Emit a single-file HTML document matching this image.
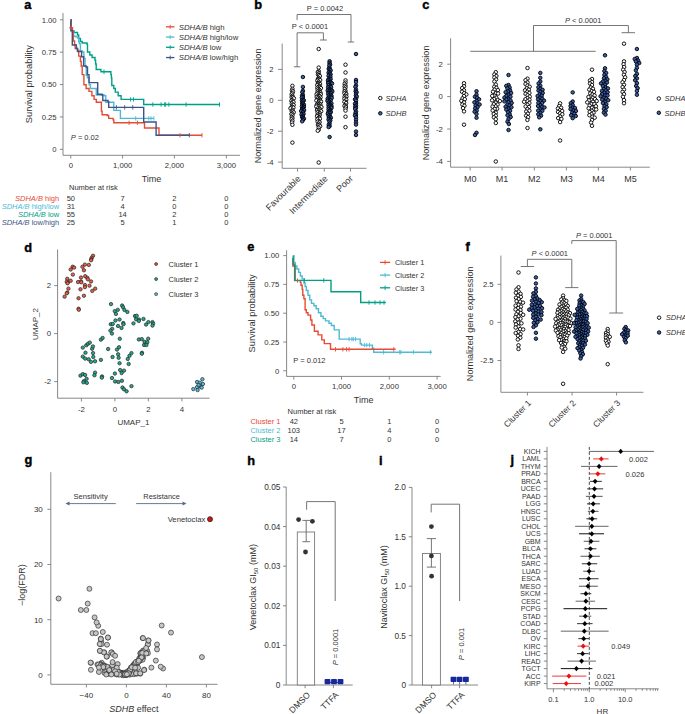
<!DOCTYPE html>
<html><head><meta charset="utf-8"><style>
html,body{margin:0;padding:0;background:#fff;width:685px;height:714px;overflow:hidden;}
svg{display:block;}
text{font-family:"Liberation Sans",sans-serif;}
</style></head><body>
<svg width="685" height="714" viewBox="0 0 685 714">
<rect width="685" height="714" fill="#fff"/>
<text x="24.3" y="9.2" font-size="12.8" font-weight="bold" fill="#000" stroke="#000" stroke-width="0.4">a</text>
<line x1="63.00" y1="13.00" x2="63.00" y2="155.30" stroke="#7a7a7a" stroke-width="0.9" />
<line x1="63.00" y1="155.30" x2="240.00" y2="155.30" stroke="#7a7a7a" stroke-width="0.9" />
<line x1="59.90" y1="19.80" x2="63.00" y2="19.80" stroke="#7a7a7a" stroke-width="0.9" />
<text x="56.60" y="22.57" font-size="7.7" text-anchor="end" fill="#333" >1.00</text>
<line x1="59.90" y1="52.18" x2="63.00" y2="52.18" stroke="#7a7a7a" stroke-width="0.9" />
<text x="56.60" y="54.95" font-size="7.7" text-anchor="end" fill="#333" >0.75</text>
<line x1="59.90" y1="84.55" x2="63.00" y2="84.55" stroke="#7a7a7a" stroke-width="0.9" />
<text x="56.60" y="87.32" font-size="7.7" text-anchor="end" fill="#333" >0.50</text>
<line x1="59.90" y1="116.93" x2="63.00" y2="116.93" stroke="#7a7a7a" stroke-width="0.9" />
<text x="56.60" y="119.70" font-size="7.7" text-anchor="end" fill="#333" >0.25</text>
<line x1="59.90" y1="149.30" x2="63.00" y2="149.30" stroke="#7a7a7a" stroke-width="0.9" />
<text x="56.60" y="152.07" font-size="7.7" text-anchor="end" fill="#333" >0</text>
<line x1="70.80" y1="155.30" x2="70.80" y2="158.50" stroke="#7a7a7a" stroke-width="0.9" />
<text x="70.80" y="168.40" font-size="7.7" text-anchor="middle" fill="#333" >0</text>
<line x1="122.60" y1="155.30" x2="122.60" y2="158.50" stroke="#7a7a7a" stroke-width="0.9" />
<text x="122.60" y="168.40" font-size="7.7" text-anchor="middle" fill="#333" >1,000</text>
<line x1="174.40" y1="155.30" x2="174.40" y2="158.50" stroke="#7a7a7a" stroke-width="0.9" />
<text x="174.40" y="168.40" font-size="7.7" text-anchor="middle" fill="#333" >2,000</text>
<line x1="226.40" y1="155.30" x2="226.40" y2="158.50" stroke="#7a7a7a" stroke-width="0.9" />
<text x="226.40" y="168.40" font-size="7.7" text-anchor="middle" fill="#333" >3,000</text>
<text x="151.50" y="181.70" font-size="9" text-anchor="middle" fill="#333" >Time</text>
<text transform="translate(28.40,84.20) rotate(-90)" x="0" y="3.35" font-size="9.3" text-anchor="middle" fill="#333">Survival probability</text>
<path d="M70.80,19.80 H71.30 V31.00 H74.00 V32.50 H77.50 V35.00 H78.70 V38.50 H80.40 V41.50 H82.20 V43.00 H87.00 V44.20 H87.50 V52.00 H89.80 V55.00 H92.10 V57.50 H95.00 V60.30 H95.60 V64.00 H96.20 V69.50 H100.90 V71.80 H110.90 V74.60 H111.40 V78.00 H111.80 V85.50 H113.80 V88.50 H115.30 V92.10 H118.20 V95.80 H121.10 V99.40 H143.70 V104.50 H220.00" fill="none" stroke="#00A087" stroke-width="1.4"/>
<path d="M70.80,19.80 H71.10 V31.60 H72.80 V32.80 H73.40 V36.30 H75.80 V36.90 H77.50 V38.00 H78.70 V41.50 H79.30 V43.90 H80.40 V50.90 H82.20 V52.00 H83.90 V58.50 H85.10 V66.10 H86.30 V75.40 H87.40 V77.70 H89.20 V84.70 H90.40 V88.50 H96.30 V95.00 H104.30 V95.80 H105.80 V102.30 H113.80 V110.40 H120.40 V118.40 H153.90" fill="none" stroke="#4DBBD5" stroke-width="1.4"/>
<path d="M70.80,19.80 H71.10 V27.80 H72.30 V30.40 H73.40 V41.00 H74.60 V45.00 H75.20 V48.50 H77.50 V50.30 H78.70 V56.10 H80.40 V61.40 H81.20 V66.00 H82.20 V74.60 H83.90 V84.80 H86.10 V88.50 H89.00 V91.40 H91.90 V95.80 H94.10 V99.40 H96.30 V102.30 H101.40 V111.10 H102.10 V114.70 H107.20 V115.50 H108.70 V118.40 H113.10 V119.90 H113.80 V122.80 H144.50 V128.00 H159.00 V135.20 H202.00" fill="none" stroke="#E64B35" stroke-width="1.4"/>
<path d="M70.80,19.80 H70.90 V30.40 H72.30 V45.00 H76.40 V48.50 H77.50 V51.50 H81.60 V56.70 H83.60 V66.00 H86.10 V67.00 H87.50 V74.60 H89.00 V82.60 H97.70 V94.30 H102.10 V95.00 H102.80 V100.50 H108.00 V101.60 H108.70 V107.40 H143.70 V122.00 H156.10 V135.20 H189.30" fill="none" stroke="#3C5488" stroke-width="1.4"/>
<line x1="152.80" y1="102.30" x2="152.80" y2="106.70" stroke="#00A087" stroke-width="0.9" />
<line x1="161.10" y1="102.30" x2="161.10" y2="106.70" stroke="#00A087" stroke-width="0.9" />
<line x1="164.70" y1="102.30" x2="164.70" y2="106.70" stroke="#00A087" stroke-width="0.9" />
<line x1="165.60" y1="102.30" x2="165.60" y2="106.70" stroke="#00A087" stroke-width="0.9" />
<line x1="168.90" y1="102.30" x2="168.90" y2="106.70" stroke="#00A087" stroke-width="0.9" />
<line x1="186.10" y1="102.30" x2="186.10" y2="106.70" stroke="#00A087" stroke-width="0.9" />
<line x1="219.50" y1="102.30" x2="219.50" y2="106.70" stroke="#00A087" stroke-width="0.9" />
<line x1="130.60" y1="97.20" x2="130.60" y2="101.60" stroke="#00A087" stroke-width="0.9" />
<line x1="133.50" y1="97.20" x2="133.50" y2="101.60" stroke="#00A087" stroke-width="0.9" />
<line x1="104.00" y1="69.60" x2="104.00" y2="74.00" stroke="#00A087" stroke-width="0.9" />
<line x1="129.10" y1="120.60" x2="129.10" y2="125.00" stroke="#E64B35" stroke-width="0.9" />
<line x1="137.40" y1="120.60" x2="137.40" y2="125.00" stroke="#E64B35" stroke-width="0.9" />
<line x1="179.90" y1="133.00" x2="179.90" y2="137.40" stroke="#E64B35" stroke-width="0.9" />
<line x1="202.00" y1="133.00" x2="202.00" y2="137.40" stroke="#E64B35" stroke-width="0.9" />
<line x1="69.00" y1="27.80" x2="73.40" y2="27.80" stroke="#E64B35" stroke-width="0.9" />
<line x1="71.20" y1="25.60" x2="71.20" y2="30.00" stroke="#E64B35" stroke-width="0.9" />
<line x1="116.40" y1="105.20" x2="116.40" y2="109.60" stroke="#3C5488" stroke-width="0.9" />
<line x1="124.70" y1="105.20" x2="124.70" y2="109.60" stroke="#3C5488" stroke-width="0.9" />
<line x1="132.80" y1="105.20" x2="132.80" y2="109.60" stroke="#3C5488" stroke-width="0.9" />
<line x1="189.30" y1="133.00" x2="189.30" y2="137.40" stroke="#3C5488" stroke-width="0.9" />
<line x1="135.70" y1="116.20" x2="135.70" y2="120.60" stroke="#4DBBD5" stroke-width="0.9" />
<line x1="148.80" y1="116.20" x2="148.80" y2="120.60" stroke="#4DBBD5" stroke-width="0.9" />
<line x1="151.00" y1="116.20" x2="151.00" y2="120.60" stroke="#4DBBD5" stroke-width="0.9" />
<line x1="153.90" y1="116.20" x2="153.90" y2="120.60" stroke="#4DBBD5" stroke-width="0.9" />
<text x="70.80" y="139.70" font-size="7.5" text-anchor="start" fill="#333" ><tspan font-style="italic">P</tspan> = 0.02</text>
<line x1="166.00" y1="26.80" x2="174.40" y2="26.80" stroke="#E64B35" stroke-width="1.3" />
<line x1="170.20" y1="24.80" x2="170.20" y2="28.80" stroke="#E64B35" stroke-width="0.9" />
<text x="178.80" y="29.60" font-size="7.75" text-anchor="start" fill="#333" ><tspan font-style="italic">SDHA/B</tspan> high</text>
<line x1="166.00" y1="37.05" x2="174.40" y2="37.05" stroke="#4DBBD5" stroke-width="1.3" />
<line x1="170.20" y1="35.05" x2="170.20" y2="39.05" stroke="#4DBBD5" stroke-width="0.9" />
<text x="178.80" y="39.85" font-size="7.75" text-anchor="start" fill="#333" ><tspan font-style="italic">SDHA/B</tspan> high/low</text>
<line x1="166.00" y1="47.30" x2="174.40" y2="47.30" stroke="#00A087" stroke-width="1.3" />
<line x1="170.20" y1="45.30" x2="170.20" y2="49.30" stroke="#00A087" stroke-width="0.9" />
<text x="178.80" y="50.10" font-size="7.75" text-anchor="start" fill="#333" ><tspan font-style="italic">SDHA/B</tspan> low</text>
<line x1="166.00" y1="57.55" x2="174.40" y2="57.55" stroke="#3C5488" stroke-width="1.3" />
<line x1="170.20" y1="55.55" x2="170.20" y2="59.55" stroke="#3C5488" stroke-width="0.9" />
<text x="178.80" y="60.35" font-size="7.75" text-anchor="start" fill="#333" ><tspan font-style="italic">SDHA/B</tspan> low/high</text>
<text x="69.00" y="190.00" font-size="7.5" text-anchor="start" fill="#333" >Number at risk</text>
<text x="59.20" y="201.00" font-size="7.5" text-anchor="end" fill="#E64B35" ><tspan font-style="italic">SDHA/B</tspan> high</text>
<text x="70.80" y="201.00" font-size="7.5" text-anchor="middle" fill="#333" >50</text>
<text x="122.60" y="201.00" font-size="7.5" text-anchor="middle" fill="#333" >7</text>
<text x="174.40" y="201.00" font-size="7.5" text-anchor="middle" fill="#333" >2</text>
<text x="226.40" y="201.00" font-size="7.5" text-anchor="middle" fill="#333" >0</text>
<text x="59.20" y="209.15" font-size="7.5" text-anchor="end" fill="#4DBBD5" ><tspan font-style="italic">SDHA/B</tspan> high/low</text>
<text x="70.80" y="209.15" font-size="7.5" text-anchor="middle" fill="#333" >31</text>
<text x="122.60" y="209.15" font-size="7.5" text-anchor="middle" fill="#333" >4</text>
<text x="174.40" y="209.15" font-size="7.5" text-anchor="middle" fill="#333" >0</text>
<text x="226.40" y="209.15" font-size="7.5" text-anchor="middle" fill="#333" >0</text>
<text x="59.20" y="217.30" font-size="7.5" text-anchor="end" fill="#00A087" ><tspan font-style="italic">SDHA/B</tspan> low</text>
<text x="70.80" y="217.30" font-size="7.5" text-anchor="middle" fill="#333" >55</text>
<text x="122.60" y="217.30" font-size="7.5" text-anchor="middle" fill="#333" >14</text>
<text x="174.40" y="217.30" font-size="7.5" text-anchor="middle" fill="#333" >2</text>
<text x="226.40" y="217.30" font-size="7.5" text-anchor="middle" fill="#333" >0</text>
<text x="59.20" y="225.45" font-size="7.5" text-anchor="end" fill="#3C5488" ><tspan font-style="italic">SDHA/B</tspan> low/high</text>
<text x="70.80" y="225.45" font-size="7.5" text-anchor="middle" fill="#333" >25</text>
<text x="122.60" y="225.45" font-size="7.5" text-anchor="middle" fill="#333" >5</text>
<text x="174.40" y="225.45" font-size="7.5" text-anchor="middle" fill="#333" >1</text>
<text x="226.40" y="225.45" font-size="7.5" text-anchor="middle" fill="#333" >0</text>
<text x="254.3" y="9.0" font-size="12.8" font-weight="bold" fill="#000" stroke="#000" stroke-width="0.4">b</text>
<line x1="282.20" y1="43.60" x2="282.20" y2="168.30" stroke="#7a7a7a" stroke-width="0.9" />
<line x1="282.20" y1="168.30" x2="366.50" y2="168.30" stroke="#7a7a7a" stroke-width="0.9" />
<line x1="278.00" y1="69.40" x2="282.20" y2="69.40" stroke="#7a7a7a" stroke-width="0.9" />
<text x="273.60" y="72.17" font-size="7.7" text-anchor="end" fill="#333" >2</text>
<line x1="278.00" y1="100.30" x2="282.20" y2="100.30" stroke="#7a7a7a" stroke-width="0.9" />
<text x="273.60" y="103.07" font-size="7.7" text-anchor="end" fill="#333" >0</text>
<line x1="278.00" y1="131.20" x2="282.20" y2="131.20" stroke="#7a7a7a" stroke-width="0.9" />
<text x="273.60" y="133.97" font-size="7.7" text-anchor="end" fill="#333" >-2</text>
<line x1="278.00" y1="162.10" x2="282.20" y2="162.10" stroke="#7a7a7a" stroke-width="0.9" />
<text x="273.60" y="164.87" font-size="7.7" text-anchor="end" fill="#333" >-4</text>
<line x1="297.50" y1="168.30" x2="297.50" y2="171.60" stroke="#7a7a7a" stroke-width="0.9" />
<line x1="324.30" y1="168.30" x2="324.30" y2="171.60" stroke="#7a7a7a" stroke-width="0.9" />
<line x1="350.50" y1="168.30" x2="350.50" y2="171.60" stroke="#7a7a7a" stroke-width="0.9" />
<text transform="translate(257.90,105.90) rotate(-90)" x="0" y="3.26" font-size="9.05" text-anchor="middle" fill="#333">Normalized gene expression</text>
<text transform="translate(301.3,179.3) rotate(-45)" x="0" y="0" font-size="9" text-anchor="end" fill="#333">Favourable</text>
<text transform="translate(328.3,179.1) rotate(-45)" x="0" y="0" font-size="9" text-anchor="end" fill="#333">Intermediate</text>
<text transform="translate(353.5,179.1) rotate(-45)" x="0" y="0" font-size="9" text-anchor="end" fill="#333">Poor</text>
<path d="M297.10,20.10 V14.50 H351.00 V42.00" fill="none" stroke="#666" stroke-width="0.9"/>
<line x1="347.80" y1="42.00" x2="354.20" y2="42.00" stroke="#666" stroke-width="0.9" />
<text x="325.00" y="11.30" font-size="7.5" text-anchor="middle" fill="#333" >P = 0.0042</text>
<path d="M297.10,66.80 V32.80 H323.40 V40.00" fill="none" stroke="#666" stroke-width="0.9"/>
<line x1="293.90" y1="66.80" x2="300.30" y2="66.80" stroke="#666" stroke-width="0.9" />
<line x1="319.90" y1="40.00" x2="326.90" y2="40.00" stroke="#666" stroke-width="0.9" />
<text x="310.00" y="28.50" font-size="7.5" text-anchor="middle" fill="#333" >P &lt; 0.0001</text>
<circle cx="292.40" cy="85.83" r="1.75" fill="#fff" stroke="#000" stroke-width="0.9"/>
<circle cx="292.40" cy="88.84" r="1.75" fill="#fff" stroke="#000" stroke-width="0.9"/>
<circle cx="292.04" cy="90.53" r="1.75" fill="#fff" stroke="#000" stroke-width="0.9"/>
<circle cx="292.95" cy="91.49" r="1.75" fill="#fff" stroke="#000" stroke-width="0.9"/>
<circle cx="292.40" cy="93.19" r="1.75" fill="#fff" stroke="#000" stroke-width="0.9"/>
<circle cx="291.61" cy="94.42" r="1.75" fill="#fff" stroke="#000" stroke-width="0.9"/>
<circle cx="292.40" cy="95.86" r="1.75" fill="#fff" stroke="#000" stroke-width="0.9"/>
<circle cx="291.65" cy="97.16" r="1.75" fill="#fff" stroke="#000" stroke-width="0.9"/>
<circle cx="292.97" cy="97.39" r="1.75" fill="#fff" stroke="#000" stroke-width="0.9"/>
<circle cx="293.89" cy="98.34" r="1.75" fill="#fff" stroke="#000" stroke-width="0.9"/>
<circle cx="292.40" cy="100.30" r="1.75" fill="#fff" stroke="#000" stroke-width="0.9"/>
<circle cx="291.36" cy="100.77" r="1.75" fill="#fff" stroke="#000" stroke-width="0.9"/>
<circle cx="292.40" cy="102.10" r="1.75" fill="#fff" stroke="#000" stroke-width="0.9"/>
<circle cx="293.48" cy="102.11" r="1.75" fill="#fff" stroke="#000" stroke-width="0.9"/>
<circle cx="291.75" cy="103.54" r="1.75" fill="#fff" stroke="#000" stroke-width="0.9"/>
<circle cx="292.54" cy="104.77" r="1.75" fill="#fff" stroke="#000" stroke-width="0.9"/>
<circle cx="293.61" cy="105.06" r="1.75" fill="#fff" stroke="#000" stroke-width="0.9"/>
<circle cx="292.40" cy="106.81" r="1.75" fill="#fff" stroke="#000" stroke-width="0.9"/>
<circle cx="291.40" cy="107.48" r="1.75" fill="#fff" stroke="#000" stroke-width="0.9"/>
<circle cx="293.36" cy="107.64" r="1.75" fill="#fff" stroke="#000" stroke-width="0.9"/>
<circle cx="290.46" cy="108.38" r="1.75" fill="#fff" stroke="#000" stroke-width="0.9"/>
<circle cx="292.40" cy="109.91" r="1.75" fill="#fff" stroke="#000" stroke-width="0.9"/>
<circle cx="291.72" cy="111.31" r="1.75" fill="#fff" stroke="#000" stroke-width="0.9"/>
<circle cx="292.79" cy="111.59" r="1.75" fill="#fff" stroke="#000" stroke-width="0.9"/>
<circle cx="293.77" cy="112.37" r="1.75" fill="#fff" stroke="#000" stroke-width="0.9"/>
<circle cx="292.40" cy="113.62" r="1.75" fill="#fff" stroke="#000" stroke-width="0.9"/>
<circle cx="291.38" cy="114.20" r="1.75" fill="#fff" stroke="#000" stroke-width="0.9"/>
<circle cx="292.40" cy="115.54" r="1.75" fill="#fff" stroke="#000" stroke-width="0.9"/>
<circle cx="291.74" cy="116.97" r="1.75" fill="#fff" stroke="#000" stroke-width="0.9"/>
<circle cx="292.48" cy="118.29" r="1.75" fill="#fff" stroke="#000" stroke-width="0.9"/>
<circle cx="291.60" cy="119.33" r="1.75" fill="#fff" stroke="#000" stroke-width="0.9"/>
<circle cx="292.40" cy="120.83" r="1.75" fill="#fff" stroke="#000" stroke-width="0.9"/>
<circle cx="292.02" cy="122.51" r="1.75" fill="#fff" stroke="#000" stroke-width="0.9"/>
<circle cx="292.40" cy="124.79" r="1.75" fill="#fff" stroke="#000" stroke-width="0.9"/>
<circle cx="292.40" cy="142.60" r="1.75" fill="#fff" stroke="#000" stroke-width="0.9"/>
<circle cx="302.90" cy="77.00" r="1.75" fill="#3a5fae" stroke="#000" stroke-width="0.9"/>
<circle cx="302.90" cy="86.90" r="1.75" fill="#3a5fae" stroke="#000" stroke-width="0.9"/>
<circle cx="302.90" cy="90.81" r="1.75" fill="#3a5fae" stroke="#000" stroke-width="0.9"/>
<circle cx="302.29" cy="92.30" r="1.75" fill="#3a5fae" stroke="#000" stroke-width="0.9"/>
<circle cx="302.90" cy="94.79" r="1.75" fill="#3a5fae" stroke="#000" stroke-width="0.9"/>
<circle cx="302.00" cy="95.78" r="1.75" fill="#3a5fae" stroke="#000" stroke-width="0.9"/>
<circle cx="302.90" cy="97.07" r="1.75" fill="#3a5fae" stroke="#000" stroke-width="0.9"/>
<circle cx="301.87" cy="97.61" r="1.75" fill="#3a5fae" stroke="#000" stroke-width="0.9"/>
<circle cx="302.90" cy="99.59" r="1.75" fill="#3a5fae" stroke="#000" stroke-width="0.9"/>
<circle cx="301.93" cy="100.38" r="1.75" fill="#3a5fae" stroke="#000" stroke-width="0.9"/>
<circle cx="303.86" cy="100.40" r="1.75" fill="#3a5fae" stroke="#000" stroke-width="0.9"/>
<circle cx="302.90" cy="101.52" r="1.75" fill="#3a5fae" stroke="#000" stroke-width="0.9"/>
<circle cx="302.15" cy="102.82" r="1.75" fill="#3a5fae" stroke="#000" stroke-width="0.9"/>
<circle cx="303.12" cy="103.62" r="1.75" fill="#3a5fae" stroke="#000" stroke-width="0.9"/>
<circle cx="302.25" cy="104.67" r="1.75" fill="#3a5fae" stroke="#000" stroke-width="0.9"/>
<circle cx="303.92" cy="104.83" r="1.75" fill="#3a5fae" stroke="#000" stroke-width="0.9"/>
<circle cx="302.93" cy="106.08" r="1.75" fill="#3a5fae" stroke="#000" stroke-width="0.9"/>
<circle cx="301.90" cy="106.64" r="1.75" fill="#3a5fae" stroke="#000" stroke-width="0.9"/>
<circle cx="303.87" cy="106.94" r="1.75" fill="#3a5fae" stroke="#000" stroke-width="0.9"/>
<circle cx="302.90" cy="108.02" r="1.75" fill="#3a5fae" stroke="#000" stroke-width="0.9"/>
<circle cx="302.04" cy="109.11" r="1.75" fill="#3a5fae" stroke="#000" stroke-width="0.9"/>
<circle cx="303.04" cy="109.81" r="1.75" fill="#3a5fae" stroke="#000" stroke-width="0.9"/>
<circle cx="304.10" cy="110.15" r="1.75" fill="#3a5fae" stroke="#000" stroke-width="0.9"/>
<circle cx="302.23" cy="111.01" r="1.75" fill="#3a5fae" stroke="#000" stroke-width="0.9"/>
<circle cx="301.15" cy="111.11" r="1.75" fill="#3a5fae" stroke="#000" stroke-width="0.9"/>
<circle cx="303.07" cy="112.14" r="1.75" fill="#3a5fae" stroke="#000" stroke-width="0.9"/>
<circle cx="302.44" cy="113.61" r="1.75" fill="#3a5fae" stroke="#000" stroke-width="0.9"/>
<circle cx="303.50" cy="113.98" r="1.75" fill="#3a5fae" stroke="#000" stroke-width="0.9"/>
<circle cx="301.52" cy="114.55" r="1.75" fill="#3a5fae" stroke="#000" stroke-width="0.9"/>
<circle cx="302.90" cy="115.89" r="1.75" fill="#3a5fae" stroke="#000" stroke-width="0.9"/>
<circle cx="302.06" cy="117.02" r="1.75" fill="#3a5fae" stroke="#000" stroke-width="0.9"/>
<circle cx="302.97" cy="117.98" r="1.75" fill="#3a5fae" stroke="#000" stroke-width="0.9"/>
<circle cx="303.96" cy="118.69" r="1.75" fill="#3a5fae" stroke="#000" stroke-width="0.9"/>
<circle cx="302.90" cy="119.93" r="1.75" fill="#3a5fae" stroke="#000" stroke-width="0.9"/>
<circle cx="302.20" cy="121.30" r="1.75" fill="#3a5fae" stroke="#000" stroke-width="0.9"/>
<circle cx="318.70" cy="49.00" r="1.75" fill="#fff" stroke="#000" stroke-width="0.9"/>
<circle cx="318.70" cy="67.60" r="1.75" fill="#fff" stroke="#000" stroke-width="0.9"/>
<circle cx="318.70" cy="71.08" r="1.75" fill="#fff" stroke="#000" stroke-width="0.9"/>
<circle cx="317.83" cy="72.16" r="1.75" fill="#fff" stroke="#000" stroke-width="0.9"/>
<circle cx="318.70" cy="73.27" r="1.75" fill="#fff" stroke="#000" stroke-width="0.9"/>
<circle cx="317.94" cy="74.55" r="1.75" fill="#fff" stroke="#000" stroke-width="0.9"/>
<circle cx="318.97" cy="75.09" r="1.75" fill="#fff" stroke="#000" stroke-width="0.9"/>
<circle cx="319.86" cy="76.12" r="1.75" fill="#fff" stroke="#000" stroke-width="0.9"/>
<circle cx="318.70" cy="77.88" r="1.75" fill="#fff" stroke="#000" stroke-width="0.9"/>
<circle cx="317.92" cy="79.12" r="1.75" fill="#fff" stroke="#000" stroke-width="0.9"/>
<circle cx="319.13" cy="79.52" r="1.75" fill="#fff" stroke="#000" stroke-width="0.9"/>
<circle cx="320.15" cy="80.12" r="1.75" fill="#fff" stroke="#000" stroke-width="0.9"/>
<circle cx="317.35" cy="80.65" r="1.75" fill="#fff" stroke="#000" stroke-width="0.9"/>
<circle cx="318.70" cy="81.82" r="1.75" fill="#fff" stroke="#000" stroke-width="0.9"/>
<circle cx="317.97" cy="83.14" r="1.75" fill="#fff" stroke="#000" stroke-width="0.9"/>
<circle cx="319.01" cy="83.60" r="1.75" fill="#fff" stroke="#000" stroke-width="0.9"/>
<circle cx="320.06" cy="84.03" r="1.75" fill="#fff" stroke="#000" stroke-width="0.9"/>
<circle cx="318.33" cy="85.00" r="1.75" fill="#fff" stroke="#000" stroke-width="0.9"/>
<circle cx="317.25" cy="85.09" r="1.75" fill="#fff" stroke="#000" stroke-width="0.9"/>
<circle cx="319.23" cy="85.99" r="1.75" fill="#fff" stroke="#000" stroke-width="0.9"/>
<circle cx="318.41" cy="87.15" r="1.75" fill="#fff" stroke="#000" stroke-width="0.9"/>
<circle cx="319.96" cy="87.32" r="1.75" fill="#fff" stroke="#000" stroke-width="0.9"/>
<circle cx="317.40" cy="87.78" r="1.75" fill="#fff" stroke="#000" stroke-width="0.9"/>
<circle cx="320.92" cy="88.15" r="1.75" fill="#fff" stroke="#000" stroke-width="0.9"/>
<circle cx="318.70" cy="89.07" r="1.75" fill="#fff" stroke="#000" stroke-width="0.9"/>
<circle cx="317.66" cy="89.57" r="1.75" fill="#fff" stroke="#000" stroke-width="0.9"/>
<circle cx="319.57" cy="90.14" r="1.75" fill="#fff" stroke="#000" stroke-width="0.9"/>
<circle cx="318.64" cy="91.06" r="1.75" fill="#fff" stroke="#000" stroke-width="0.9"/>
<circle cx="317.62" cy="91.66" r="1.75" fill="#fff" stroke="#000" stroke-width="0.9"/>
<circle cx="319.43" cy="92.29" r="1.75" fill="#fff" stroke="#000" stroke-width="0.9"/>
<circle cx="320.49" cy="92.65" r="1.75" fill="#fff" stroke="#000" stroke-width="0.9"/>
<circle cx="318.53" cy="93.27" r="1.75" fill="#fff" stroke="#000" stroke-width="0.9"/>
<circle cx="317.45" cy="93.45" r="1.75" fill="#fff" stroke="#000" stroke-width="0.9"/>
<circle cx="319.70" cy="94.03" r="1.75" fill="#fff" stroke="#000" stroke-width="0.9"/>
<circle cx="320.78" cy="94.39" r="1.75" fill="#fff" stroke="#000" stroke-width="0.9"/>
<circle cx="316.56" cy="94.46" r="1.75" fill="#fff" stroke="#000" stroke-width="0.9"/>
<circle cx="318.70" cy="95.95" r="1.75" fill="#fff" stroke="#000" stroke-width="0.9"/>
<circle cx="317.62" cy="96.11" r="1.75" fill="#fff" stroke="#000" stroke-width="0.9"/>
<circle cx="319.77" cy="96.17" r="1.75" fill="#fff" stroke="#000" stroke-width="0.9"/>
<circle cx="316.70" cy="97.04" r="1.75" fill="#fff" stroke="#000" stroke-width="0.9"/>
<circle cx="320.48" cy="97.52" r="1.75" fill="#fff" stroke="#000" stroke-width="0.9"/>
<circle cx="318.70" cy="97.87" r="1.75" fill="#fff" stroke="#000" stroke-width="0.9"/>
<circle cx="317.66" cy="98.36" r="1.75" fill="#fff" stroke="#000" stroke-width="0.9"/>
<circle cx="319.49" cy="99.10" r="1.75" fill="#fff" stroke="#000" stroke-width="0.9"/>
<circle cx="318.48" cy="99.70" r="1.75" fill="#fff" stroke="#000" stroke-width="0.9"/>
<circle cx="317.44" cy="100.19" r="1.75" fill="#fff" stroke="#000" stroke-width="0.9"/>
<circle cx="320.18" cy="100.49" r="1.75" fill="#fff" stroke="#000" stroke-width="0.9"/>
<circle cx="316.37" cy="100.50" r="1.75" fill="#fff" stroke="#000" stroke-width="0.9"/>
<circle cx="319.04" cy="101.23" r="1.75" fill="#fff" stroke="#000" stroke-width="0.9"/>
<circle cx="320.99" cy="101.67" r="1.75" fill="#fff" stroke="#000" stroke-width="0.9"/>
<circle cx="318.39" cy="102.66" r="1.75" fill="#fff" stroke="#000" stroke-width="0.9"/>
<circle cx="319.35" cy="103.50" r="1.75" fill="#fff" stroke="#000" stroke-width="0.9"/>
<circle cx="317.62" cy="103.93" r="1.75" fill="#fff" stroke="#000" stroke-width="0.9"/>
<circle cx="320.27" cy="104.44" r="1.75" fill="#fff" stroke="#000" stroke-width="0.9"/>
<circle cx="318.61" cy="104.82" r="1.75" fill="#fff" stroke="#000" stroke-width="0.9"/>
<circle cx="316.74" cy="104.97" r="1.75" fill="#fff" stroke="#000" stroke-width="0.9"/>
<circle cx="319.40" cy="106.04" r="1.75" fill="#fff" stroke="#000" stroke-width="0.9"/>
<circle cx="317.90" cy="106.18" r="1.75" fill="#fff" stroke="#000" stroke-width="0.9"/>
<circle cx="320.47" cy="106.36" r="1.75" fill="#fff" stroke="#000" stroke-width="0.9"/>
<circle cx="316.32" cy="106.63" r="1.75" fill="#fff" stroke="#000" stroke-width="0.9"/>
<circle cx="321.43" cy="107.16" r="1.75" fill="#fff" stroke="#000" stroke-width="0.9"/>
<circle cx="318.70" cy="108.54" r="1.75" fill="#fff" stroke="#000" stroke-width="0.9"/>
<circle cx="317.62" cy="108.60" r="1.75" fill="#fff" stroke="#000" stroke-width="0.9"/>
<circle cx="319.75" cy="108.92" r="1.75" fill="#fff" stroke="#000" stroke-width="0.9"/>
<circle cx="317.03" cy="110.10" r="1.75" fill="#fff" stroke="#000" stroke-width="0.9"/>
<circle cx="318.70" cy="110.34" r="1.75" fill="#fff" stroke="#000" stroke-width="0.9"/>
<circle cx="320.17" cy="110.59" r="1.75" fill="#fff" stroke="#000" stroke-width="0.9"/>
<circle cx="321.16" cy="111.28" r="1.75" fill="#fff" stroke="#000" stroke-width="0.9"/>
<circle cx="318.70" cy="112.33" r="1.75" fill="#fff" stroke="#000" stroke-width="0.9"/>
<circle cx="317.63" cy="112.50" r="1.75" fill="#fff" stroke="#000" stroke-width="0.9"/>
<circle cx="319.63" cy="113.25" r="1.75" fill="#fff" stroke="#000" stroke-width="0.9"/>
<circle cx="318.70" cy="114.41" r="1.75" fill="#fff" stroke="#000" stroke-width="0.9"/>
<circle cx="317.64" cy="114.76" r="1.75" fill="#fff" stroke="#000" stroke-width="0.9"/>
<circle cx="319.65" cy="115.26" r="1.75" fill="#fff" stroke="#000" stroke-width="0.9"/>
<circle cx="318.37" cy="116.13" r="1.75" fill="#fff" stroke="#000" stroke-width="0.9"/>
<circle cx="317.08" cy="116.29" r="1.75" fill="#fff" stroke="#000" stroke-width="0.9"/>
<circle cx="319.11" cy="117.45" r="1.75" fill="#fff" stroke="#000" stroke-width="0.9"/>
<circle cx="318.13" cy="118.25" r="1.75" fill="#fff" stroke="#000" stroke-width="0.9"/>
<circle cx="319.86" cy="118.74" r="1.75" fill="#fff" stroke="#000" stroke-width="0.9"/>
<circle cx="317.33" cy="119.45" r="1.75" fill="#fff" stroke="#000" stroke-width="0.9"/>
<circle cx="318.70" cy="121.24" r="1.75" fill="#fff" stroke="#000" stroke-width="0.9"/>
<circle cx="317.65" cy="121.65" r="1.75" fill="#fff" stroke="#000" stroke-width="0.9"/>
<circle cx="319.61" cy="122.21" r="1.75" fill="#fff" stroke="#000" stroke-width="0.9"/>
<circle cx="318.70" cy="123.66" r="1.75" fill="#fff" stroke="#000" stroke-width="0.9"/>
<circle cx="317.94" cy="124.94" r="1.75" fill="#fff" stroke="#000" stroke-width="0.9"/>
<circle cx="319.36" cy="125.09" r="1.75" fill="#fff" stroke="#000" stroke-width="0.9"/>
<circle cx="320.17" cy="126.27" r="1.75" fill="#fff" stroke="#000" stroke-width="0.9"/>
<circle cx="318.70" cy="127.71" r="1.75" fill="#fff" stroke="#000" stroke-width="0.9"/>
<circle cx="318.70" cy="129.81" r="1.75" fill="#fff" stroke="#000" stroke-width="0.9"/>
<circle cx="317.77" cy="130.72" r="1.75" fill="#fff" stroke="#000" stroke-width="0.9"/>
<circle cx="318.70" cy="162.50" r="1.75" fill="#fff" stroke="#000" stroke-width="0.9"/>
<circle cx="329.60" cy="61.25" r="1.75" fill="#3a5fae" stroke="#000" stroke-width="0.9"/>
<circle cx="329.49" cy="63.04" r="1.75" fill="#3a5fae" stroke="#000" stroke-width="0.9"/>
<circle cx="330.12" cy="64.50" r="1.75" fill="#3a5fae" stroke="#000" stroke-width="0.9"/>
<circle cx="329.25" cy="65.58" r="1.75" fill="#3a5fae" stroke="#000" stroke-width="0.9"/>
<circle cx="329.60" cy="67.83" r="1.75" fill="#3a5fae" stroke="#000" stroke-width="0.9"/>
<circle cx="328.71" cy="68.86" r="1.75" fill="#3a5fae" stroke="#000" stroke-width="0.9"/>
<circle cx="329.67" cy="69.68" r="1.75" fill="#3a5fae" stroke="#000" stroke-width="0.9"/>
<circle cx="330.66" cy="70.42" r="1.75" fill="#3a5fae" stroke="#000" stroke-width="0.9"/>
<circle cx="329.60" cy="71.96" r="1.75" fill="#3a5fae" stroke="#000" stroke-width="0.9"/>
<circle cx="328.60" cy="72.64" r="1.75" fill="#3a5fae" stroke="#000" stroke-width="0.9"/>
<circle cx="329.60" cy="73.80" r="1.75" fill="#3a5fae" stroke="#000" stroke-width="0.9"/>
<circle cx="330.62" cy="74.39" r="1.75" fill="#3a5fae" stroke="#000" stroke-width="0.9"/>
<circle cx="329.60" cy="75.63" r="1.75" fill="#3a5fae" stroke="#000" stroke-width="0.9"/>
<circle cx="328.52" cy="75.77" r="1.75" fill="#3a5fae" stroke="#000" stroke-width="0.9"/>
<circle cx="330.38" cy="76.87" r="1.75" fill="#3a5fae" stroke="#000" stroke-width="0.9"/>
<circle cx="329.60" cy="78.45" r="1.75" fill="#3a5fae" stroke="#000" stroke-width="0.9"/>
<circle cx="328.59" cy="79.10" r="1.75" fill="#3a5fae" stroke="#000" stroke-width="0.9"/>
<circle cx="330.59" cy="79.16" r="1.75" fill="#3a5fae" stroke="#000" stroke-width="0.9"/>
<circle cx="329.60" cy="80.54" r="1.75" fill="#3a5fae" stroke="#000" stroke-width="0.9"/>
<circle cx="327.98" cy="80.59" r="1.75" fill="#3a5fae" stroke="#000" stroke-width="0.9"/>
<circle cx="328.99" cy="82.03" r="1.75" fill="#3a5fae" stroke="#000" stroke-width="0.9"/>
<circle cx="330.04" cy="82.47" r="1.75" fill="#3a5fae" stroke="#000" stroke-width="0.9"/>
<circle cx="331.11" cy="82.74" r="1.75" fill="#3a5fae" stroke="#000" stroke-width="0.9"/>
<circle cx="328.17" cy="83.20" r="1.75" fill="#3a5fae" stroke="#000" stroke-width="0.9"/>
<circle cx="332.08" cy="83.54" r="1.75" fill="#3a5fae" stroke="#000" stroke-width="0.9"/>
<circle cx="329.60" cy="84.83" r="1.75" fill="#3a5fae" stroke="#000" stroke-width="0.9"/>
<circle cx="328.55" cy="85.22" r="1.75" fill="#3a5fae" stroke="#000" stroke-width="0.9"/>
<circle cx="330.15" cy="86.38" r="1.75" fill="#3a5fae" stroke="#000" stroke-width="0.9"/>
<circle cx="329.17" cy="87.16" r="1.75" fill="#3a5fae" stroke="#000" stroke-width="0.9"/>
<circle cx="331.08" cy="87.29" r="1.75" fill="#3a5fae" stroke="#000" stroke-width="0.9"/>
<circle cx="328.10" cy="87.40" r="1.75" fill="#3a5fae" stroke="#000" stroke-width="0.9"/>
<circle cx="329.60" cy="88.82" r="1.75" fill="#3a5fae" stroke="#000" stroke-width="0.9"/>
<circle cx="328.61" cy="89.53" r="1.75" fill="#3a5fae" stroke="#000" stroke-width="0.9"/>
<circle cx="330.51" cy="89.78" r="1.75" fill="#3a5fae" stroke="#000" stroke-width="0.9"/>
<circle cx="331.57" cy="90.12" r="1.75" fill="#3a5fae" stroke="#000" stroke-width="0.9"/>
<circle cx="327.71" cy="90.53" r="1.75" fill="#3a5fae" stroke="#000" stroke-width="0.9"/>
<circle cx="329.60" cy="91.05" r="1.75" fill="#3a5fae" stroke="#000" stroke-width="0.9"/>
<circle cx="332.30" cy="91.45" r="1.75" fill="#3a5fae" stroke="#000" stroke-width="0.9"/>
<circle cx="329.01" cy="92.57" r="1.75" fill="#3a5fae" stroke="#000" stroke-width="0.9"/>
<circle cx="330.08" cy="92.83" r="1.75" fill="#3a5fae" stroke="#000" stroke-width="0.9"/>
<circle cx="331.15" cy="93.10" r="1.75" fill="#3a5fae" stroke="#000" stroke-width="0.9"/>
<circle cx="328.11" cy="93.54" r="1.75" fill="#3a5fae" stroke="#000" stroke-width="0.9"/>
<circle cx="329.60" cy="94.77" r="1.75" fill="#3a5fae" stroke="#000" stroke-width="0.9"/>
<circle cx="330.68" cy="94.87" r="1.75" fill="#3a5fae" stroke="#000" stroke-width="0.9"/>
<circle cx="328.66" cy="95.67" r="1.75" fill="#3a5fae" stroke="#000" stroke-width="0.9"/>
<circle cx="331.52" cy="96.01" r="1.75" fill="#3a5fae" stroke="#000" stroke-width="0.9"/>
<circle cx="329.60" cy="97.21" r="1.75" fill="#3a5fae" stroke="#000" stroke-width="0.9"/>
<circle cx="330.68" cy="97.29" r="1.75" fill="#3a5fae" stroke="#000" stroke-width="0.9"/>
<circle cx="328.58" cy="97.80" r="1.75" fill="#3a5fae" stroke="#000" stroke-width="0.9"/>
<circle cx="331.65" cy="98.06" r="1.75" fill="#3a5fae" stroke="#000" stroke-width="0.9"/>
<circle cx="327.67" cy="98.76" r="1.75" fill="#3a5fae" stroke="#000" stroke-width="0.9"/>
<circle cx="329.60" cy="100.11" r="1.75" fill="#3a5fae" stroke="#000" stroke-width="0.9"/>
<circle cx="328.54" cy="100.42" r="1.75" fill="#3a5fae" stroke="#000" stroke-width="0.9"/>
<circle cx="330.66" cy="100.45" r="1.75" fill="#3a5fae" stroke="#000" stroke-width="0.9"/>
<circle cx="327.49" cy="100.86" r="1.75" fill="#3a5fae" stroke="#000" stroke-width="0.9"/>
<circle cx="329.60" cy="101.98" r="1.75" fill="#3a5fae" stroke="#000" stroke-width="0.9"/>
<circle cx="328.62" cy="102.75" r="1.75" fill="#3a5fae" stroke="#000" stroke-width="0.9"/>
<circle cx="330.33" cy="103.31" r="1.75" fill="#3a5fae" stroke="#000" stroke-width="0.9"/>
<circle cx="331.41" cy="103.44" r="1.75" fill="#3a5fae" stroke="#000" stroke-width="0.9"/>
<circle cx="329.54" cy="104.54" r="1.75" fill="#3a5fae" stroke="#000" stroke-width="0.9"/>
<circle cx="328.48" cy="104.90" r="1.75" fill="#3a5fae" stroke="#000" stroke-width="0.9"/>
<circle cx="330.53" cy="105.25" r="1.75" fill="#3a5fae" stroke="#000" stroke-width="0.9"/>
<circle cx="331.46" cy="106.17" r="1.75" fill="#3a5fae" stroke="#000" stroke-width="0.9"/>
<circle cx="329.60" cy="106.46" r="1.75" fill="#3a5fae" stroke="#000" stroke-width="0.9"/>
<circle cx="328.63" cy="107.23" r="1.75" fill="#3a5fae" stroke="#000" stroke-width="0.9"/>
<circle cx="330.53" cy="107.37" r="1.75" fill="#3a5fae" stroke="#000" stroke-width="0.9"/>
<circle cx="331.55" cy="107.97" r="1.75" fill="#3a5fae" stroke="#000" stroke-width="0.9"/>
<circle cx="329.60" cy="109.33" r="1.75" fill="#3a5fae" stroke="#000" stroke-width="0.9"/>
<circle cx="328.53" cy="109.51" r="1.75" fill="#3a5fae" stroke="#000" stroke-width="0.9"/>
<circle cx="330.33" cy="110.66" r="1.75" fill="#3a5fae" stroke="#000" stroke-width="0.9"/>
<circle cx="329.29" cy="111.16" r="1.75" fill="#3a5fae" stroke="#000" stroke-width="0.9"/>
<circle cx="328.39" cy="112.15" r="1.75" fill="#3a5fae" stroke="#000" stroke-width="0.9"/>
<circle cx="330.78" cy="112.30" r="1.75" fill="#3a5fae" stroke="#000" stroke-width="0.9"/>
<circle cx="329.60" cy="113.00" r="1.75" fill="#3a5fae" stroke="#000" stroke-width="0.9"/>
<circle cx="327.84" cy="113.70" r="1.75" fill="#3a5fae" stroke="#000" stroke-width="0.9"/>
<circle cx="329.60" cy="115.16" r="1.75" fill="#3a5fae" stroke="#000" stroke-width="0.9"/>
<circle cx="328.56" cy="115.65" r="1.75" fill="#3a5fae" stroke="#000" stroke-width="0.9"/>
<circle cx="329.89" cy="116.90" r="1.75" fill="#3a5fae" stroke="#000" stroke-width="0.9"/>
<circle cx="328.91" cy="117.66" r="1.75" fill="#3a5fae" stroke="#000" stroke-width="0.9"/>
<circle cx="330.87" cy="117.68" r="1.75" fill="#3a5fae" stroke="#000" stroke-width="0.9"/>
<circle cx="329.60" cy="119.09" r="1.75" fill="#3a5fae" stroke="#000" stroke-width="0.9"/>
<circle cx="328.55" cy="119.53" r="1.75" fill="#3a5fae" stroke="#000" stroke-width="0.9"/>
<circle cx="330.29" cy="120.47" r="1.75" fill="#3a5fae" stroke="#000" stroke-width="0.9"/>
<circle cx="329.45" cy="121.59" r="1.75" fill="#3a5fae" stroke="#000" stroke-width="0.9"/>
<circle cx="329.60" cy="123.69" r="1.75" fill="#3a5fae" stroke="#000" stroke-width="0.9"/>
<circle cx="328.76" cy="124.82" r="1.75" fill="#3a5fae" stroke="#000" stroke-width="0.9"/>
<circle cx="329.60" cy="126.19" r="1.75" fill="#3a5fae" stroke="#000" stroke-width="0.9"/>
<circle cx="328.65" cy="127.04" r="1.75" fill="#3a5fae" stroke="#000" stroke-width="0.9"/>
<circle cx="329.60" cy="137.00" r="1.75" fill="#3a5fae" stroke="#000" stroke-width="0.9"/>
<circle cx="345.50" cy="64.70" r="1.75" fill="#fff" stroke="#000" stroke-width="0.9"/>
<circle cx="345.50" cy="72.50" r="1.75" fill="#fff" stroke="#000" stroke-width="0.9"/>
<circle cx="345.50" cy="80.36" r="1.75" fill="#fff" stroke="#000" stroke-width="0.9"/>
<circle cx="345.50" cy="82.60" r="1.75" fill="#fff" stroke="#000" stroke-width="0.9"/>
<circle cx="344.71" cy="83.83" r="1.75" fill="#fff" stroke="#000" stroke-width="0.9"/>
<circle cx="345.50" cy="85.55" r="1.75" fill="#fff" stroke="#000" stroke-width="0.9"/>
<circle cx="344.58" cy="86.48" r="1.75" fill="#fff" stroke="#000" stroke-width="0.9"/>
<circle cx="345.50" cy="87.55" r="1.75" fill="#fff" stroke="#000" stroke-width="0.9"/>
<circle cx="344.81" cy="88.94" r="1.75" fill="#fff" stroke="#000" stroke-width="0.9"/>
<circle cx="345.50" cy="90.78" r="1.75" fill="#fff" stroke="#000" stroke-width="0.9"/>
<circle cx="344.50" cy="91.45" r="1.75" fill="#fff" stroke="#000" stroke-width="0.9"/>
<circle cx="345.50" cy="92.90" r="1.75" fill="#fff" stroke="#000" stroke-width="0.9"/>
<circle cx="344.45" cy="93.33" r="1.75" fill="#fff" stroke="#000" stroke-width="0.9"/>
<circle cx="346.31" cy="94.09" r="1.75" fill="#fff" stroke="#000" stroke-width="0.9"/>
<circle cx="345.50" cy="95.67" r="1.75" fill="#fff" stroke="#000" stroke-width="0.9"/>
<circle cx="344.60" cy="96.66" r="1.75" fill="#fff" stroke="#000" stroke-width="0.9"/>
<circle cx="346.39" cy="96.68" r="1.75" fill="#fff" stroke="#000" stroke-width="0.9"/>
<circle cx="345.50" cy="98.42" r="1.75" fill="#fff" stroke="#000" stroke-width="0.9"/>
<circle cx="344.43" cy="98.72" r="1.75" fill="#fff" stroke="#000" stroke-width="0.9"/>
<circle cx="346.23" cy="99.75" r="1.75" fill="#fff" stroke="#000" stroke-width="0.9"/>
<circle cx="345.50" cy="101.72" r="1.75" fill="#fff" stroke="#000" stroke-width="0.9"/>
<circle cx="344.42" cy="101.78" r="1.75" fill="#fff" stroke="#000" stroke-width="0.9"/>
<circle cx="346.15" cy="103.15" r="1.75" fill="#fff" stroke="#000" stroke-width="0.9"/>
<circle cx="345.50" cy="105.26" r="1.75" fill="#fff" stroke="#000" stroke-width="0.9"/>
<circle cx="344.49" cy="105.88" r="1.75" fill="#fff" stroke="#000" stroke-width="0.9"/>
<circle cx="345.89" cy="106.94" r="1.75" fill="#fff" stroke="#000" stroke-width="0.9"/>
<circle cx="345.49" cy="108.61" r="1.75" fill="#fff" stroke="#000" stroke-width="0.9"/>
<circle cx="345.50" cy="110.59" r="1.75" fill="#fff" stroke="#000" stroke-width="0.9"/>
<circle cx="345.50" cy="116.70" r="1.75" fill="#fff" stroke="#000" stroke-width="0.9"/>
<circle cx="345.50" cy="127.20" r="1.75" fill="#fff" stroke="#000" stroke-width="0.9"/>
<circle cx="356.00" cy="54.00" r="1.75" fill="#3a5fae" stroke="#000" stroke-width="0.9"/>
<circle cx="356.00" cy="79.97" r="1.75" fill="#3a5fae" stroke="#000" stroke-width="0.9"/>
<circle cx="356.00" cy="82.06" r="1.75" fill="#3a5fae" stroke="#000" stroke-width="0.9"/>
<circle cx="356.00" cy="85.45" r="1.75" fill="#3a5fae" stroke="#000" stroke-width="0.9"/>
<circle cx="355.40" cy="86.94" r="1.75" fill="#3a5fae" stroke="#000" stroke-width="0.9"/>
<circle cx="356.00" cy="89.58" r="1.75" fill="#3a5fae" stroke="#000" stroke-width="0.9"/>
<circle cx="355.66" cy="91.28" r="1.75" fill="#3a5fae" stroke="#000" stroke-width="0.9"/>
<circle cx="356.58" cy="92.21" r="1.75" fill="#3a5fae" stroke="#000" stroke-width="0.9"/>
<circle cx="356.00" cy="93.75" r="1.75" fill="#3a5fae" stroke="#000" stroke-width="0.9"/>
<circle cx="355.85" cy="95.53" r="1.75" fill="#3a5fae" stroke="#000" stroke-width="0.9"/>
<circle cx="356.75" cy="96.54" r="1.75" fill="#3a5fae" stroke="#000" stroke-width="0.9"/>
<circle cx="356.00" cy="98.63" r="1.75" fill="#3a5fae" stroke="#000" stroke-width="0.9"/>
<circle cx="355.00" cy="99.29" r="1.75" fill="#3a5fae" stroke="#000" stroke-width="0.9"/>
<circle cx="356.00" cy="100.63" r="1.75" fill="#3a5fae" stroke="#000" stroke-width="0.9"/>
<circle cx="356.00" cy="103.17" r="1.75" fill="#3a5fae" stroke="#000" stroke-width="0.9"/>
<circle cx="354.97" cy="103.71" r="1.75" fill="#3a5fae" stroke="#000" stroke-width="0.9"/>
<circle cx="356.00" cy="105.44" r="1.75" fill="#3a5fae" stroke="#000" stroke-width="0.9"/>
<circle cx="355.20" cy="106.65" r="1.75" fill="#3a5fae" stroke="#000" stroke-width="0.9"/>
<circle cx="356.00" cy="107.89" r="1.75" fill="#3a5fae" stroke="#000" stroke-width="0.9"/>
<circle cx="355.16" cy="109.03" r="1.75" fill="#3a5fae" stroke="#000" stroke-width="0.9"/>
<circle cx="356.00" cy="111.53" r="1.75" fill="#3a5fae" stroke="#000" stroke-width="0.9"/>
<circle cx="355.51" cy="113.14" r="1.75" fill="#3a5fae" stroke="#000" stroke-width="0.9"/>
<circle cx="356.00" cy="114.75" r="1.75" fill="#3a5fae" stroke="#000" stroke-width="0.9"/>
<circle cx="355.00" cy="115.43" r="1.75" fill="#3a5fae" stroke="#000" stroke-width="0.9"/>
<circle cx="356.00" cy="117.39" r="1.75" fill="#3a5fae" stroke="#000" stroke-width="0.9"/>
<circle cx="356.00" cy="119.87" r="1.75" fill="#3a5fae" stroke="#000" stroke-width="0.9"/>
<circle cx="356.00" cy="122.54" r="1.75" fill="#3a5fae" stroke="#000" stroke-width="0.9"/>
<circle cx="356.00" cy="124.58" r="1.75" fill="#3a5fae" stroke="#000" stroke-width="0.9"/>
<circle cx="356.00" cy="131.50" r="1.75" fill="#3a5fae" stroke="#000" stroke-width="0.9"/>
<circle cx="356.00" cy="135.00" r="1.75" fill="#3a5fae" stroke="#000" stroke-width="0.9"/>
<circle cx="380.30" cy="98.10" r="1.75" fill="#fff" stroke="#000" stroke-width="0.9"/>
<circle cx="380.30" cy="113.30" r="1.75" fill="#3a5fae" stroke="#000" stroke-width="0.9"/>
<text x="385.60" y="100.80" font-size="7.5" text-anchor="start" fill="#333" font-style="italic" >SDHA</text>
<text x="385.60" y="116.00" font-size="7.5" text-anchor="start" fill="#333" font-style="italic" >SDHB</text>
<text x="422.3" y="8.8" font-size="12.8" font-weight="bold" fill="#000" stroke="#000" stroke-width="0.4">c</text>
<line x1="450.60" y1="38.30" x2="450.60" y2="167.20" stroke="#7a7a7a" stroke-width="0.9" />
<line x1="450.60" y1="167.20" x2="649.80" y2="167.20" stroke="#7a7a7a" stroke-width="0.9" />
<line x1="447.20" y1="64.20" x2="450.60" y2="64.20" stroke="#7a7a7a" stroke-width="0.9" />
<text x="442.80" y="66.97" font-size="7.7" text-anchor="end" fill="#333" >2</text>
<line x1="447.20" y1="96.60" x2="450.60" y2="96.60" stroke="#7a7a7a" stroke-width="0.9" />
<text x="442.80" y="99.37" font-size="7.7" text-anchor="end" fill="#333" >0</text>
<line x1="447.20" y1="129.00" x2="450.60" y2="129.00" stroke="#7a7a7a" stroke-width="0.9" />
<text x="442.80" y="131.77" font-size="7.7" text-anchor="end" fill="#333" >-2</text>
<line x1="447.20" y1="161.40" x2="450.60" y2="161.40" stroke="#7a7a7a" stroke-width="0.9" />
<text x="442.80" y="164.17" font-size="7.7" text-anchor="end" fill="#333" >-4</text>
<line x1="470.20" y1="167.20" x2="470.20" y2="170.40" stroke="#7a7a7a" stroke-width="0.9" />
<text x="470.20" y="182.00" font-size="9" text-anchor="middle" fill="#333" >M0</text>
<line x1="502.10" y1="167.20" x2="502.10" y2="170.40" stroke="#7a7a7a" stroke-width="0.9" />
<text x="502.10" y="182.00" font-size="9" text-anchor="middle" fill="#333" >M1</text>
<line x1="534.30" y1="167.20" x2="534.30" y2="170.40" stroke="#7a7a7a" stroke-width="0.9" />
<text x="534.30" y="182.00" font-size="9" text-anchor="middle" fill="#333" >M2</text>
<line x1="566.40" y1="167.20" x2="566.40" y2="170.40" stroke="#7a7a7a" stroke-width="0.9" />
<text x="566.40" y="182.00" font-size="9" text-anchor="middle" fill="#333" >M3</text>
<line x1="598.40" y1="167.20" x2="598.40" y2="170.40" stroke="#7a7a7a" stroke-width="0.9" />
<text x="598.40" y="182.00" font-size="9" text-anchor="middle" fill="#333" >M4</text>
<line x1="630.40" y1="167.20" x2="630.40" y2="170.40" stroke="#7a7a7a" stroke-width="0.9" />
<text x="630.40" y="182.00" font-size="9" text-anchor="middle" fill="#333" >M5</text>
<text transform="translate(425.50,102.90) rotate(-90)" x="0" y="3.26" font-size="9.05" text-anchor="middle" fill="#333">Normalized gene expression</text>
<line x1="470.20" y1="51.30" x2="595.70" y2="51.30" stroke="#666" stroke-width="0.9" />
<line x1="533.50" y1="25.50" x2="533.50" y2="51.30" stroke="#666" stroke-width="0.9" />
<path d="M533.5,25.5 H628.4 V32.7" fill="none" stroke="#666" stroke-width="0.9"/>
<line x1="621.60" y1="32.70" x2="635.00" y2="32.70" stroke="#666" stroke-width="0.9" />
<text x="583.20" y="23.00" font-size="7.5" text-anchor="middle" fill="#333" ><tspan font-style="italic">P</tspan> &lt; 0.0001</text>
<circle cx="464.00" cy="83.23" r="1.75" fill="#fff" stroke="#000" stroke-width="0.9"/>
<circle cx="464.00" cy="86.27" r="1.75" fill="#fff" stroke="#000" stroke-width="0.9"/>
<circle cx="462.18" cy="88.07" r="1.75" fill="#fff" stroke="#000" stroke-width="0.9"/>
<circle cx="464.00" cy="90.31" r="1.75" fill="#fff" stroke="#000" stroke-width="0.9"/>
<circle cx="461.97" cy="91.71" r="1.75" fill="#fff" stroke="#000" stroke-width="0.9"/>
<circle cx="464.26" cy="93.19" r="1.75" fill="#fff" stroke="#000" stroke-width="0.9"/>
<circle cx="466.35" cy="94.46" r="1.75" fill="#fff" stroke="#000" stroke-width="0.9"/>
<circle cx="464.00" cy="96.13" r="1.75" fill="#fff" stroke="#000" stroke-width="0.9"/>
<circle cx="462.54" cy="98.39" r="1.75" fill="#fff" stroke="#000" stroke-width="0.9"/>
<circle cx="464.78" cy="99.18" r="1.75" fill="#fff" stroke="#000" stroke-width="0.9"/>
<circle cx="461.39" cy="100.90" r="1.75" fill="#fff" stroke="#000" stroke-width="0.9"/>
<circle cx="464.00" cy="102.46" r="1.75" fill="#fff" stroke="#000" stroke-width="0.9"/>
<circle cx="462.37" cy="104.53" r="1.75" fill="#fff" stroke="#000" stroke-width="0.9"/>
<circle cx="464.45" cy="105.81" r="1.75" fill="#fff" stroke="#000" stroke-width="0.9"/>
<circle cx="463.00" cy="108.07" r="1.75" fill="#fff" stroke="#000" stroke-width="0.9"/>
<circle cx="464.00" cy="111.35" r="1.75" fill="#fff" stroke="#000" stroke-width="0.9"/>
<circle cx="464.00" cy="124.70" r="1.75" fill="#fff" stroke="#000" stroke-width="0.9"/>
<circle cx="476.50" cy="91.25" r="1.75" fill="#3a5fae" stroke="#000" stroke-width="0.9"/>
<circle cx="476.50" cy="94.64" r="1.75" fill="#3a5fae" stroke="#000" stroke-width="0.9"/>
<circle cx="474.91" cy="96.75" r="1.75" fill="#3a5fae" stroke="#000" stroke-width="0.9"/>
<circle cx="477.08" cy="97.76" r="1.75" fill="#3a5fae" stroke="#000" stroke-width="0.9"/>
<circle cx="479.04" cy="99.32" r="1.75" fill="#3a5fae" stroke="#000" stroke-width="0.9"/>
<circle cx="476.50" cy="100.97" r="1.75" fill="#3a5fae" stroke="#000" stroke-width="0.9"/>
<circle cx="474.46" cy="102.34" r="1.75" fill="#3a5fae" stroke="#000" stroke-width="0.9"/>
<circle cx="477.38" cy="103.65" r="1.75" fill="#3a5fae" stroke="#000" stroke-width="0.9"/>
<circle cx="479.59" cy="104.51" r="1.75" fill="#3a5fae" stroke="#000" stroke-width="0.9"/>
<circle cx="475.62" cy="105.54" r="1.75" fill="#3a5fae" stroke="#000" stroke-width="0.9"/>
<circle cx="477.55" cy="107.16" r="1.75" fill="#3a5fae" stroke="#000" stroke-width="0.9"/>
<circle cx="475.14" cy="108.38" r="1.75" fill="#3a5fae" stroke="#000" stroke-width="0.9"/>
<circle cx="476.70" cy="110.52" r="1.75" fill="#3a5fae" stroke="#000" stroke-width="0.9"/>
<circle cx="474.60" cy="111.73" r="1.75" fill="#3a5fae" stroke="#000" stroke-width="0.9"/>
<circle cx="476.50" cy="113.94" r="1.75" fill="#3a5fae" stroke="#000" stroke-width="0.9"/>
<circle cx="476.50" cy="117.71" r="1.75" fill="#3a5fae" stroke="#000" stroke-width="0.9"/>
<circle cx="476.50" cy="132.80" r="1.75" fill="#3a5fae" stroke="#000" stroke-width="0.9"/>
<circle cx="474.99" cy="135.00" r="1.75" fill="#3a5fae" stroke="#000" stroke-width="0.9"/>
<circle cx="495.80" cy="72.20" r="1.75" fill="#fff" stroke="#000" stroke-width="0.9"/>
<circle cx="494.39" cy="74.50" r="1.75" fill="#fff" stroke="#000" stroke-width="0.9"/>
<circle cx="496.37" cy="76.00" r="1.75" fill="#fff" stroke="#000" stroke-width="0.9"/>
<circle cx="494.39" cy="77.50" r="1.75" fill="#fff" stroke="#000" stroke-width="0.9"/>
<circle cx="496.07" cy="79.50" r="1.75" fill="#fff" stroke="#000" stroke-width="0.9"/>
<circle cx="494.39" cy="81.50" r="1.75" fill="#fff" stroke="#000" stroke-width="0.9"/>
<circle cx="495.80" cy="84.60" r="1.75" fill="#fff" stroke="#000" stroke-width="0.9"/>
<circle cx="494.27" cy="86.77" r="1.75" fill="#fff" stroke="#000" stroke-width="0.9"/>
<circle cx="496.42" cy="87.87" r="1.75" fill="#fff" stroke="#000" stroke-width="0.9"/>
<circle cx="494.60" cy="89.67" r="1.75" fill="#fff" stroke="#000" stroke-width="0.9"/>
<circle cx="497.89" cy="90.11" r="1.75" fill="#fff" stroke="#000" stroke-width="0.9"/>
<circle cx="492.99" cy="91.76" r="1.75" fill="#fff" stroke="#000" stroke-width="0.9"/>
<circle cx="495.80" cy="93.29" r="1.75" fill="#fff" stroke="#000" stroke-width="0.9"/>
<circle cx="498.11" cy="93.57" r="1.75" fill="#fff" stroke="#000" stroke-width="0.9"/>
<circle cx="494.55" cy="95.73" r="1.75" fill="#fff" stroke="#000" stroke-width="0.9"/>
<circle cx="492.24" cy="95.90" r="1.75" fill="#fff" stroke="#000" stroke-width="0.9"/>
<circle cx="496.26" cy="97.69" r="1.75" fill="#fff" stroke="#000" stroke-width="0.9"/>
<circle cx="494.19" cy="99.01" r="1.75" fill="#fff" stroke="#000" stroke-width="0.9"/>
<circle cx="497.80" cy="99.87" r="1.75" fill="#fff" stroke="#000" stroke-width="0.9"/>
<circle cx="492.12" cy="100.32" r="1.75" fill="#fff" stroke="#000" stroke-width="0.9"/>
<circle cx="499.89" cy="101.12" r="1.75" fill="#fff" stroke="#000" stroke-width="0.9"/>
<circle cx="495.80" cy="102.67" r="1.75" fill="#fff" stroke="#000" stroke-width="0.9"/>
<circle cx="493.84" cy="104.23" r="1.75" fill="#fff" stroke="#000" stroke-width="0.9"/>
<circle cx="497.55" cy="104.58" r="1.75" fill="#fff" stroke="#000" stroke-width="0.9"/>
<circle cx="495.75" cy="106.41" r="1.75" fill="#fff" stroke="#000" stroke-width="0.9"/>
<circle cx="492.57" cy="106.65" r="1.75" fill="#fff" stroke="#000" stroke-width="0.9"/>
<circle cx="497.12" cy="108.76" r="1.75" fill="#fff" stroke="#000" stroke-width="0.9"/>
<circle cx="494.61" cy="108.93" r="1.75" fill="#fff" stroke="#000" stroke-width="0.9"/>
<circle cx="492.69" cy="110.56" r="1.75" fill="#fff" stroke="#000" stroke-width="0.9"/>
<circle cx="495.80" cy="112.63" r="1.75" fill="#fff" stroke="#000" stroke-width="0.9"/>
<circle cx="493.74" cy="113.97" r="1.75" fill="#fff" stroke="#000" stroke-width="0.9"/>
<circle cx="495.80" cy="115.67" r="1.75" fill="#fff" stroke="#000" stroke-width="0.9"/>
<circle cx="493.90" cy="117.33" r="1.75" fill="#fff" stroke="#000" stroke-width="0.9"/>
<circle cx="495.80" cy="119.19" r="1.75" fill="#fff" stroke="#000" stroke-width="0.9"/>
<circle cx="495.80" cy="123.00" r="1.75" fill="#fff" stroke="#000" stroke-width="0.9"/>
<circle cx="495.80" cy="161.50" r="1.75" fill="#fff" stroke="#000" stroke-width="0.9"/>
<circle cx="508.50" cy="75.00" r="1.75" fill="#3a5fae" stroke="#000" stroke-width="0.9"/>
<circle cx="508.50" cy="85.02" r="1.75" fill="#3a5fae" stroke="#000" stroke-width="0.9"/>
<circle cx="506.29" cy="85.89" r="1.75" fill="#3a5fae" stroke="#000" stroke-width="0.9"/>
<circle cx="509.61" cy="87.56" r="1.75" fill="#3a5fae" stroke="#000" stroke-width="0.9"/>
<circle cx="507.42" cy="88.52" r="1.75" fill="#3a5fae" stroke="#000" stroke-width="0.9"/>
<circle cx="510.07" cy="90.40" r="1.75" fill="#3a5fae" stroke="#000" stroke-width="0.9"/>
<circle cx="507.93" cy="91.51" r="1.75" fill="#3a5fae" stroke="#000" stroke-width="0.9"/>
<circle cx="505.66" cy="92.13" r="1.75" fill="#3a5fae" stroke="#000" stroke-width="0.9"/>
<circle cx="511.12" cy="92.99" r="1.75" fill="#3a5fae" stroke="#000" stroke-width="0.9"/>
<circle cx="508.50" cy="95.12" r="1.75" fill="#3a5fae" stroke="#000" stroke-width="0.9"/>
<circle cx="506.28" cy="95.97" r="1.75" fill="#3a5fae" stroke="#000" stroke-width="0.9"/>
<circle cx="510.46" cy="96.67" r="1.75" fill="#3a5fae" stroke="#000" stroke-width="0.9"/>
<circle cx="504.40" cy="97.66" r="1.75" fill="#3a5fae" stroke="#000" stroke-width="0.9"/>
<circle cx="508.50" cy="99.02" r="1.75" fill="#3a5fae" stroke="#000" stroke-width="0.9"/>
<circle cx="506.22" cy="99.53" r="1.75" fill="#3a5fae" stroke="#000" stroke-width="0.9"/>
<circle cx="510.52" cy="100.45" r="1.75" fill="#3a5fae" stroke="#000" stroke-width="0.9"/>
<circle cx="504.42" cy="101.36" r="1.75" fill="#3a5fae" stroke="#000" stroke-width="0.9"/>
<circle cx="508.50" cy="102.26" r="1.75" fill="#3a5fae" stroke="#000" stroke-width="0.9"/>
<circle cx="511.65" cy="102.98" r="1.75" fill="#3a5fae" stroke="#000" stroke-width="0.9"/>
<circle cx="507.30" cy="104.74" r="1.75" fill="#3a5fae" stroke="#000" stroke-width="0.9"/>
<circle cx="509.54" cy="105.50" r="1.75" fill="#3a5fae" stroke="#000" stroke-width="0.9"/>
<circle cx="505.62" cy="106.74" r="1.75" fill="#3a5fae" stroke="#000" stroke-width="0.9"/>
<circle cx="511.41" cy="107.22" r="1.75" fill="#3a5fae" stroke="#000" stroke-width="0.9"/>
<circle cx="508.50" cy="108.70" r="1.75" fill="#3a5fae" stroke="#000" stroke-width="0.9"/>
<circle cx="506.30" cy="109.61" r="1.75" fill="#3a5fae" stroke="#000" stroke-width="0.9"/>
<circle cx="510.08" cy="110.82" r="1.75" fill="#3a5fae" stroke="#000" stroke-width="0.9"/>
<circle cx="508.07" cy="112.28" r="1.75" fill="#3a5fae" stroke="#000" stroke-width="0.9"/>
<circle cx="509.70" cy="114.35" r="1.75" fill="#3a5fae" stroke="#000" stroke-width="0.9"/>
<circle cx="507.52" cy="115.34" r="1.75" fill="#3a5fae" stroke="#000" stroke-width="0.9"/>
<circle cx="510.66" cy="116.99" r="1.75" fill="#3a5fae" stroke="#000" stroke-width="0.9"/>
<circle cx="508.50" cy="119.10" r="1.75" fill="#3a5fae" stroke="#000" stroke-width="0.9"/>
<circle cx="507.47" cy="121.70" r="1.75" fill="#3a5fae" stroke="#000" stroke-width="0.9"/>
<circle cx="508.88" cy="124.00" r="1.75" fill="#3a5fae" stroke="#000" stroke-width="0.9"/>
<circle cx="508.50" cy="130.00" r="1.75" fill="#3a5fae" stroke="#000" stroke-width="0.9"/>
<circle cx="527.50" cy="68.00" r="1.75" fill="#fff" stroke="#000" stroke-width="0.9"/>
<circle cx="527.50" cy="78.65" r="1.75" fill="#fff" stroke="#000" stroke-width="0.9"/>
<circle cx="525.53" cy="80.19" r="1.75" fill="#fff" stroke="#000" stroke-width="0.9"/>
<circle cx="527.50" cy="82.47" r="1.75" fill="#fff" stroke="#000" stroke-width="0.9"/>
<circle cx="525.52" cy="83.97" r="1.75" fill="#fff" stroke="#000" stroke-width="0.9"/>
<circle cx="527.50" cy="85.60" r="1.75" fill="#fff" stroke="#000" stroke-width="0.9"/>
<circle cx="529.64" cy="86.73" r="1.75" fill="#fff" stroke="#000" stroke-width="0.9"/>
<circle cx="526.75" cy="88.35" r="1.75" fill="#fff" stroke="#000" stroke-width="0.9"/>
<circle cx="528.81" cy="89.68" r="1.75" fill="#fff" stroke="#000" stroke-width="0.9"/>
<circle cx="525.05" cy="90.32" r="1.75" fill="#fff" stroke="#000" stroke-width="0.9"/>
<circle cx="527.27" cy="91.84" r="1.75" fill="#fff" stroke="#000" stroke-width="0.9"/>
<circle cx="529.39" cy="93.00" r="1.75" fill="#fff" stroke="#000" stroke-width="0.9"/>
<circle cx="525.61" cy="93.87" r="1.75" fill="#fff" stroke="#000" stroke-width="0.9"/>
<circle cx="527.65" cy="95.25" r="1.75" fill="#fff" stroke="#000" stroke-width="0.9"/>
<circle cx="529.71" cy="96.58" r="1.75" fill="#fff" stroke="#000" stroke-width="0.9"/>
<circle cx="527.48" cy="98.14" r="1.75" fill="#fff" stroke="#000" stroke-width="0.9"/>
<circle cx="525.35" cy="99.30" r="1.75" fill="#fff" stroke="#000" stroke-width="0.9"/>
<circle cx="529.44" cy="99.69" r="1.75" fill="#fff" stroke="#000" stroke-width="0.9"/>
<circle cx="527.50" cy="101.31" r="1.75" fill="#fff" stroke="#000" stroke-width="0.9"/>
<circle cx="524.14" cy="101.78" r="1.75" fill="#fff" stroke="#000" stroke-width="0.9"/>
<circle cx="529.37" cy="103.02" r="1.75" fill="#fff" stroke="#000" stroke-width="0.9"/>
<circle cx="527.50" cy="104.79" r="1.75" fill="#fff" stroke="#000" stroke-width="0.9"/>
<circle cx="525.63" cy="106.51" r="1.75" fill="#fff" stroke="#000" stroke-width="0.9"/>
<circle cx="529.02" cy="106.98" r="1.75" fill="#fff" stroke="#000" stroke-width="0.9"/>
<circle cx="527.44" cy="109.09" r="1.75" fill="#fff" stroke="#000" stroke-width="0.9"/>
<circle cx="529.37" cy="110.69" r="1.75" fill="#fff" stroke="#000" stroke-width="0.9"/>
<circle cx="526.22" cy="111.56" r="1.75" fill="#fff" stroke="#000" stroke-width="0.9"/>
<circle cx="527.80" cy="113.69" r="1.75" fill="#fff" stroke="#000" stroke-width="0.9"/>
<circle cx="526.13" cy="115.71" r="1.75" fill="#fff" stroke="#000" stroke-width="0.9"/>
<circle cx="528.13" cy="117.17" r="1.75" fill="#fff" stroke="#000" stroke-width="0.9"/>
<circle cx="527.36" cy="119.91" r="1.75" fill="#fff" stroke="#000" stroke-width="0.9"/>
<circle cx="527.50" cy="128.00" r="1.75" fill="#fff" stroke="#000" stroke-width="0.9"/>
<circle cx="540.30" cy="72.90" r="1.75" fill="#3a5fae" stroke="#000" stroke-width="0.9"/>
<circle cx="540.30" cy="77.80" r="1.75" fill="#3a5fae" stroke="#000" stroke-width="0.9"/>
<circle cx="540.30" cy="81.53" r="1.75" fill="#3a5fae" stroke="#000" stroke-width="0.9"/>
<circle cx="538.61" cy="83.51" r="1.75" fill="#3a5fae" stroke="#000" stroke-width="0.9"/>
<circle cx="540.30" cy="85.66" r="1.75" fill="#3a5fae" stroke="#000" stroke-width="0.9"/>
<circle cx="538.41" cy="87.34" r="1.75" fill="#3a5fae" stroke="#000" stroke-width="0.9"/>
<circle cx="540.37" cy="88.89" r="1.75" fill="#3a5fae" stroke="#000" stroke-width="0.9"/>
<circle cx="542.57" cy="89.79" r="1.75" fill="#3a5fae" stroke="#000" stroke-width="0.9"/>
<circle cx="538.49" cy="90.59" r="1.75" fill="#3a5fae" stroke="#000" stroke-width="0.9"/>
<circle cx="540.56" cy="91.89" r="1.75" fill="#3a5fae" stroke="#000" stroke-width="0.9"/>
<circle cx="542.70" cy="93.00" r="1.75" fill="#3a5fae" stroke="#000" stroke-width="0.9"/>
<circle cx="539.61" cy="94.53" r="1.75" fill="#3a5fae" stroke="#000" stroke-width="0.9"/>
<circle cx="541.68" cy="95.83" r="1.75" fill="#3a5fae" stroke="#000" stroke-width="0.9"/>
<circle cx="537.62" cy="96.03" r="1.75" fill="#3a5fae" stroke="#000" stroke-width="0.9"/>
<circle cx="539.99" cy="97.81" r="1.75" fill="#3a5fae" stroke="#000" stroke-width="0.9"/>
<circle cx="542.15" cy="98.87" r="1.75" fill="#3a5fae" stroke="#000" stroke-width="0.9"/>
<circle cx="538.06" cy="99.42" r="1.75" fill="#3a5fae" stroke="#000" stroke-width="0.9"/>
<circle cx="544.00" cy="100.62" r="1.75" fill="#3a5fae" stroke="#000" stroke-width="0.9"/>
<circle cx="540.30" cy="101.19" r="1.75" fill="#3a5fae" stroke="#000" stroke-width="0.9"/>
<circle cx="538.40" cy="102.86" r="1.75" fill="#3a5fae" stroke="#000" stroke-width="0.9"/>
<circle cx="542.09" cy="103.03" r="1.75" fill="#3a5fae" stroke="#000" stroke-width="0.9"/>
<circle cx="540.30" cy="105.17" r="1.75" fill="#3a5fae" stroke="#000" stroke-width="0.9"/>
<circle cx="538.07" cy="105.99" r="1.75" fill="#3a5fae" stroke="#000" stroke-width="0.9"/>
<circle cx="542.20" cy="106.83" r="1.75" fill="#3a5fae" stroke="#000" stroke-width="0.9"/>
<circle cx="544.47" cy="107.48" r="1.75" fill="#3a5fae" stroke="#000" stroke-width="0.9"/>
<circle cx="540.30" cy="109.37" r="1.75" fill="#3a5fae" stroke="#000" stroke-width="0.9"/>
<circle cx="538.19" cy="110.59" r="1.75" fill="#3a5fae" stroke="#000" stroke-width="0.9"/>
<circle cx="542.31" cy="110.82" r="1.75" fill="#3a5fae" stroke="#000" stroke-width="0.9"/>
<circle cx="540.30" cy="112.87" r="1.75" fill="#3a5fae" stroke="#000" stroke-width="0.9"/>
<circle cx="538.30" cy="114.34" r="1.75" fill="#3a5fae" stroke="#000" stroke-width="0.9"/>
<circle cx="541.05" cy="115.62" r="1.75" fill="#3a5fae" stroke="#000" stroke-width="0.9"/>
<circle cx="539.18" cy="117.33" r="1.75" fill="#3a5fae" stroke="#000" stroke-width="0.9"/>
<circle cx="540.30" cy="129.30" r="1.75" fill="#3a5fae" stroke="#000" stroke-width="0.9"/>
<circle cx="560.10" cy="103.36" r="1.75" fill="#fff" stroke="#000" stroke-width="0.9"/>
<circle cx="559.23" cy="106.05" r="1.75" fill="#fff" stroke="#000" stroke-width="0.9"/>
<circle cx="561.11" cy="107.75" r="1.75" fill="#fff" stroke="#000" stroke-width="0.9"/>
<circle cx="557.93" cy="108.46" r="1.75" fill="#fff" stroke="#000" stroke-width="0.9"/>
<circle cx="559.93" cy="110.25" r="1.75" fill="#fff" stroke="#000" stroke-width="0.9"/>
<circle cx="562.16" cy="111.02" r="1.75" fill="#fff" stroke="#000" stroke-width="0.9"/>
<circle cx="558.01" cy="111.89" r="1.75" fill="#fff" stroke="#000" stroke-width="0.9"/>
<circle cx="560.10" cy="113.28" r="1.75" fill="#fff" stroke="#000" stroke-width="0.9"/>
<circle cx="562.28" cy="114.29" r="1.75" fill="#fff" stroke="#000" stroke-width="0.9"/>
<circle cx="560.10" cy="116.57" r="1.75" fill="#fff" stroke="#000" stroke-width="0.9"/>
<circle cx="558.15" cy="118.14" r="1.75" fill="#fff" stroke="#000" stroke-width="0.9"/>
<circle cx="561.41" cy="118.96" r="1.75" fill="#fff" stroke="#000" stroke-width="0.9"/>
<circle cx="560.10" cy="122.10" r="1.75" fill="#fff" stroke="#000" stroke-width="0.9"/>
<circle cx="560.10" cy="140.50" r="1.75" fill="#fff" stroke="#000" stroke-width="0.9"/>
<circle cx="572.70" cy="92.40" r="1.75" fill="#3a5fae" stroke="#000" stroke-width="0.9"/>
<circle cx="572.70" cy="101.46" r="1.75" fill="#3a5fae" stroke="#000" stroke-width="0.9"/>
<circle cx="570.83" cy="103.18" r="1.75" fill="#3a5fae" stroke="#000" stroke-width="0.9"/>
<circle cx="572.70" cy="104.90" r="1.75" fill="#3a5fae" stroke="#000" stroke-width="0.9"/>
<circle cx="570.59" cy="106.09" r="1.75" fill="#3a5fae" stroke="#000" stroke-width="0.9"/>
<circle cx="572.63" cy="107.80" r="1.75" fill="#3a5fae" stroke="#000" stroke-width="0.9"/>
<circle cx="574.95" cy="107.93" r="1.75" fill="#3a5fae" stroke="#000" stroke-width="0.9"/>
<circle cx="570.58" cy="109.14" r="1.75" fill="#3a5fae" stroke="#000" stroke-width="0.9"/>
<circle cx="573.64" cy="110.41" r="1.75" fill="#3a5fae" stroke="#000" stroke-width="0.9"/>
<circle cx="575.93" cy="110.90" r="1.75" fill="#3a5fae" stroke="#000" stroke-width="0.9"/>
<circle cx="572.17" cy="112.65" r="1.75" fill="#3a5fae" stroke="#000" stroke-width="0.9"/>
<circle cx="574.32" cy="113.73" r="1.75" fill="#3a5fae" stroke="#000" stroke-width="0.9"/>
<circle cx="571.15" cy="115.26" r="1.75" fill="#3a5fae" stroke="#000" stroke-width="0.9"/>
<circle cx="575.76" cy="116.00" r="1.75" fill="#3a5fae" stroke="#000" stroke-width="0.9"/>
<circle cx="572.70" cy="118.17" r="1.75" fill="#3a5fae" stroke="#000" stroke-width="0.9"/>
<circle cx="592.00" cy="69.70" r="1.75" fill="#fff" stroke="#000" stroke-width="0.9"/>
<circle cx="592.00" cy="79.00" r="1.75" fill="#fff" stroke="#000" stroke-width="0.9"/>
<circle cx="590.01" cy="80.50" r="1.75" fill="#fff" stroke="#000" stroke-width="0.9"/>
<circle cx="592.00" cy="82.00" r="1.75" fill="#fff" stroke="#000" stroke-width="0.9"/>
<circle cx="590.01" cy="83.50" r="1.75" fill="#fff" stroke="#000" stroke-width="0.9"/>
<circle cx="592.00" cy="85.00" r="1.75" fill="#fff" stroke="#000" stroke-width="0.9"/>
<circle cx="590.82" cy="87.50" r="1.75" fill="#fff" stroke="#000" stroke-width="0.9"/>
<circle cx="592.93" cy="88.72" r="1.75" fill="#fff" stroke="#000" stroke-width="0.9"/>
<circle cx="589.26" cy="89.64" r="1.75" fill="#fff" stroke="#000" stroke-width="0.9"/>
<circle cx="591.70" cy="91.18" r="1.75" fill="#fff" stroke="#000" stroke-width="0.9"/>
<circle cx="593.96" cy="91.86" r="1.75" fill="#fff" stroke="#000" stroke-width="0.9"/>
<circle cx="590.23" cy="93.41" r="1.75" fill="#fff" stroke="#000" stroke-width="0.9"/>
<circle cx="592.37" cy="94.53" r="1.75" fill="#fff" stroke="#000" stroke-width="0.9"/>
<circle cx="594.55" cy="95.50" r="1.75" fill="#fff" stroke="#000" stroke-width="0.9"/>
<circle cx="590.76" cy="96.62" r="1.75" fill="#fff" stroke="#000" stroke-width="0.9"/>
<circle cx="588.46" cy="97.00" r="1.75" fill="#fff" stroke="#000" stroke-width="0.9"/>
<circle cx="592.87" cy="97.80" r="1.75" fill="#fff" stroke="#000" stroke-width="0.9"/>
<circle cx="594.95" cy="99.10" r="1.75" fill="#fff" stroke="#000" stroke-width="0.9"/>
<circle cx="591.22" cy="99.84" r="1.75" fill="#fff" stroke="#000" stroke-width="0.9"/>
<circle cx="588.95" cy="100.44" r="1.75" fill="#fff" stroke="#000" stroke-width="0.9"/>
<circle cx="596.67" cy="101.04" r="1.75" fill="#fff" stroke="#000" stroke-width="0.9"/>
<circle cx="592.97" cy="101.75" r="1.75" fill="#fff" stroke="#000" stroke-width="0.9"/>
<circle cx="587.22" cy="102.37" r="1.75" fill="#fff" stroke="#000" stroke-width="0.9"/>
<circle cx="591.54" cy="104.04" r="1.75" fill="#fff" stroke="#000" stroke-width="0.9"/>
<circle cx="594.38" cy="104.05" r="1.75" fill="#fff" stroke="#000" stroke-width="0.9"/>
<circle cx="589.61" cy="105.65" r="1.75" fill="#fff" stroke="#000" stroke-width="0.9"/>
<circle cx="595.88" cy="106.26" r="1.75" fill="#fff" stroke="#000" stroke-width="0.9"/>
<circle cx="592.00" cy="107.64" r="1.75" fill="#fff" stroke="#000" stroke-width="0.9"/>
<circle cx="588.65" cy="108.29" r="1.75" fill="#fff" stroke="#000" stroke-width="0.9"/>
<circle cx="593.84" cy="109.41" r="1.75" fill="#fff" stroke="#000" stroke-width="0.9"/>
<circle cx="596.16" cy="109.46" r="1.75" fill="#fff" stroke="#000" stroke-width="0.9"/>
<circle cx="591.82" cy="110.83" r="1.75" fill="#fff" stroke="#000" stroke-width="0.9"/>
<circle cx="589.68" cy="111.95" r="1.75" fill="#fff" stroke="#000" stroke-width="0.9"/>
<circle cx="593.57" cy="112.73" r="1.75" fill="#fff" stroke="#000" stroke-width="0.9"/>
<circle cx="591.54" cy="114.12" r="1.75" fill="#fff" stroke="#000" stroke-width="0.9"/>
<circle cx="589.38" cy="115.20" r="1.75" fill="#fff" stroke="#000" stroke-width="0.9"/>
<circle cx="592.48" cy="116.77" r="1.75" fill="#fff" stroke="#000" stroke-width="0.9"/>
<circle cx="594.69" cy="117.66" r="1.75" fill="#fff" stroke="#000" stroke-width="0.9"/>
<circle cx="592.00" cy="119.94" r="1.75" fill="#fff" stroke="#000" stroke-width="0.9"/>
<circle cx="591.07" cy="122.60" r="1.75" fill="#fff" stroke="#000" stroke-width="0.9"/>
<circle cx="592.00" cy="125.80" r="1.75" fill="#fff" stroke="#000" stroke-width="0.9"/>
<circle cx="605.00" cy="55.30" r="1.75" fill="#3a5fae" stroke="#000" stroke-width="0.9"/>
<circle cx="605.00" cy="68.30" r="1.75" fill="#3a5fae" stroke="#000" stroke-width="0.9"/>
<circle cx="604.39" cy="71.10" r="1.75" fill="#3a5fae" stroke="#000" stroke-width="0.9"/>
<circle cx="606.17" cy="72.96" r="1.75" fill="#3a5fae" stroke="#000" stroke-width="0.9"/>
<circle cx="604.40" cy="74.84" r="1.75" fill="#3a5fae" stroke="#000" stroke-width="0.9"/>
<circle cx="606.05" cy="76.89" r="1.75" fill="#3a5fae" stroke="#000" stroke-width="0.9"/>
<circle cx="603.99" cy="78.21" r="1.75" fill="#3a5fae" stroke="#000" stroke-width="0.9"/>
<circle cx="607.31" cy="79.32" r="1.75" fill="#3a5fae" stroke="#000" stroke-width="0.9"/>
<circle cx="605.09" cy="80.76" r="1.75" fill="#3a5fae" stroke="#000" stroke-width="0.9"/>
<circle cx="602.88" cy="81.63" r="1.75" fill="#3a5fae" stroke="#000" stroke-width="0.9"/>
<circle cx="606.91" cy="82.55" r="1.75" fill="#3a5fae" stroke="#000" stroke-width="0.9"/>
<circle cx="601.04" cy="83.40" r="1.75" fill="#3a5fae" stroke="#000" stroke-width="0.9"/>
<circle cx="605.00" cy="84.79" r="1.75" fill="#3a5fae" stroke="#000" stroke-width="0.9"/>
<circle cx="602.97" cy="86.20" r="1.75" fill="#3a5fae" stroke="#000" stroke-width="0.9"/>
<circle cx="605.73" cy="87.54" r="1.75" fill="#3a5fae" stroke="#000" stroke-width="0.9"/>
<circle cx="607.93" cy="88.46" r="1.75" fill="#3a5fae" stroke="#000" stroke-width="0.9"/>
<circle cx="603.75" cy="89.04" r="1.75" fill="#3a5fae" stroke="#000" stroke-width="0.9"/>
<circle cx="605.72" cy="90.57" r="1.75" fill="#3a5fae" stroke="#000" stroke-width="0.9"/>
<circle cx="601.96" cy="90.89" r="1.75" fill="#3a5fae" stroke="#000" stroke-width="0.9"/>
<circle cx="607.59" cy="92.28" r="1.75" fill="#3a5fae" stroke="#000" stroke-width="0.9"/>
<circle cx="604.16" cy="92.72" r="1.75" fill="#3a5fae" stroke="#000" stroke-width="0.9"/>
<circle cx="602.11" cy="94.07" r="1.75" fill="#3a5fae" stroke="#000" stroke-width="0.9"/>
<circle cx="605.19" cy="95.32" r="1.75" fill="#3a5fae" stroke="#000" stroke-width="0.9"/>
<circle cx="607.51" cy="95.46" r="1.75" fill="#3a5fae" stroke="#000" stroke-width="0.9"/>
<circle cx="600.61" cy="96.28" r="1.75" fill="#3a5fae" stroke="#000" stroke-width="0.9"/>
<circle cx="604.02" cy="97.82" r="1.75" fill="#3a5fae" stroke="#000" stroke-width="0.9"/>
<circle cx="606.22" cy="98.73" r="1.75" fill="#3a5fae" stroke="#000" stroke-width="0.9"/>
<circle cx="602.17" cy="99.57" r="1.75" fill="#3a5fae" stroke="#000" stroke-width="0.9"/>
<circle cx="608.21" cy="100.22" r="1.75" fill="#3a5fae" stroke="#000" stroke-width="0.9"/>
<circle cx="605.00" cy="101.81" r="1.75" fill="#3a5fae" stroke="#000" stroke-width="0.9"/>
<circle cx="602.89" cy="103.03" r="1.75" fill="#3a5fae" stroke="#000" stroke-width="0.9"/>
<circle cx="606.27" cy="104.24" r="1.75" fill="#3a5fae" stroke="#000" stroke-width="0.9"/>
<circle cx="604.49" cy="106.10" r="1.75" fill="#3a5fae" stroke="#000" stroke-width="0.9"/>
<circle cx="606.64" cy="107.19" r="1.75" fill="#3a5fae" stroke="#000" stroke-width="0.9"/>
<circle cx="603.91" cy="108.91" r="1.75" fill="#3a5fae" stroke="#000" stroke-width="0.9"/>
<circle cx="605.65" cy="110.83" r="1.75" fill="#3a5fae" stroke="#000" stroke-width="0.9"/>
<circle cx="603.82" cy="112.61" r="1.75" fill="#3a5fae" stroke="#000" stroke-width="0.9"/>
<circle cx="605.49" cy="114.62" r="1.75" fill="#3a5fae" stroke="#000" stroke-width="0.9"/>
<circle cx="624.00" cy="43.70" r="1.75" fill="#fff" stroke="#000" stroke-width="0.9"/>
<circle cx="624.00" cy="61.36" r="1.75" fill="#fff" stroke="#000" stroke-width="0.9"/>
<circle cx="623.58" cy="64.22" r="1.75" fill="#fff" stroke="#000" stroke-width="0.9"/>
<circle cx="624.12" cy="67.04" r="1.75" fill="#fff" stroke="#000" stroke-width="0.9"/>
<circle cx="623.20" cy="69.70" r="1.75" fill="#fff" stroke="#000" stroke-width="0.9"/>
<circle cx="624.59" cy="72.02" r="1.75" fill="#fff" stroke="#000" stroke-width="0.9"/>
<circle cx="623.93" cy="74.80" r="1.75" fill="#fff" stroke="#000" stroke-width="0.9"/>
<circle cx="625.15" cy="77.27" r="1.75" fill="#fff" stroke="#000" stroke-width="0.9"/>
<circle cx="624.00" cy="80.07" r="1.75" fill="#fff" stroke="#000" stroke-width="0.9"/>
<circle cx="622.52" cy="82.30" r="1.75" fill="#fff" stroke="#000" stroke-width="0.9"/>
<circle cx="624.00" cy="84.79" r="1.75" fill="#fff" stroke="#000" stroke-width="0.9"/>
<circle cx="622.63" cy="87.13" r="1.75" fill="#fff" stroke="#000" stroke-width="0.9"/>
<circle cx="624.00" cy="89.65" r="1.75" fill="#fff" stroke="#000" stroke-width="0.9"/>
<circle cx="622.55" cy="91.92" r="1.75" fill="#fff" stroke="#000" stroke-width="0.9"/>
<circle cx="624.00" cy="94.19" r="1.75" fill="#fff" stroke="#000" stroke-width="0.9"/>
<circle cx="622.94" cy="96.77" r="1.75" fill="#fff" stroke="#000" stroke-width="0.9"/>
<circle cx="624.00" cy="100.11" r="1.75" fill="#fff" stroke="#000" stroke-width="0.9"/>
<circle cx="624.00" cy="103.28" r="1.75" fill="#fff" stroke="#000" stroke-width="0.9"/>
<circle cx="636.90" cy="49.00" r="1.75" fill="#3a5fae" stroke="#000" stroke-width="0.9"/>
<circle cx="636.90" cy="58.00" r="1.75" fill="#3a5fae" stroke="#000" stroke-width="0.9"/>
<circle cx="634.72" cy="59.00" r="1.75" fill="#3a5fae" stroke="#000" stroke-width="0.9"/>
<circle cx="638.08" cy="60.50" r="1.75" fill="#3a5fae" stroke="#000" stroke-width="0.9"/>
<circle cx="635.90" cy="61.50" r="1.75" fill="#3a5fae" stroke="#000" stroke-width="0.9"/>
<circle cx="639.25" cy="63.00" r="1.75" fill="#3a5fae" stroke="#000" stroke-width="0.9"/>
<circle cx="636.90" cy="64.50" r="1.75" fill="#3a5fae" stroke="#000" stroke-width="0.9"/>
<circle cx="636.90" cy="67.78" r="1.75" fill="#3a5fae" stroke="#000" stroke-width="0.9"/>
<circle cx="635.84" cy="70.37" r="1.75" fill="#3a5fae" stroke="#000" stroke-width="0.9"/>
<circle cx="636.90" cy="73.89" r="1.75" fill="#3a5fae" stroke="#000" stroke-width="0.9"/>
<circle cx="635.29" cy="75.99" r="1.75" fill="#3a5fae" stroke="#000" stroke-width="0.9"/>
<circle cx="636.90" cy="78.37" r="1.75" fill="#3a5fae" stroke="#000" stroke-width="0.9"/>
<circle cx="635.12" cy="80.23" r="1.75" fill="#3a5fae" stroke="#000" stroke-width="0.9"/>
<circle cx="636.90" cy="83.17" r="1.75" fill="#3a5fae" stroke="#000" stroke-width="0.9"/>
<circle cx="636.16" cy="85.92" r="1.75" fill="#3a5fae" stroke="#000" stroke-width="0.9"/>
<circle cx="637.63" cy="88.16" r="1.75" fill="#3a5fae" stroke="#000" stroke-width="0.9"/>
<circle cx="636.90" cy="90.99" r="1.75" fill="#3a5fae" stroke="#000" stroke-width="0.9"/>
<circle cx="636.90" cy="94.76" r="1.75" fill="#3a5fae" stroke="#000" stroke-width="0.9"/>
<circle cx="658.80" cy="98.50" r="1.75" fill="#fff" stroke="#000" stroke-width="0.9"/>
<circle cx="658.80" cy="112.80" r="1.75" fill="#3a5fae" stroke="#000" stroke-width="0.9"/>
<text x="664.60" y="101.20" font-size="7.5" text-anchor="start" fill="#333" font-style="italic" >SDHA</text>
<text x="664.60" y="115.50" font-size="7.5" text-anchor="start" fill="#333" font-style="italic" >SDHB</text>
<text x="24.3" y="251.6" font-size="12.8" font-weight="bold" fill="#000" stroke="#000" stroke-width="0.4">d</text>
<line x1="57.60" y1="249.50" x2="57.60" y2="398.20" stroke="#7a7a7a" stroke-width="0.9" />
<line x1="57.60" y1="398.20" x2="209.60" y2="398.20" stroke="#7a7a7a" stroke-width="0.9" />
<line x1="54.20" y1="285.60" x2="57.60" y2="285.60" stroke="#7a7a7a" stroke-width="0.9" />
<text x="51.10" y="288.41" font-size="7.8" text-anchor="end" fill="#333" >2</text>
<line x1="54.20" y1="333.60" x2="57.60" y2="333.60" stroke="#7a7a7a" stroke-width="0.9" />
<text x="51.10" y="336.41" font-size="7.8" text-anchor="end" fill="#333" >0</text>
<line x1="54.20" y1="381.60" x2="57.60" y2="381.60" stroke="#7a7a7a" stroke-width="0.9" />
<text x="51.10" y="384.41" font-size="7.8" text-anchor="end" fill="#333" >-2</text>
<line x1="81.40" y1="398.20" x2="81.40" y2="401.40" stroke="#7a7a7a" stroke-width="0.9" />
<text x="81.40" y="412.00" font-size="7.8" text-anchor="middle" fill="#333" >-2</text>
<line x1="114.90" y1="398.20" x2="114.90" y2="401.40" stroke="#7a7a7a" stroke-width="0.9" />
<text x="114.90" y="412.00" font-size="7.8" text-anchor="middle" fill="#333" >0</text>
<line x1="148.40" y1="398.20" x2="148.40" y2="401.40" stroke="#7a7a7a" stroke-width="0.9" />
<text x="148.40" y="412.00" font-size="7.8" text-anchor="middle" fill="#333" >2</text>
<line x1="181.90" y1="398.20" x2="181.90" y2="401.40" stroke="#7a7a7a" stroke-width="0.9" />
<text x="181.90" y="412.00" font-size="7.8" text-anchor="middle" fill="#333" >4</text>
<text x="133.40" y="425.10" font-size="8" text-anchor="middle" fill="#333" >UMAP_1</text>
<text transform="translate(35.50,324.00) rotate(-90)" x="0" y="2.88" font-size="8" text-anchor="middle" fill="#333">UMAP_2</text>
<circle cx="93.04" cy="255.78" r="1.7" fill="#e8604a" stroke="#222" stroke-width="0.7"/>
<circle cx="91.76" cy="257.75" r="1.7" fill="#e8604a" stroke="#222" stroke-width="0.7"/>
<circle cx="91.27" cy="259.22" r="1.7" fill="#e8604a" stroke="#222" stroke-width="0.7"/>
<circle cx="91.08" cy="260.20" r="1.7" fill="#e8604a" stroke="#222" stroke-width="0.7"/>
<circle cx="88.82" cy="264.90" r="1.7" fill="#e8604a" stroke="#222" stroke-width="0.7"/>
<circle cx="84.90" cy="264.61" r="1.7" fill="#e8604a" stroke="#222" stroke-width="0.7"/>
<circle cx="82.45" cy="266.76" r="1.7" fill="#e8604a" stroke="#222" stroke-width="0.7"/>
<circle cx="83.92" cy="270.29" r="1.7" fill="#e8604a" stroke="#222" stroke-width="0.7"/>
<circle cx="72.65" cy="266.76" r="1.7" fill="#e8604a" stroke="#222" stroke-width="0.7"/>
<circle cx="74.12" cy="267.55" r="1.7" fill="#e8604a" stroke="#222" stroke-width="0.7"/>
<circle cx="70.69" cy="269.51" r="1.7" fill="#e8604a" stroke="#222" stroke-width="0.7"/>
<circle cx="72.84" cy="274.61" r="1.7" fill="#e8604a" stroke="#222" stroke-width="0.7"/>
<circle cx="67.25" cy="278.82" r="1.7" fill="#e8604a" stroke="#222" stroke-width="0.7"/>
<circle cx="67.75" cy="282.25" r="1.7" fill="#e8604a" stroke="#222" stroke-width="0.7"/>
<circle cx="66.76" cy="281.76" r="1.7" fill="#e8604a" stroke="#222" stroke-width="0.7"/>
<circle cx="70.69" cy="280.78" r="1.7" fill="#e8604a" stroke="#222" stroke-width="0.7"/>
<circle cx="67.55" cy="283.24" r="1.7" fill="#e8604a" stroke="#222" stroke-width="0.7"/>
<circle cx="80.98" cy="277.55" r="1.7" fill="#e8604a" stroke="#222" stroke-width="0.7"/>
<circle cx="78.04" cy="282.06" r="1.7" fill="#e8604a" stroke="#222" stroke-width="0.7"/>
<circle cx="80.98" cy="281.47" r="1.7" fill="#e8604a" stroke="#222" stroke-width="0.7"/>
<circle cx="81.27" cy="282.25" r="1.7" fill="#e8604a" stroke="#222" stroke-width="0.7"/>
<circle cx="85.20" cy="276.18" r="1.7" fill="#e8604a" stroke="#222" stroke-width="0.7"/>
<circle cx="87.35" cy="277.84" r="1.7" fill="#e8604a" stroke="#222" stroke-width="0.7"/>
<circle cx="87.84" cy="279.31" r="1.7" fill="#e8604a" stroke="#222" stroke-width="0.7"/>
<circle cx="91.08" cy="281.47" r="1.7" fill="#e8604a" stroke="#222" stroke-width="0.7"/>
<circle cx="84.90" cy="285.00" r="1.7" fill="#e8604a" stroke="#222" stroke-width="0.7"/>
<circle cx="84.90" cy="287.16" r="1.7" fill="#e8604a" stroke="#222" stroke-width="0.7"/>
<circle cx="89.51" cy="285.69" r="1.7" fill="#e8604a" stroke="#222" stroke-width="0.7"/>
<circle cx="80.49" cy="289.31" r="1.7" fill="#e8604a" stroke="#222" stroke-width="0.7"/>
<circle cx="68.43" cy="288.63" r="1.7" fill="#e8604a" stroke="#222" stroke-width="0.7"/>
<circle cx="67.25" cy="292.55" r="1.7" fill="#e8604a" stroke="#222" stroke-width="0.7"/>
<circle cx="66.76" cy="293.24" r="1.7" fill="#e8604a" stroke="#222" stroke-width="0.7"/>
<circle cx="64.61" cy="296.67" r="1.7" fill="#e8604a" stroke="#222" stroke-width="0.7"/>
<circle cx="95.20" cy="288.63" r="1.7" fill="#e8604a" stroke="#222" stroke-width="0.7"/>
<circle cx="92.25" cy="290.88" r="1.7" fill="#e8604a" stroke="#222" stroke-width="0.7"/>
<circle cx="83.92" cy="295.78" r="1.7" fill="#e8604a" stroke="#222" stroke-width="0.7"/>
<circle cx="78.53" cy="298.24" r="1.7" fill="#e8604a" stroke="#222" stroke-width="0.7"/>
<circle cx="78.53" cy="308.73" r="1.7" fill="#e8604a" stroke="#222" stroke-width="0.7"/>
<circle cx="78.82" cy="309.71" r="1.7" fill="#e8604a" stroke="#222" stroke-width="0.7"/>
<circle cx="111.02" cy="304.11" r="1.7" fill="#26a88c" stroke="#222" stroke-width="0.7"/>
<circle cx="122.12" cy="305.51" r="1.7" fill="#26a88c" stroke="#222" stroke-width="0.7"/>
<circle cx="123.05" cy="307.26" r="1.7" fill="#26a88c" stroke="#222" stroke-width="0.7"/>
<circle cx="124.45" cy="309.95" r="1.7" fill="#26a88c" stroke="#222" stroke-width="0.7"/>
<circle cx="127.37" cy="311.93" r="1.7" fill="#26a88c" stroke="#222" stroke-width="0.7"/>
<circle cx="114.76" cy="311.12" r="1.7" fill="#26a88c" stroke="#222" stroke-width="0.7"/>
<circle cx="117.80" cy="309.83" r="1.7" fill="#26a88c" stroke="#222" stroke-width="0.7"/>
<circle cx="115.93" cy="313.92" r="1.7" fill="#26a88c" stroke="#222" stroke-width="0.7"/>
<circle cx="134.96" cy="316.02" r="1.7" fill="#26a88c" stroke="#222" stroke-width="0.7"/>
<circle cx="136.72" cy="315.79" r="1.7" fill="#26a88c" stroke="#222" stroke-width="0.7"/>
<circle cx="136.13" cy="319.29" r="1.7" fill="#26a88c" stroke="#222" stroke-width="0.7"/>
<circle cx="139.05" cy="319.53" r="1.7" fill="#26a88c" stroke="#222" stroke-width="0.7"/>
<circle cx="138.82" cy="320.93" r="1.7" fill="#26a88c" stroke="#222" stroke-width="0.7"/>
<circle cx="143.49" cy="318.94" r="1.7" fill="#26a88c" stroke="#222" stroke-width="0.7"/>
<circle cx="133.45" cy="323.38" r="1.7" fill="#26a88c" stroke="#222" stroke-width="0.7"/>
<circle cx="148.39" cy="322.09" r="1.7" fill="#26a88c" stroke="#222" stroke-width="0.7"/>
<circle cx="152.48" cy="322.09" r="1.7" fill="#26a88c" stroke="#222" stroke-width="0.7"/>
<circle cx="153.07" cy="323.61" r="1.7" fill="#26a88c" stroke="#222" stroke-width="0.7"/>
<circle cx="152.48" cy="325.60" r="1.7" fill="#26a88c" stroke="#222" stroke-width="0.7"/>
<circle cx="146.06" cy="324.55" r="1.7" fill="#26a88c" stroke="#222" stroke-width="0.7"/>
<circle cx="115.46" cy="320.46" r="1.7" fill="#26a88c" stroke="#222" stroke-width="0.7"/>
<circle cx="119.55" cy="319.53" r="1.7" fill="#26a88c" stroke="#222" stroke-width="0.7"/>
<circle cx="123.28" cy="323.03" r="1.7" fill="#26a88c" stroke="#222" stroke-width="0.7"/>
<circle cx="123.52" cy="324.20" r="1.7" fill="#26a88c" stroke="#222" stroke-width="0.7"/>
<circle cx="110.79" cy="324.20" r="1.7" fill="#26a88c" stroke="#222" stroke-width="0.7"/>
<circle cx="112.77" cy="323.96" r="1.7" fill="#26a88c" stroke="#222" stroke-width="0.7"/>
<circle cx="118.03" cy="325.95" r="1.7" fill="#26a88c" stroke="#222" stroke-width="0.7"/>
<circle cx="121.53" cy="327.93" r="1.7" fill="#26a88c" stroke="#222" stroke-width="0.7"/>
<circle cx="112.19" cy="328.87" r="1.7" fill="#26a88c" stroke="#222" stroke-width="0.7"/>
<circle cx="110.44" cy="330.62" r="1.7" fill="#26a88c" stroke="#222" stroke-width="0.7"/>
<circle cx="111.96" cy="333.54" r="1.7" fill="#26a88c" stroke="#222" stroke-width="0.7"/>
<circle cx="100.88" cy="339.67" r="1.7" fill="#26a88c" stroke="#222" stroke-width="0.7"/>
<circle cx="102.63" cy="337.92" r="1.7" fill="#26a88c" stroke="#222" stroke-width="0.7"/>
<circle cx="119.80" cy="338.74" r="1.7" fill="#26a88c" stroke="#222" stroke-width="0.7"/>
<circle cx="138.83" cy="339.44" r="1.7" fill="#26a88c" stroke="#222" stroke-width="0.7"/>
<circle cx="82.77" cy="347.61" r="1.7" fill="#26a88c" stroke="#222" stroke-width="0.7"/>
<circle cx="86.28" cy="345.28" r="1.7" fill="#26a88c" stroke="#222" stroke-width="0.7"/>
<circle cx="88.03" cy="343.76" r="1.7" fill="#26a88c" stroke="#222" stroke-width="0.7"/>
<circle cx="89.78" cy="342.59" r="1.7" fill="#26a88c" stroke="#222" stroke-width="0.7"/>
<circle cx="92.12" cy="348.78" r="1.7" fill="#26a88c" stroke="#222" stroke-width="0.7"/>
<circle cx="92.93" cy="346.45" r="1.7" fill="#26a88c" stroke="#222" stroke-width="0.7"/>
<circle cx="85.46" cy="352.75" r="1.7" fill="#26a88c" stroke="#222" stroke-width="0.7"/>
<circle cx="93.05" cy="353.10" r="1.7" fill="#26a88c" stroke="#222" stroke-width="0.7"/>
<circle cx="82.77" cy="356.61" r="1.7" fill="#26a88c" stroke="#222" stroke-width="0.7"/>
<circle cx="85.11" cy="358.59" r="1.7" fill="#26a88c" stroke="#222" stroke-width="0.7"/>
<circle cx="88.61" cy="359.29" r="1.7" fill="#26a88c" stroke="#222" stroke-width="0.7"/>
<circle cx="93.28" cy="356.96" r="1.7" fill="#26a88c" stroke="#222" stroke-width="0.7"/>
<circle cx="90.95" cy="361.86" r="1.7" fill="#26a88c" stroke="#222" stroke-width="0.7"/>
<circle cx="95.04" cy="361.28" r="1.7" fill="#26a88c" stroke="#222" stroke-width="0.7"/>
<circle cx="100.88" cy="359.88" r="1.7" fill="#26a88c" stroke="#222" stroke-width="0.7"/>
<circle cx="108.12" cy="349.01" r="1.7" fill="#26a88c" stroke="#222" stroke-width="0.7"/>
<circle cx="116.99" cy="349.60" r="1.7" fill="#26a88c" stroke="#222" stroke-width="0.7"/>
<circle cx="118.98" cy="347.26" r="1.7" fill="#26a88c" stroke="#222" stroke-width="0.7"/>
<circle cx="118.16" cy="354.27" r="1.7" fill="#26a88c" stroke="#222" stroke-width="0.7"/>
<circle cx="112.55" cy="356.96" r="1.7" fill="#26a88c" stroke="#222" stroke-width="0.7"/>
<circle cx="118.63" cy="357.77" r="1.7" fill="#26a88c" stroke="#222" stroke-width="0.7"/>
<circle cx="119.56" cy="363.26" r="1.7" fill="#26a88c" stroke="#222" stroke-width="0.7"/>
<circle cx="127.74" cy="358.94" r="1.7" fill="#26a88c" stroke="#222" stroke-width="0.7"/>
<circle cx="129.49" cy="355.79" r="1.7" fill="#26a88c" stroke="#222" stroke-width="0.7"/>
<circle cx="131.47" cy="353.10" r="1.7" fill="#26a88c" stroke="#222" stroke-width="0.7"/>
<circle cx="128.67" cy="363.96" r="1.7" fill="#26a88c" stroke="#222" stroke-width="0.7"/>
<circle cx="80.44" cy="375.64" r="1.7" fill="#26a88c" stroke="#222" stroke-width="0.7"/>
<circle cx="82.77" cy="374.12" r="1.7" fill="#26a88c" stroke="#222" stroke-width="0.7"/>
<circle cx="85.11" cy="374.94" r="1.7" fill="#26a88c" stroke="#222" stroke-width="0.7"/>
<circle cx="86.63" cy="378.80" r="1.7" fill="#26a88c" stroke="#222" stroke-width="0.7"/>
<circle cx="83.94" cy="381.13" r="1.7" fill="#26a88c" stroke="#222" stroke-width="0.7"/>
<circle cx="86.86" cy="382.88" r="1.7" fill="#26a88c" stroke="#222" stroke-width="0.7"/>
<circle cx="83.36" cy="382.30" r="1.7" fill="#26a88c" stroke="#222" stroke-width="0.7"/>
<circle cx="95.04" cy="372.61" r="1.7" fill="#26a88c" stroke="#222" stroke-width="0.7"/>
<circle cx="94.45" cy="375.29" r="1.7" fill="#26a88c" stroke="#222" stroke-width="0.7"/>
<circle cx="102.04" cy="376.46" r="1.7" fill="#26a88c" stroke="#222" stroke-width="0.7"/>
<circle cx="101.81" cy="377.63" r="1.7" fill="#26a88c" stroke="#222" stroke-width="0.7"/>
<circle cx="114.89" cy="373.54" r="1.7" fill="#26a88c" stroke="#222" stroke-width="0.7"/>
<circle cx="120.15" cy="370.04" r="1.7" fill="#26a88c" stroke="#222" stroke-width="0.7"/>
<circle cx="124.00" cy="370.62" r="1.7" fill="#26a88c" stroke="#222" stroke-width="0.7"/>
<circle cx="121.66" cy="372.96" r="1.7" fill="#26a88c" stroke="#222" stroke-width="0.7"/>
<circle cx="111.97" cy="377.98" r="1.7" fill="#26a88c" stroke="#222" stroke-width="0.7"/>
<circle cx="115.12" cy="381.48" r="1.7" fill="#26a88c" stroke="#222" stroke-width="0.7"/>
<circle cx="118.39" cy="381.95" r="1.7" fill="#26a88c" stroke="#222" stroke-width="0.7"/>
<circle cx="121.90" cy="380.78" r="1.7" fill="#26a88c" stroke="#222" stroke-width="0.7"/>
<circle cx="122.48" cy="387.55" r="1.7" fill="#26a88c" stroke="#222" stroke-width="0.7"/>
<circle cx="124.00" cy="389.31" r="1.7" fill="#26a88c" stroke="#222" stroke-width="0.7"/>
<circle cx="126.57" cy="391.29" r="1.7" fill="#26a88c" stroke="#222" stroke-width="0.7"/>
<circle cx="131.47" cy="386.15" r="1.7" fill="#26a88c" stroke="#222" stroke-width="0.7"/>
<circle cx="141.80" cy="339.10" r="1.7" fill="#26a88c" stroke="#222" stroke-width="0.7"/>
<circle cx="148.20" cy="338.70" r="1.7" fill="#26a88c" stroke="#222" stroke-width="0.7"/>
<circle cx="144.60" cy="341.80" r="1.7" fill="#26a88c" stroke="#222" stroke-width="0.7"/>
<circle cx="147.30" cy="342.30" r="1.7" fill="#26a88c" stroke="#222" stroke-width="0.7"/>
<circle cx="144.10" cy="345.00" r="1.7" fill="#26a88c" stroke="#222" stroke-width="0.7"/>
<circle cx="146.40" cy="345.00" r="1.7" fill="#26a88c" stroke="#222" stroke-width="0.7"/>
<circle cx="142.00" cy="352.80" r="1.7" fill="#26a88c" stroke="#222" stroke-width="0.7"/>
<circle cx="141.80" cy="353.70" r="1.7" fill="#26a88c" stroke="#222" stroke-width="0.7"/>
<circle cx="202.40" cy="379.20" r="1.7" fill="#56bfd8" stroke="#222" stroke-width="0.7"/>
<circle cx="197.10" cy="382.00" r="1.7" fill="#56bfd8" stroke="#222" stroke-width="0.7"/>
<circle cx="199.90" cy="382.70" r="1.7" fill="#56bfd8" stroke="#222" stroke-width="0.7"/>
<circle cx="202.90" cy="384.00" r="1.7" fill="#56bfd8" stroke="#222" stroke-width="0.7"/>
<circle cx="197.10" cy="387.10" r="1.7" fill="#56bfd8" stroke="#222" stroke-width="0.7"/>
<circle cx="200.50" cy="386.80" r="1.7" fill="#56bfd8" stroke="#222" stroke-width="0.7"/>
<circle cx="193.30" cy="389.10" r="1.7" fill="#56bfd8" stroke="#222" stroke-width="0.7"/>
<circle cx="197.60" cy="390.10" r="1.7" fill="#56bfd8" stroke="#222" stroke-width="0.7"/>
<circle cx="201.70" cy="387.60" r="1.7" fill="#56bfd8" stroke="#222" stroke-width="0.7"/>
<circle cx="198.60" cy="385.00" r="1.7" fill="#56bfd8" stroke="#222" stroke-width="0.7"/>
<circle cx="156.10" cy="264.00" r="1.5" fill="#E64B35" stroke="#222" stroke-width="0.6"/>
<text x="168.50" y="266.80" font-size="7.5" text-anchor="start" fill="#333" >Cluster 1</text>
<circle cx="156.10" cy="279.05" r="1.5" fill="#1fa58a" stroke="#222" stroke-width="0.6"/>
<text x="168.50" y="281.85" font-size="7.5" text-anchor="start" fill="#333" >Cluster 2</text>
<circle cx="156.10" cy="294.10" r="1.5" fill="#56bfd8" stroke="#222" stroke-width="0.6"/>
<text x="168.50" y="296.90" font-size="7.5" text-anchor="start" fill="#333" >Cluster 3</text>
<text x="247.3" y="251.2" font-size="12.8" font-weight="bold" fill="#000" stroke="#000" stroke-width="0.4">e</text>
<line x1="286.60" y1="250.30" x2="286.60" y2="376.40" stroke="#7a7a7a" stroke-width="0.9" />
<line x1="286.60" y1="376.40" x2="440.70" y2="376.40" stroke="#7a7a7a" stroke-width="0.9" />
<line x1="283.20" y1="255.60" x2="286.60" y2="255.60" stroke="#7a7a7a" stroke-width="0.9" />
<text x="279.30" y="258.37" font-size="7.7" text-anchor="end" fill="#333" >1.00</text>
<line x1="283.20" y1="284.40" x2="286.60" y2="284.40" stroke="#7a7a7a" stroke-width="0.9" />
<text x="279.30" y="287.17" font-size="7.7" text-anchor="end" fill="#333" >0.75</text>
<line x1="283.20" y1="313.20" x2="286.60" y2="313.20" stroke="#7a7a7a" stroke-width="0.9" />
<text x="279.30" y="315.97" font-size="7.7" text-anchor="end" fill="#333" >0.50</text>
<line x1="283.20" y1="342.00" x2="286.60" y2="342.00" stroke="#7a7a7a" stroke-width="0.9" />
<text x="279.30" y="344.77" font-size="7.7" text-anchor="end" fill="#333" >0.25</text>
<line x1="283.20" y1="370.80" x2="286.60" y2="370.80" stroke="#7a7a7a" stroke-width="0.9" />
<text x="279.30" y="373.57" font-size="7.7" text-anchor="end" fill="#333" >0</text>
<line x1="293.80" y1="376.40" x2="293.80" y2="379.60" stroke="#7a7a7a" stroke-width="0.9" />
<text x="293.80" y="389.40" font-size="7.7" text-anchor="middle" fill="#333" >0</text>
<line x1="341.50" y1="376.40" x2="341.50" y2="379.60" stroke="#7a7a7a" stroke-width="0.9" />
<text x="341.50" y="389.40" font-size="7.7" text-anchor="middle" fill="#333" >1,000</text>
<line x1="389.30" y1="376.40" x2="389.30" y2="379.60" stroke="#7a7a7a" stroke-width="0.9" />
<text x="389.30" y="389.40" font-size="7.7" text-anchor="middle" fill="#333" >2,000</text>
<line x1="437.10" y1="376.40" x2="437.10" y2="379.60" stroke="#7a7a7a" stroke-width="0.9" />
<text x="437.10" y="389.40" font-size="7.7" text-anchor="middle" fill="#333" >3,000</text>
<text x="363.60" y="402.90" font-size="9" text-anchor="middle" fill="#333" >Time</text>
<text transform="translate(251.80,313.40) rotate(-90)" x="0" y="3.35" font-size="9.3" text-anchor="middle" fill="#333">Survival probability</text>
<path d="M293.50,255.60 H294.00 V262.50 H295.20 V266.00 H296.90 V269.00 H298.70 V272.40 H300.40 V276.00 H302.20 V278.90 H303.90 V283.00 H305.10 V286.50 H306.30 V290.50 H308.00 V295.20 H309.80 V299.90 H311.50 V303.40 H313.90 V305.70 H316.20 V308.70 H318.50 V312.70 H320.90 V316.20 H323.20 V318.60 H325.50 V320.90 H329.00 V323.20 H331.40 V325.50 H334.20 V329.90 H339.20 V339.10 H360.20 V343.70 H361.50 V345.10 H372.30 V348.20 H373.70 V352.20 H432.00" fill="none" stroke="#4DBBD5" stroke-width="1.4"/>
<path d="M292.80,258.00 H292.80 V266.00 H295.20 V280.60 H300.40 V282.40 H301.00 V285.30 H302.20 V289.40 H302.80 V295.20 H303.90 V298.70 H305.10 V309.80 H306.30 V312.70 H308.00 V315.10 H310.60 V320.00 H311.90 V325.00 H314.40 V331.20 H318.10 V334.90 H321.80 V339.90 H324.30 V343.60 H330.50 V349.30 H395.60" fill="none" stroke="#E64B35" stroke-width="1.4"/>
<path d="M293.20,255.60 H293.20 V264.30 H294.60 V280.40 H331.00 V291.70 H360.70 V302.50 H385.90" fill="none" stroke="#00A087" stroke-width="1.4"/>
<line x1="349.10" y1="336.90" x2="349.10" y2="341.30" stroke="#4DBBD5" stroke-width="0.9" />
<line x1="351.90" y1="336.90" x2="351.90" y2="341.30" stroke="#4DBBD5" stroke-width="0.9" />
<line x1="353.30" y1="336.90" x2="353.30" y2="341.30" stroke="#4DBBD5" stroke-width="0.9" />
<line x1="355.50" y1="336.90" x2="355.50" y2="341.30" stroke="#4DBBD5" stroke-width="0.9" />
<line x1="364.60" y1="342.90" x2="364.60" y2="347.30" stroke="#4DBBD5" stroke-width="0.9" />
<line x1="366.80" y1="342.90" x2="366.80" y2="347.30" stroke="#4DBBD5" stroke-width="0.9" />
<line x1="369.50" y1="342.90" x2="369.50" y2="347.30" stroke="#4DBBD5" stroke-width="0.9" />
<line x1="383.60" y1="350.00" x2="383.60" y2="354.40" stroke="#4DBBD5" stroke-width="0.9" />
<line x1="399.70" y1="350.00" x2="399.70" y2="354.40" stroke="#4DBBD5" stroke-width="0.9" />
<line x1="400.90" y1="350.00" x2="400.90" y2="354.40" stroke="#4DBBD5" stroke-width="0.9" />
<line x1="413.40" y1="350.00" x2="413.40" y2="354.40" stroke="#4DBBD5" stroke-width="0.9" />
<line x1="430.40" y1="350.00" x2="430.40" y2="354.40" stroke="#4DBBD5" stroke-width="0.9" />
<line x1="335.50" y1="347.10" x2="335.50" y2="351.50" stroke="#E64B35" stroke-width="0.9" />
<line x1="342.90" y1="347.10" x2="342.90" y2="351.50" stroke="#E64B35" stroke-width="0.9" />
<line x1="346.60" y1="347.10" x2="346.60" y2="351.50" stroke="#E64B35" stroke-width="0.9" />
<line x1="349.10" y1="347.10" x2="349.10" y2="351.50" stroke="#E64B35" stroke-width="0.9" />
<line x1="393.80" y1="347.10" x2="393.80" y2="351.50" stroke="#E64B35" stroke-width="0.9" />
<line x1="297.50" y1="278.40" x2="297.50" y2="282.80" stroke="#E64B35" stroke-width="0.9" />
<line x1="304.40" y1="278.20" x2="304.40" y2="282.60" stroke="#00A087" stroke-width="0.9" />
<line x1="323.80" y1="278.20" x2="323.80" y2="282.60" stroke="#00A087" stroke-width="0.9" />
<line x1="369.00" y1="300.30" x2="369.00" y2="304.70" stroke="#00A087" stroke-width="0.9" />
<line x1="375.00" y1="300.30" x2="375.00" y2="304.70" stroke="#00A087" stroke-width="0.9" />
<line x1="380.00" y1="300.30" x2="380.00" y2="304.70" stroke="#00A087" stroke-width="0.9" />
<line x1="384.00" y1="300.30" x2="384.00" y2="304.70" stroke="#00A087" stroke-width="0.9" />
<text x="293.30" y="362.90" font-size="7.5" text-anchor="start" fill="#333" >P = 0.012</text>
<line x1="380.00" y1="262.40" x2="390.20" y2="262.40" stroke="#E64B35" stroke-width="1.3" />
<line x1="385.10" y1="260.20" x2="385.10" y2="264.60" stroke="#E64B35" stroke-width="0.9" />
<text x="395.00" y="265.10" font-size="7.3" text-anchor="start" fill="#333" >Cluster 1</text>
<line x1="380.00" y1="275.10" x2="390.20" y2="275.10" stroke="#4DBBD5" stroke-width="1.3" />
<line x1="385.10" y1="272.90" x2="385.10" y2="277.30" stroke="#4DBBD5" stroke-width="0.9" />
<text x="395.00" y="277.80" font-size="7.3" text-anchor="start" fill="#333" >Cluster 2</text>
<line x1="380.00" y1="287.80" x2="390.20" y2="287.80" stroke="#00A087" stroke-width="1.3" />
<line x1="385.10" y1="285.60" x2="385.10" y2="290.00" stroke="#00A087" stroke-width="0.9" />
<text x="395.00" y="290.50" font-size="7.3" text-anchor="start" fill="#333" >Cluster 3</text>
<text x="287.60" y="413.50" font-size="7.5" text-anchor="start" fill="#333" >Number at risk</text>
<text x="280.40" y="424.20" font-size="7.5" text-anchor="end" fill="#E64B35" >Cluster 1</text>
<text x="293.80" y="424.20" font-size="7.5" text-anchor="middle" fill="#333" >42</text>
<text x="341.50" y="424.20" font-size="7.5" text-anchor="middle" fill="#333" >5</text>
<text x="389.30" y="424.20" font-size="7.5" text-anchor="middle" fill="#333" >1</text>
<text x="437.10" y="424.20" font-size="7.5" text-anchor="middle" fill="#333" >0</text>
<text x="280.40" y="433.30" font-size="7.5" text-anchor="end" fill="#4DBBD5" >Cluster 2</text>
<text x="293.80" y="433.30" font-size="7.5" text-anchor="middle" fill="#333" >103</text>
<text x="341.50" y="433.30" font-size="7.5" text-anchor="middle" fill="#333" >17</text>
<text x="389.30" y="433.30" font-size="7.5" text-anchor="middle" fill="#333" >4</text>
<text x="437.10" y="433.30" font-size="7.5" text-anchor="middle" fill="#333" >0</text>
<text x="280.40" y="442.40" font-size="7.5" text-anchor="end" fill="#00A087" >Cluster 3</text>
<text x="293.80" y="442.40" font-size="7.5" text-anchor="middle" fill="#333" >14</text>
<text x="341.50" y="442.40" font-size="7.5" text-anchor="middle" fill="#333" >7</text>
<text x="389.30" y="442.40" font-size="7.5" text-anchor="middle" fill="#333" >0</text>
<text x="437.10" y="442.40" font-size="7.5" text-anchor="middle" fill="#333" >0</text>
<text x="465.6" y="251.2" font-size="12.8" font-weight="bold" fill="#000" stroke="#000" stroke-width="0.4">f</text>
<line x1="500.90" y1="255.60" x2="500.90" y2="392.30" stroke="#7a7a7a" stroke-width="0.9" />
<line x1="500.90" y1="392.30" x2="643.40" y2="392.30" stroke="#7a7a7a" stroke-width="0.9" />
<line x1="497.50" y1="284.27" x2="500.90" y2="284.27" stroke="#7a7a7a" stroke-width="0.9" />
<text x="493.60" y="287.05" font-size="7.7" text-anchor="end" fill="#333" >2.5</text>
<line x1="497.50" y1="322.40" x2="500.90" y2="322.40" stroke="#7a7a7a" stroke-width="0.9" />
<text x="493.60" y="325.17" font-size="7.7" text-anchor="end" fill="#333" >0</text>
<line x1="497.50" y1="360.52" x2="500.90" y2="360.52" stroke="#7a7a7a" stroke-width="0.9" />
<text x="493.60" y="363.30" font-size="7.7" text-anchor="end" fill="#333" >-2.5</text>
<line x1="527.40" y1="392.30" x2="527.40" y2="395.50" stroke="#7a7a7a" stroke-width="0.9" />
<line x1="572.10" y1="392.30" x2="572.10" y2="395.50" stroke="#7a7a7a" stroke-width="0.9" />
<line x1="616.60" y1="392.30" x2="616.60" y2="395.50" stroke="#7a7a7a" stroke-width="0.9" />
<text transform="translate(531.6,403.6) rotate(-45)" x="0" y="0" font-size="8.6" text-anchor="end" fill="#333">Cluster 1</text>
<text transform="translate(576.3,403.6) rotate(-45)" x="0" y="0" font-size="8.6" text-anchor="end" fill="#333">Cluster 2</text>
<text transform="translate(620.9,403.6) rotate(-45)" x="0" y="0" font-size="8.6" text-anchor="end" fill="#333">Cluster 3</text>
<text transform="translate(469.30,323.80) rotate(-90)" x="0" y="3.26" font-size="9.05" text-anchor="middle" fill="#333">Normalized gene expression</text>
<path d="M527.40,266.50 V259.30 H571.80 V287.60" fill="none" stroke="#666" stroke-width="0.9"/>
<line x1="520.80" y1="266.50" x2="534.00" y2="266.50" stroke="#666" stroke-width="0.9" />
<line x1="565.20" y1="287.60" x2="578.40" y2="287.60" stroke="#666" stroke-width="0.9" />
<text x="549.80" y="256.20" font-size="7.5" text-anchor="middle" fill="#333" ><tspan font-style="italic">P</tspan> &lt; 0.0001</text>
<path d="M571.80,243.90 V240.60 H616.20 V313.00" fill="none" stroke="#666" stroke-width="0.9"/>
<line x1="609.30" y1="313.00" x2="623.10" y2="313.00" stroke="#666" stroke-width="0.9" />
<text x="594.20" y="238.40" font-size="7.5" text-anchor="middle" fill="#333" ><tspan font-style="italic">P</tspan> = 0.0001</text>
<circle cx="518.50" cy="272.50" r="1.75" fill="#fff" stroke="#000" stroke-width="0.9"/>
<circle cx="518.50" cy="287.27" r="1.75" fill="#fff" stroke="#000" stroke-width="0.9"/>
<circle cx="516.47" cy="289.48" r="1.75" fill="#fff" stroke="#000" stroke-width="0.9"/>
<circle cx="518.63" cy="291.57" r="1.75" fill="#fff" stroke="#000" stroke-width="0.9"/>
<circle cx="515.88" cy="292.76" r="1.75" fill="#fff" stroke="#000" stroke-width="0.9"/>
<circle cx="520.55" cy="293.87" r="1.75" fill="#fff" stroke="#000" stroke-width="0.9"/>
<circle cx="518.12" cy="295.63" r="1.75" fill="#fff" stroke="#000" stroke-width="0.9"/>
<circle cx="520.83" cy="296.90" r="1.75" fill="#fff" stroke="#000" stroke-width="0.9"/>
<circle cx="516.01" cy="297.76" r="1.75" fill="#fff" stroke="#000" stroke-width="0.9"/>
<circle cx="518.71" cy="299.07" r="1.75" fill="#fff" stroke="#000" stroke-width="0.9"/>
<circle cx="516.57" cy="301.17" r="1.75" fill="#fff" stroke="#000" stroke-width="0.9"/>
<circle cx="520.17" cy="301.69" r="1.75" fill="#fff" stroke="#000" stroke-width="0.9"/>
<circle cx="522.99" cy="302.70" r="1.75" fill="#fff" stroke="#000" stroke-width="0.9"/>
<circle cx="518.50" cy="304.84" r="1.75" fill="#fff" stroke="#000" stroke-width="0.9"/>
<circle cx="515.62" cy="305.68" r="1.75" fill="#fff" stroke="#000" stroke-width="0.9"/>
<circle cx="520.85" cy="306.70" r="1.75" fill="#fff" stroke="#000" stroke-width="0.9"/>
<circle cx="518.18" cy="308.06" r="1.75" fill="#fff" stroke="#000" stroke-width="0.9"/>
<circle cx="515.56" cy="309.51" r="1.75" fill="#fff" stroke="#000" stroke-width="0.9"/>
<circle cx="520.46" cy="310.01" r="1.75" fill="#fff" stroke="#000" stroke-width="0.9"/>
<circle cx="518.03" cy="311.77" r="1.75" fill="#fff" stroke="#000" stroke-width="0.9"/>
<circle cx="520.76" cy="313.01" r="1.75" fill="#fff" stroke="#000" stroke-width="0.9"/>
<circle cx="516.43" cy="314.30" r="1.75" fill="#fff" stroke="#000" stroke-width="0.9"/>
<circle cx="523.15" cy="314.82" r="1.75" fill="#fff" stroke="#000" stroke-width="0.9"/>
<circle cx="518.57" cy="316.40" r="1.75" fill="#fff" stroke="#000" stroke-width="0.9"/>
<circle cx="515.43" cy="317.13" r="1.75" fill="#fff" stroke="#000" stroke-width="0.9"/>
<circle cx="520.48" cy="318.71" r="1.75" fill="#fff" stroke="#000" stroke-width="0.9"/>
<circle cx="517.57" cy="319.44" r="1.75" fill="#fff" stroke="#000" stroke-width="0.9"/>
<circle cx="515.29" cy="321.39" r="1.75" fill="#fff" stroke="#000" stroke-width="0.9"/>
<circle cx="518.50" cy="322.71" r="1.75" fill="#fff" stroke="#000" stroke-width="0.9"/>
<circle cx="521.44" cy="323.30" r="1.75" fill="#fff" stroke="#000" stroke-width="0.9"/>
<circle cx="516.04" cy="324.42" r="1.75" fill="#fff" stroke="#000" stroke-width="0.9"/>
<circle cx="518.50" cy="326.59" r="1.75" fill="#fff" stroke="#000" stroke-width="0.9"/>
<circle cx="515.67" cy="327.58" r="1.75" fill="#fff" stroke="#000" stroke-width="0.9"/>
<circle cx="520.18" cy="329.07" r="1.75" fill="#fff" stroke="#000" stroke-width="0.9"/>
<circle cx="523.16" cy="329.45" r="1.75" fill="#fff" stroke="#000" stroke-width="0.9"/>
<circle cx="518.50" cy="331.89" r="1.75" fill="#fff" stroke="#000" stroke-width="0.9"/>
<circle cx="515.71" cy="332.99" r="1.75" fill="#fff" stroke="#000" stroke-width="0.9"/>
<circle cx="520.52" cy="334.11" r="1.75" fill="#fff" stroke="#000" stroke-width="0.9"/>
<circle cx="518.03" cy="335.78" r="1.75" fill="#fff" stroke="#000" stroke-width="0.9"/>
<circle cx="520.27" cy="337.78" r="1.75" fill="#fff" stroke="#000" stroke-width="0.9"/>
<circle cx="517.80" cy="339.48" r="1.75" fill="#fff" stroke="#000" stroke-width="0.9"/>
<circle cx="518.50" cy="345.30" r="1.75" fill="#fff" stroke="#000" stroke-width="0.9"/>
<circle cx="518.50" cy="349.00" r="1.75" fill="#fff" stroke="#000" stroke-width="0.9"/>
<circle cx="535.90" cy="277.40" r="1.75" fill="#3a5fae" stroke="#000" stroke-width="0.9"/>
<circle cx="535.90" cy="283.50" r="1.75" fill="#3a5fae" stroke="#000" stroke-width="0.9"/>
<circle cx="535.90" cy="288.38" r="1.75" fill="#3a5fae" stroke="#000" stroke-width="0.9"/>
<circle cx="535.90" cy="291.83" r="1.75" fill="#3a5fae" stroke="#000" stroke-width="0.9"/>
<circle cx="533.42" cy="293.33" r="1.75" fill="#3a5fae" stroke="#000" stroke-width="0.9"/>
<circle cx="535.90" cy="295.93" r="1.75" fill="#3a5fae" stroke="#000" stroke-width="0.9"/>
<circle cx="533.10" cy="296.66" r="1.75" fill="#3a5fae" stroke="#000" stroke-width="0.9"/>
<circle cx="537.36" cy="298.43" r="1.75" fill="#3a5fae" stroke="#000" stroke-width="0.9"/>
<circle cx="534.59" cy="299.29" r="1.75" fill="#3a5fae" stroke="#000" stroke-width="0.9"/>
<circle cx="539.71" cy="300.14" r="1.75" fill="#3a5fae" stroke="#000" stroke-width="0.9"/>
<circle cx="532.03" cy="300.65" r="1.75" fill="#3a5fae" stroke="#000" stroke-width="0.9"/>
<circle cx="535.97" cy="301.84" r="1.75" fill="#3a5fae" stroke="#000" stroke-width="0.9"/>
<circle cx="541.74" cy="302.21" r="1.75" fill="#3a5fae" stroke="#000" stroke-width="0.9"/>
<circle cx="538.63" cy="303.00" r="1.75" fill="#3a5fae" stroke="#000" stroke-width="0.9"/>
<circle cx="534.72" cy="304.46" r="1.75" fill="#3a5fae" stroke="#000" stroke-width="0.9"/>
<circle cx="531.84" cy="304.78" r="1.75" fill="#3a5fae" stroke="#000" stroke-width="0.9"/>
<circle cx="537.20" cy="305.97" r="1.75" fill="#3a5fae" stroke="#000" stroke-width="0.9"/>
<circle cx="540.10" cy="306.07" r="1.75" fill="#3a5fae" stroke="#000" stroke-width="0.9"/>
<circle cx="534.42" cy="307.34" r="1.75" fill="#3a5fae" stroke="#000" stroke-width="0.9"/>
<circle cx="531.61" cy="308.04" r="1.75" fill="#3a5fae" stroke="#000" stroke-width="0.9"/>
<circle cx="542.03" cy="308.23" r="1.75" fill="#3a5fae" stroke="#000" stroke-width="0.9"/>
<circle cx="538.24" cy="308.68" r="1.75" fill="#3a5fae" stroke="#000" stroke-width="0.9"/>
<circle cx="529.24" cy="309.71" r="1.75" fill="#3a5fae" stroke="#000" stroke-width="0.9"/>
<circle cx="535.90" cy="310.52" r="1.75" fill="#3a5fae" stroke="#000" stroke-width="0.9"/>
<circle cx="533.01" cy="310.74" r="1.75" fill="#3a5fae" stroke="#000" stroke-width="0.9"/>
<circle cx="538.64" cy="311.55" r="1.75" fill="#3a5fae" stroke="#000" stroke-width="0.9"/>
<circle cx="541.48" cy="312.11" r="1.75" fill="#3a5fae" stroke="#000" stroke-width="0.9"/>
<circle cx="535.90" cy="313.49" r="1.75" fill="#3a5fae" stroke="#000" stroke-width="0.9"/>
<circle cx="533.21" cy="314.57" r="1.75" fill="#3a5fae" stroke="#000" stroke-width="0.9"/>
<circle cx="538.58" cy="314.60" r="1.75" fill="#3a5fae" stroke="#000" stroke-width="0.9"/>
<circle cx="541.43" cy="315.16" r="1.75" fill="#3a5fae" stroke="#000" stroke-width="0.9"/>
<circle cx="535.90" cy="316.81" r="1.75" fill="#3a5fae" stroke="#000" stroke-width="0.9"/>
<circle cx="533.19" cy="317.83" r="1.75" fill="#3a5fae" stroke="#000" stroke-width="0.9"/>
<circle cx="537.84" cy="318.97" r="1.75" fill="#3a5fae" stroke="#000" stroke-width="0.9"/>
<circle cx="540.67" cy="319.58" r="1.75" fill="#3a5fae" stroke="#000" stroke-width="0.9"/>
<circle cx="535.30" cy="320.38" r="1.75" fill="#3a5fae" stroke="#000" stroke-width="0.9"/>
<circle cx="537.53" cy="322.24" r="1.75" fill="#3a5fae" stroke="#000" stroke-width="0.9"/>
<circle cx="533.78" cy="322.85" r="1.75" fill="#3a5fae" stroke="#000" stroke-width="0.9"/>
<circle cx="535.90" cy="325.32" r="1.75" fill="#3a5fae" stroke="#000" stroke-width="0.9"/>
<circle cx="533.50" cy="326.94" r="1.75" fill="#3a5fae" stroke="#000" stroke-width="0.9"/>
<circle cx="535.90" cy="332.80" r="1.75" fill="#3a5fae" stroke="#000" stroke-width="0.9"/>
<circle cx="535.90" cy="338.70" r="1.75" fill="#3a5fae" stroke="#000" stroke-width="0.9"/>
<circle cx="563.10" cy="295.60" r="1.75" fill="#fff" stroke="#000" stroke-width="0.9"/>
<circle cx="563.10" cy="298.42" r="1.75" fill="#fff" stroke="#000" stroke-width="0.9"/>
<circle cx="561.29" cy="299.53" r="1.75" fill="#fff" stroke="#000" stroke-width="0.9"/>
<circle cx="564.35" cy="300.32" r="1.75" fill="#fff" stroke="#000" stroke-width="0.9"/>
<circle cx="566.32" cy="300.92" r="1.75" fill="#fff" stroke="#000" stroke-width="0.9"/>
<circle cx="562.74" cy="301.80" r="1.75" fill="#fff" stroke="#000" stroke-width="0.9"/>
<circle cx="564.36" cy="303.25" r="1.75" fill="#fff" stroke="#000" stroke-width="0.9"/>
<circle cx="561.34" cy="303.54" r="1.75" fill="#fff" stroke="#000" stroke-width="0.9"/>
<circle cx="566.17" cy="304.36" r="1.75" fill="#fff" stroke="#000" stroke-width="0.9"/>
<circle cx="559.50" cy="304.56" r="1.75" fill="#fff" stroke="#000" stroke-width="0.9"/>
<circle cx="563.10" cy="305.79" r="1.75" fill="#fff" stroke="#000" stroke-width="0.9"/>
<circle cx="567.72" cy="305.92" r="1.75" fill="#fff" stroke="#000" stroke-width="0.9"/>
<circle cx="561.26" cy="306.82" r="1.75" fill="#fff" stroke="#000" stroke-width="0.9"/>
<circle cx="564.27" cy="307.75" r="1.75" fill="#fff" stroke="#000" stroke-width="0.9"/>
<circle cx="566.31" cy="307.78" r="1.75" fill="#fff" stroke="#000" stroke-width="0.9"/>
<circle cx="559.72" cy="308.39" r="1.75" fill="#fff" stroke="#000" stroke-width="0.9"/>
<circle cx="562.64" cy="309.19" r="1.75" fill="#fff" stroke="#000" stroke-width="0.9"/>
<circle cx="567.65" cy="309.60" r="1.75" fill="#fff" stroke="#000" stroke-width="0.9"/>
<circle cx="558.04" cy="309.76" r="1.75" fill="#fff" stroke="#000" stroke-width="0.9"/>
<circle cx="564.51" cy="310.15" r="1.75" fill="#fff" stroke="#000" stroke-width="0.9"/>
<circle cx="561.16" cy="310.85" r="1.75" fill="#fff" stroke="#000" stroke-width="0.9"/>
<circle cx="566.18" cy="311.53" r="1.75" fill="#fff" stroke="#000" stroke-width="0.9"/>
<circle cx="559.26" cy="311.71" r="1.75" fill="#fff" stroke="#000" stroke-width="0.9"/>
<circle cx="563.10" cy="312.52" r="1.75" fill="#fff" stroke="#000" stroke-width="0.9"/>
<circle cx="568.03" cy="312.54" r="1.75" fill="#fff" stroke="#000" stroke-width="0.9"/>
<circle cx="557.46" cy="312.83" r="1.75" fill="#fff" stroke="#000" stroke-width="0.9"/>
<circle cx="569.99" cy="313.19" r="1.75" fill="#fff" stroke="#000" stroke-width="0.9"/>
<circle cx="561.35" cy="313.75" r="1.75" fill="#fff" stroke="#000" stroke-width="0.9"/>
<circle cx="564.80" cy="313.85" r="1.75" fill="#fff" stroke="#000" stroke-width="0.9"/>
<circle cx="566.78" cy="314.44" r="1.75" fill="#fff" stroke="#000" stroke-width="0.9"/>
<circle cx="559.50" cy="314.77" r="1.75" fill="#fff" stroke="#000" stroke-width="0.9"/>
<circle cx="563.10" cy="315.22" r="1.75" fill="#fff" stroke="#000" stroke-width="0.9"/>
<circle cx="568.68" cy="315.31" r="1.75" fill="#fff" stroke="#000" stroke-width="0.9"/>
<circle cx="557.80" cy="316.09" r="1.75" fill="#fff" stroke="#000" stroke-width="0.9"/>
<circle cx="561.50" cy="316.72" r="1.75" fill="#fff" stroke="#000" stroke-width="0.9"/>
<circle cx="564.53" cy="316.93" r="1.75" fill="#fff" stroke="#000" stroke-width="0.9"/>
<circle cx="566.57" cy="317.12" r="1.75" fill="#fff" stroke="#000" stroke-width="0.9"/>
<circle cx="559.55" cy="317.39" r="1.75" fill="#fff" stroke="#000" stroke-width="0.9"/>
<circle cx="568.51" cy="317.84" r="1.75" fill="#fff" stroke="#000" stroke-width="0.9"/>
<circle cx="562.94" cy="318.43" r="1.75" fill="#fff" stroke="#000" stroke-width="0.9"/>
<circle cx="557.58" cy="318.48" r="1.75" fill="#fff" stroke="#000" stroke-width="0.9"/>
<circle cx="570.43" cy="318.66" r="1.75" fill="#fff" stroke="#000" stroke-width="0.9"/>
<circle cx="555.59" cy="318.99" r="1.75" fill="#fff" stroke="#000" stroke-width="0.9"/>
<circle cx="564.96" cy="319.28" r="1.75" fill="#fff" stroke="#000" stroke-width="0.9"/>
<circle cx="561.74" cy="320.37" r="1.75" fill="#fff" stroke="#000" stroke-width="0.9"/>
<circle cx="559.74" cy="320.86" r="1.75" fill="#fff" stroke="#000" stroke-width="0.9"/>
<circle cx="563.67" cy="321.15" r="1.75" fill="#fff" stroke="#000" stroke-width="0.9"/>
<circle cx="565.66" cy="321.70" r="1.75" fill="#fff" stroke="#000" stroke-width="0.9"/>
<circle cx="567.69" cy="321.84" r="1.75" fill="#fff" stroke="#000" stroke-width="0.9"/>
<circle cx="557.89" cy="321.87" r="1.75" fill="#fff" stroke="#000" stroke-width="0.9"/>
<circle cx="569.65" cy="322.51" r="1.75" fill="#fff" stroke="#000" stroke-width="0.9"/>
<circle cx="562.52" cy="323.13" r="1.75" fill="#fff" stroke="#000" stroke-width="0.9"/>
<circle cx="560.48" cy="323.24" r="1.75" fill="#fff" stroke="#000" stroke-width="0.9"/>
<circle cx="556.24" cy="323.27" r="1.75" fill="#fff" stroke="#000" stroke-width="0.9"/>
<circle cx="571.58" cy="323.28" r="1.75" fill="#fff" stroke="#000" stroke-width="0.9"/>
<circle cx="564.11" cy="324.63" r="1.75" fill="#fff" stroke="#000" stroke-width="0.9"/>
<circle cx="566.15" cy="324.68" r="1.75" fill="#fff" stroke="#000" stroke-width="0.9"/>
<circle cx="558.86" cy="324.70" r="1.75" fill="#fff" stroke="#000" stroke-width="0.9"/>
<circle cx="561.80" cy="325.37" r="1.75" fill="#fff" stroke="#000" stroke-width="0.9"/>
<circle cx="568.00" cy="325.68" r="1.75" fill="#fff" stroke="#000" stroke-width="0.9"/>
<circle cx="557.05" cy="325.82" r="1.75" fill="#fff" stroke="#000" stroke-width="0.9"/>
<circle cx="570.02" cy="326.01" r="1.75" fill="#fff" stroke="#000" stroke-width="0.9"/>
<circle cx="555.11" cy="326.55" r="1.75" fill="#fff" stroke="#000" stroke-width="0.9"/>
<circle cx="563.30" cy="326.99" r="1.75" fill="#fff" stroke="#000" stroke-width="0.9"/>
<circle cx="565.34" cy="327.12" r="1.75" fill="#fff" stroke="#000" stroke-width="0.9"/>
<circle cx="561.51" cy="328.15" r="1.75" fill="#fff" stroke="#000" stroke-width="0.9"/>
<circle cx="559.48" cy="328.31" r="1.75" fill="#fff" stroke="#000" stroke-width="0.9"/>
<circle cx="566.77" cy="328.83" r="1.75" fill="#fff" stroke="#000" stroke-width="0.9"/>
<circle cx="563.92" cy="329.28" r="1.75" fill="#fff" stroke="#000" stroke-width="0.9"/>
<circle cx="557.82" cy="329.71" r="1.75" fill="#fff" stroke="#000" stroke-width="0.9"/>
<circle cx="568.50" cy="330.09" r="1.75" fill="#fff" stroke="#000" stroke-width="0.9"/>
<circle cx="560.68" cy="330.34" r="1.75" fill="#fff" stroke="#000" stroke-width="0.9"/>
<circle cx="555.90" cy="330.53" r="1.75" fill="#fff" stroke="#000" stroke-width="0.9"/>
<circle cx="565.29" cy="331.06" r="1.75" fill="#fff" stroke="#000" stroke-width="0.9"/>
<circle cx="563.10" cy="331.63" r="1.75" fill="#fff" stroke="#000" stroke-width="0.9"/>
<circle cx="559.65" cy="332.41" r="1.75" fill="#fff" stroke="#000" stroke-width="0.9"/>
<circle cx="566.77" cy="332.71" r="1.75" fill="#fff" stroke="#000" stroke-width="0.9"/>
<circle cx="557.63" cy="332.77" r="1.75" fill="#fff" stroke="#000" stroke-width="0.9"/>
<circle cx="561.57" cy="333.22" r="1.75" fill="#fff" stroke="#000" stroke-width="0.9"/>
<circle cx="568.76" cy="333.22" r="1.75" fill="#fff" stroke="#000" stroke-width="0.9"/>
<circle cx="563.26" cy="334.56" r="1.75" fill="#fff" stroke="#000" stroke-width="0.9"/>
<circle cx="565.30" cy="334.63" r="1.75" fill="#fff" stroke="#000" stroke-width="0.9"/>
<circle cx="560.21" cy="335.01" r="1.75" fill="#fff" stroke="#000" stroke-width="0.9"/>
<circle cx="567.15" cy="335.65" r="1.75" fill="#fff" stroke="#000" stroke-width="0.9"/>
<circle cx="558.47" cy="336.26" r="1.75" fill="#fff" stroke="#000" stroke-width="0.9"/>
<circle cx="562.47" cy="336.78" r="1.75" fill="#fff" stroke="#000" stroke-width="0.9"/>
<circle cx="564.48" cy="337.23" r="1.75" fill="#fff" stroke="#000" stroke-width="0.9"/>
<circle cx="560.51" cy="337.42" r="1.75" fill="#fff" stroke="#000" stroke-width="0.9"/>
<circle cx="566.28" cy="338.34" r="1.75" fill="#fff" stroke="#000" stroke-width="0.9"/>
<circle cx="563.10" cy="339.34" r="1.75" fill="#fff" stroke="#000" stroke-width="0.9"/>
<circle cx="561.11" cy="339.84" r="1.75" fill="#fff" stroke="#000" stroke-width="0.9"/>
<circle cx="559.09" cy="340.19" r="1.75" fill="#fff" stroke="#000" stroke-width="0.9"/>
<circle cx="564.43" cy="341.15" r="1.75" fill="#fff" stroke="#000" stroke-width="0.9"/>
<circle cx="566.46" cy="341.39" r="1.75" fill="#fff" stroke="#000" stroke-width="0.9"/>
<circle cx="563.10" cy="343.04" r="1.75" fill="#fff" stroke="#000" stroke-width="0.9"/>
<circle cx="561.06" cy="343.04" r="1.75" fill="#fff" stroke="#000" stroke-width="0.9"/>
<circle cx="565.00" cy="343.90" r="1.75" fill="#fff" stroke="#000" stroke-width="0.9"/>
<circle cx="562.47" cy="345.32" r="1.75" fill="#fff" stroke="#000" stroke-width="0.9"/>
<circle cx="564.04" cy="346.84" r="1.75" fill="#fff" stroke="#000" stroke-width="0.9"/>
<circle cx="561.77" cy="347.57" r="1.75" fill="#fff" stroke="#000" stroke-width="0.9"/>
<circle cx="565.27" cy="348.76" r="1.75" fill="#fff" stroke="#000" stroke-width="0.9"/>
<circle cx="563.10" cy="351.90" r="1.75" fill="#fff" stroke="#000" stroke-width="0.9"/>
<circle cx="563.10" cy="383.80" r="1.75" fill="#fff" stroke="#000" stroke-width="0.9"/>
<circle cx="581.20" cy="295.60" r="1.75" fill="#3a5fae" stroke="#000" stroke-width="0.9"/>
<circle cx="581.20" cy="299.08" r="1.75" fill="#3a5fae" stroke="#000" stroke-width="0.9"/>
<circle cx="579.51" cy="300.43" r="1.75" fill="#3a5fae" stroke="#000" stroke-width="0.9"/>
<circle cx="581.25" cy="301.67" r="1.75" fill="#3a5fae" stroke="#000" stroke-width="0.9"/>
<circle cx="583.26" cy="302.09" r="1.75" fill="#3a5fae" stroke="#000" stroke-width="0.9"/>
<circle cx="579.69" cy="303.22" r="1.75" fill="#3a5fae" stroke="#000" stroke-width="0.9"/>
<circle cx="584.58" cy="303.92" r="1.75" fill="#3a5fae" stroke="#000" stroke-width="0.9"/>
<circle cx="581.20" cy="305.16" r="1.75" fill="#3a5fae" stroke="#000" stroke-width="0.9"/>
<circle cx="579.21" cy="305.69" r="1.75" fill="#3a5fae" stroke="#000" stroke-width="0.9"/>
<circle cx="582.91" cy="306.47" r="1.75" fill="#3a5fae" stroke="#000" stroke-width="0.9"/>
<circle cx="581.17" cy="307.73" r="1.75" fill="#3a5fae" stroke="#000" stroke-width="0.9"/>
<circle cx="579.28" cy="308.63" r="1.75" fill="#3a5fae" stroke="#000" stroke-width="0.9"/>
<circle cx="583.14" cy="308.85" r="1.75" fill="#3a5fae" stroke="#000" stroke-width="0.9"/>
<circle cx="577.26" cy="308.92" r="1.75" fill="#3a5fae" stroke="#000" stroke-width="0.9"/>
<circle cx="581.20" cy="310.19" r="1.75" fill="#3a5fae" stroke="#000" stroke-width="0.9"/>
<circle cx="584.59" cy="310.55" r="1.75" fill="#3a5fae" stroke="#000" stroke-width="0.9"/>
<circle cx="579.66" cy="311.77" r="1.75" fill="#3a5fae" stroke="#000" stroke-width="0.9"/>
<circle cx="582.53" cy="312.01" r="1.75" fill="#3a5fae" stroke="#000" stroke-width="0.9"/>
<circle cx="577.78" cy="312.70" r="1.75" fill="#3a5fae" stroke="#000" stroke-width="0.9"/>
<circle cx="584.36" cy="313.07" r="1.75" fill="#3a5fae" stroke="#000" stroke-width="0.9"/>
<circle cx="586.38" cy="313.39" r="1.75" fill="#3a5fae" stroke="#000" stroke-width="0.9"/>
<circle cx="581.20" cy="314.34" r="1.75" fill="#3a5fae" stroke="#000" stroke-width="0.9"/>
<circle cx="579.17" cy="314.60" r="1.75" fill="#3a5fae" stroke="#000" stroke-width="0.9"/>
<circle cx="576.73" cy="314.76" r="1.75" fill="#3a5fae" stroke="#000" stroke-width="0.9"/>
<circle cx="574.70" cy="314.92" r="1.75" fill="#3a5fae" stroke="#000" stroke-width="0.9"/>
<circle cx="582.91" cy="315.64" r="1.75" fill="#3a5fae" stroke="#000" stroke-width="0.9"/>
<circle cx="584.89" cy="316.24" r="1.75" fill="#3a5fae" stroke="#000" stroke-width="0.9"/>
<circle cx="586.93" cy="316.29" r="1.75" fill="#3a5fae" stroke="#000" stroke-width="0.9"/>
<circle cx="581.20" cy="316.98" r="1.75" fill="#3a5fae" stroke="#000" stroke-width="0.9"/>
<circle cx="579.21" cy="317.50" r="1.75" fill="#3a5fae" stroke="#000" stroke-width="0.9"/>
<circle cx="577.18" cy="317.70" r="1.75" fill="#3a5fae" stroke="#000" stroke-width="0.9"/>
<circle cx="582.47" cy="318.86" r="1.75" fill="#3a5fae" stroke="#000" stroke-width="0.9"/>
<circle cx="584.50" cy="319.09" r="1.75" fill="#3a5fae" stroke="#000" stroke-width="0.9"/>
<circle cx="586.54" cy="319.11" r="1.75" fill="#3a5fae" stroke="#000" stroke-width="0.9"/>
<circle cx="580.51" cy="319.51" r="1.75" fill="#3a5fae" stroke="#000" stroke-width="0.9"/>
<circle cx="578.51" cy="319.99" r="1.75" fill="#3a5fae" stroke="#000" stroke-width="0.9"/>
<circle cx="576.49" cy="320.37" r="1.75" fill="#3a5fae" stroke="#000" stroke-width="0.9"/>
<circle cx="581.88" cy="321.29" r="1.75" fill="#3a5fae" stroke="#000" stroke-width="0.9"/>
<circle cx="583.91" cy="321.40" r="1.75" fill="#3a5fae" stroke="#000" stroke-width="0.9"/>
<circle cx="585.93" cy="321.78" r="1.75" fill="#3a5fae" stroke="#000" stroke-width="0.9"/>
<circle cx="579.89" cy="321.83" r="1.75" fill="#3a5fae" stroke="#000" stroke-width="0.9"/>
<circle cx="578.02" cy="322.79" r="1.75" fill="#3a5fae" stroke="#000" stroke-width="0.9"/>
<circle cx="576.00" cy="323.10" r="1.75" fill="#3a5fae" stroke="#000" stroke-width="0.9"/>
<circle cx="587.58" cy="323.19" r="1.75" fill="#3a5fae" stroke="#000" stroke-width="0.9"/>
<circle cx="573.96" cy="323.27" r="1.75" fill="#3a5fae" stroke="#000" stroke-width="0.9"/>
<circle cx="581.20" cy="324.55" r="1.75" fill="#3a5fae" stroke="#000" stroke-width="0.9"/>
<circle cx="583.23" cy="324.76" r="1.75" fill="#3a5fae" stroke="#000" stroke-width="0.9"/>
<circle cx="579.31" cy="325.46" r="1.75" fill="#3a5fae" stroke="#000" stroke-width="0.9"/>
<circle cx="585.04" cy="325.87" r="1.75" fill="#3a5fae" stroke="#000" stroke-width="0.9"/>
<circle cx="577.40" cy="326.31" r="1.75" fill="#3a5fae" stroke="#000" stroke-width="0.9"/>
<circle cx="587.00" cy="326.52" r="1.75" fill="#3a5fae" stroke="#000" stroke-width="0.9"/>
<circle cx="581.20" cy="327.04" r="1.75" fill="#3a5fae" stroke="#000" stroke-width="0.9"/>
<circle cx="583.23" cy="327.26" r="1.75" fill="#3a5fae" stroke="#000" stroke-width="0.9"/>
<circle cx="575.60" cy="327.43" r="1.75" fill="#3a5fae" stroke="#000" stroke-width="0.9"/>
<circle cx="588.79" cy="327.67" r="1.75" fill="#3a5fae" stroke="#000" stroke-width="0.9"/>
<circle cx="579.38" cy="328.12" r="1.75" fill="#3a5fae" stroke="#000" stroke-width="0.9"/>
<circle cx="584.94" cy="328.58" r="1.75" fill="#3a5fae" stroke="#000" stroke-width="0.9"/>
<circle cx="581.20" cy="329.48" r="1.75" fill="#3a5fae" stroke="#000" stroke-width="0.9"/>
<circle cx="577.79" cy="329.62" r="1.75" fill="#3a5fae" stroke="#000" stroke-width="0.9"/>
<circle cx="583.20" cy="329.92" r="1.75" fill="#3a5fae" stroke="#000" stroke-width="0.9"/>
<circle cx="586.34" cy="330.32" r="1.75" fill="#3a5fae" stroke="#000" stroke-width="0.9"/>
<circle cx="575.85" cy="330.38" r="1.75" fill="#3a5fae" stroke="#000" stroke-width="0.9"/>
<circle cx="580.00" cy="331.42" r="1.75" fill="#3a5fae" stroke="#000" stroke-width="0.9"/>
<circle cx="588.13" cy="331.47" r="1.75" fill="#3a5fae" stroke="#000" stroke-width="0.9"/>
<circle cx="574.09" cy="331.59" r="1.75" fill="#3a5fae" stroke="#000" stroke-width="0.9"/>
<circle cx="581.97" cy="332.08" r="1.75" fill="#3a5fae" stroke="#000" stroke-width="0.9"/>
<circle cx="583.85" cy="332.99" r="1.75" fill="#3a5fae" stroke="#000" stroke-width="0.9"/>
<circle cx="578.47" cy="333.00" r="1.75" fill="#3a5fae" stroke="#000" stroke-width="0.9"/>
<circle cx="585.89" cy="333.12" r="1.75" fill="#3a5fae" stroke="#000" stroke-width="0.9"/>
<circle cx="576.46" cy="333.40" r="1.75" fill="#3a5fae" stroke="#000" stroke-width="0.9"/>
<circle cx="581.20" cy="334.48" r="1.75" fill="#3a5fae" stroke="#000" stroke-width="0.9"/>
<circle cx="587.36" cy="334.78" r="1.75" fill="#3a5fae" stroke="#000" stroke-width="0.9"/>
<circle cx="579.26" cy="335.23" r="1.75" fill="#3a5fae" stroke="#000" stroke-width="0.9"/>
<circle cx="582.99" cy="335.64" r="1.75" fill="#3a5fae" stroke="#000" stroke-width="0.9"/>
<circle cx="585.01" cy="335.96" r="1.75" fill="#3a5fae" stroke="#000" stroke-width="0.9"/>
<circle cx="577.52" cy="336.47" r="1.75" fill="#3a5fae" stroke="#000" stroke-width="0.9"/>
<circle cx="575.50" cy="336.81" r="1.75" fill="#3a5fae" stroke="#000" stroke-width="0.9"/>
<circle cx="581.20" cy="337.02" r="1.75" fill="#3a5fae" stroke="#000" stroke-width="0.9"/>
<circle cx="579.36" cy="338.05" r="1.75" fill="#3a5fae" stroke="#000" stroke-width="0.9"/>
<circle cx="582.97" cy="338.22" r="1.75" fill="#3a5fae" stroke="#000" stroke-width="0.9"/>
<circle cx="584.99" cy="338.55" r="1.75" fill="#3a5fae" stroke="#000" stroke-width="0.9"/>
<circle cx="577.60" cy="339.26" r="1.75" fill="#3a5fae" stroke="#000" stroke-width="0.9"/>
<circle cx="581.20" cy="340.25" r="1.75" fill="#3a5fae" stroke="#000" stroke-width="0.9"/>
<circle cx="583.21" cy="340.68" r="1.75" fill="#3a5fae" stroke="#000" stroke-width="0.9"/>
<circle cx="585.86" cy="340.72" r="1.75" fill="#3a5fae" stroke="#000" stroke-width="0.9"/>
<circle cx="579.37" cy="341.30" r="1.75" fill="#3a5fae" stroke="#000" stroke-width="0.9"/>
<circle cx="581.20" cy="342.85" r="1.75" fill="#3a5fae" stroke="#000" stroke-width="0.9"/>
<circle cx="583.21" cy="343.23" r="1.75" fill="#3a5fae" stroke="#000" stroke-width="0.9"/>
<circle cx="578.27" cy="343.33" r="1.75" fill="#3a5fae" stroke="#000" stroke-width="0.9"/>
<circle cx="584.92" cy="344.55" r="1.75" fill="#3a5fae" stroke="#000" stroke-width="0.9"/>
<circle cx="580.06" cy="344.84" r="1.75" fill="#3a5fae" stroke="#000" stroke-width="0.9"/>
<circle cx="581.96" cy="345.72" r="1.75" fill="#3a5fae" stroke="#000" stroke-width="0.9"/>
<circle cx="579.35" cy="347.09" r="1.75" fill="#3a5fae" stroke="#000" stroke-width="0.9"/>
<circle cx="583.02" cy="347.77" r="1.75" fill="#3a5fae" stroke="#000" stroke-width="0.9"/>
<circle cx="577.52" cy="348.16" r="1.75" fill="#3a5fae" stroke="#000" stroke-width="0.9"/>
<circle cx="581.20" cy="349.85" r="1.75" fill="#3a5fae" stroke="#000" stroke-width="0.9"/>
<circle cx="579.25" cy="350.55" r="1.75" fill="#3a5fae" stroke="#000" stroke-width="0.9"/>
<circle cx="582.07" cy="352.02" r="1.75" fill="#3a5fae" stroke="#000" stroke-width="0.9"/>
<circle cx="580.37" cy="353.34" r="1.75" fill="#3a5fae" stroke="#000" stroke-width="0.9"/>
<circle cx="582.86" cy="354.23" r="1.75" fill="#3a5fae" stroke="#000" stroke-width="0.9"/>
<circle cx="581.20" cy="356.23" r="1.75" fill="#3a5fae" stroke="#000" stroke-width="0.9"/>
<circle cx="580.53" cy="358.50" r="1.75" fill="#3a5fae" stroke="#000" stroke-width="0.9"/>
<circle cx="607.70" cy="329.06" r="1.75" fill="#fff" stroke="#000" stroke-width="0.9"/>
<circle cx="607.70" cy="331.59" r="1.75" fill="#fff" stroke="#000" stroke-width="0.9"/>
<circle cx="606.01" cy="332.93" r="1.75" fill="#fff" stroke="#000" stroke-width="0.9"/>
<circle cx="607.78" cy="334.12" r="1.75" fill="#fff" stroke="#000" stroke-width="0.9"/>
<circle cx="606.04" cy="335.38" r="1.75" fill="#fff" stroke="#000" stroke-width="0.9"/>
<circle cx="607.76" cy="336.67" r="1.75" fill="#fff" stroke="#000" stroke-width="0.9"/>
<circle cx="609.79" cy="336.83" r="1.75" fill="#fff" stroke="#000" stroke-width="0.9"/>
<circle cx="605.96" cy="337.82" r="1.75" fill="#fff" stroke="#000" stroke-width="0.9"/>
<circle cx="607.70" cy="339.56" r="1.75" fill="#fff" stroke="#000" stroke-width="0.9"/>
<circle cx="605.93" cy="340.76" r="1.75" fill="#fff" stroke="#000" stroke-width="0.9"/>
<circle cx="608.49" cy="341.78" r="1.75" fill="#fff" stroke="#000" stroke-width="0.9"/>
<circle cx="606.95" cy="343.35" r="1.75" fill="#fff" stroke="#000" stroke-width="0.9"/>
<circle cx="607.81" cy="345.53" r="1.75" fill="#fff" stroke="#000" stroke-width="0.9"/>
<circle cx="607.70" cy="364.20" r="1.75" fill="#fff" stroke="#000" stroke-width="0.9"/>
<circle cx="625.70" cy="327.07" r="1.75" fill="#3a5fae" stroke="#000" stroke-width="0.9"/>
<circle cx="624.37" cy="328.89" r="1.75" fill="#3a5fae" stroke="#000" stroke-width="0.9"/>
<circle cx="626.19" cy="329.97" r="1.75" fill="#3a5fae" stroke="#000" stroke-width="0.9"/>
<circle cx="628.20" cy="330.41" r="1.75" fill="#3a5fae" stroke="#000" stroke-width="0.9"/>
<circle cx="625.70" cy="332.35" r="1.75" fill="#3a5fae" stroke="#000" stroke-width="0.9"/>
<circle cx="623.69" cy="332.77" r="1.75" fill="#3a5fae" stroke="#000" stroke-width="0.9"/>
<circle cx="627.57" cy="333.30" r="1.75" fill="#3a5fae" stroke="#000" stroke-width="0.9"/>
<circle cx="622.11" cy="334.28" r="1.75" fill="#3a5fae" stroke="#000" stroke-width="0.9"/>
<circle cx="625.70" cy="335.61" r="1.75" fill="#3a5fae" stroke="#000" stroke-width="0.9"/>
<circle cx="627.76" cy="335.69" r="1.75" fill="#3a5fae" stroke="#000" stroke-width="0.9"/>
<circle cx="623.94" cy="336.81" r="1.75" fill="#3a5fae" stroke="#000" stroke-width="0.9"/>
<circle cx="625.70" cy="338.17" r="1.75" fill="#3a5fae" stroke="#000" stroke-width="0.9"/>
<circle cx="624.76" cy="340.30" r="1.75" fill="#3a5fae" stroke="#000" stroke-width="0.9"/>
<circle cx="625.86" cy="342.32" r="1.75" fill="#3a5fae" stroke="#000" stroke-width="0.9"/>
<circle cx="659.10" cy="317.70" r="1.75" fill="#fff" stroke="#000" stroke-width="0.9"/>
<circle cx="659.10" cy="332.50" r="1.75" fill="#3a5fae" stroke="#000" stroke-width="0.9"/>
<text x="665.80" y="320.40" font-size="7.5" text-anchor="start" fill="#333" font-style="italic" >SDHA</text>
<text x="665.80" y="335.20" font-size="7.5" text-anchor="start" fill="#333" font-style="italic" >SDHB</text>
<text x="24.6" y="464.2" font-size="12.8" font-weight="bold" fill="#000" stroke="#000" stroke-width="0.4">g</text>
<line x1="50.80" y1="472.20" x2="50.80" y2="684.30" stroke="#7a7a7a" stroke-width="0.9" />
<line x1="50.80" y1="684.30" x2="217.50" y2="684.30" stroke="#7a7a7a" stroke-width="0.9" />
<line x1="47.40" y1="674.90" x2="50.80" y2="674.90" stroke="#7a7a7a" stroke-width="0.9" />
<text x="42.80" y="677.78" font-size="8" text-anchor="end" fill="#333" >0</text>
<line x1="47.40" y1="619.70" x2="50.80" y2="619.70" stroke="#7a7a7a" stroke-width="0.9" />
<text x="42.80" y="622.58" font-size="8" text-anchor="end" fill="#333" >10</text>
<line x1="47.40" y1="564.50" x2="50.80" y2="564.50" stroke="#7a7a7a" stroke-width="0.9" />
<text x="42.80" y="567.38" font-size="8" text-anchor="end" fill="#333" >20</text>
<line x1="47.40" y1="509.30" x2="50.80" y2="509.30" stroke="#7a7a7a" stroke-width="0.9" />
<text x="42.80" y="512.18" font-size="8" text-anchor="end" fill="#333" >30</text>
<line x1="86.40" y1="684.30" x2="86.40" y2="687.50" stroke="#7a7a7a" stroke-width="0.9" />
<text x="86.40" y="698.10" font-size="8" text-anchor="middle" fill="#333" >&#8722;40</text>
<line x1="126.40" y1="684.30" x2="126.40" y2="687.50" stroke="#7a7a7a" stroke-width="0.9" />
<text x="126.40" y="698.10" font-size="8" text-anchor="middle" fill="#333" >0</text>
<line x1="166.40" y1="684.30" x2="166.40" y2="687.50" stroke="#7a7a7a" stroke-width="0.9" />
<text x="166.40" y="698.10" font-size="8" text-anchor="middle" fill="#333" >40</text>
<line x1="206.40" y1="684.30" x2="206.40" y2="687.50" stroke="#7a7a7a" stroke-width="0.9" />
<text x="206.40" y="698.10" font-size="8" text-anchor="middle" fill="#333" >80</text>
<text x="133.90" y="711.60" font-size="9" text-anchor="middle" fill="#333" ><tspan font-style="italic">SDHB</tspan> effect</text>
<text transform="translate(22.20,585.20) rotate(-90)" x="0" y="3.24" font-size="9" text-anchor="middle" fill="#333">&#8722;log(FDR)</text>
<text x="90.60" y="498.90" font-size="7.6" text-anchor="middle" fill="#333" >Sensitivity</text>
<text x="161.60" y="498.90" font-size="7.4" text-anchor="middle" fill="#333" >Resistance</text>
<line x1="66.50" y1="503.60" x2="115.80" y2="503.60" stroke="#5a6a8a" stroke-width="0.9" />
<path d="M65.5,503.6 L69.5,501.6 L69.5,505.6 Z" fill="#5a6a8a"/>
<line x1="136.10" y1="503.60" x2="185.50" y2="503.60" stroke="#5a6a8a" stroke-width="0.9" />
<path d="M186.5,503.6 L182.5,501.6 L182.5,505.6 Z" fill="#5a6a8a"/>
<circle cx="130.00" cy="673.30" r="2.5" fill="#c6c6c6" stroke="#262626" stroke-width="0.65"/>
<circle cx="140.83" cy="655.29" r="2.5" fill="#c6c6c6" stroke="#262626" stroke-width="0.65"/>
<circle cx="104.52" cy="665.51" r="2.5" fill="#c6c6c6" stroke="#262626" stroke-width="0.65"/>
<circle cx="141.66" cy="657.94" r="2.5" fill="#c6c6c6" stroke="#262626" stroke-width="0.65"/>
<circle cx="137.56" cy="661.56" r="2.5" fill="#c6c6c6" stroke="#262626" stroke-width="0.65"/>
<circle cx="129.65" cy="670.42" r="2.5" fill="#c6c6c6" stroke="#262626" stroke-width="0.65"/>
<circle cx="141.70" cy="657.00" r="2.5" fill="#c6c6c6" stroke="#262626" stroke-width="0.65"/>
<circle cx="109.56" cy="669.16" r="2.5" fill="#c6c6c6" stroke="#262626" stroke-width="0.65"/>
<circle cx="144.30" cy="669.70" r="2.5" fill="#c6c6c6" stroke="#262626" stroke-width="0.65"/>
<circle cx="155.80" cy="660.60" r="2.5" fill="#c6c6c6" stroke="#262626" stroke-width="0.65"/>
<circle cx="134.31" cy="666.24" r="2.5" fill="#c6c6c6" stroke="#262626" stroke-width="0.65"/>
<circle cx="112.78" cy="670.64" r="2.5" fill="#c6c6c6" stroke="#262626" stroke-width="0.65"/>
<circle cx="151.40" cy="667.60" r="2.5" fill="#c6c6c6" stroke="#262626" stroke-width="0.65"/>
<circle cx="102.48" cy="666.17" r="2.5" fill="#c6c6c6" stroke="#262626" stroke-width="0.65"/>
<circle cx="136.14" cy="663.61" r="2.5" fill="#c6c6c6" stroke="#262626" stroke-width="0.65"/>
<circle cx="98.20" cy="625.80" r="2.5" fill="#c6c6c6" stroke="#262626" stroke-width="0.65"/>
<circle cx="101.70" cy="662.80" r="2.5" fill="#c6c6c6" stroke="#262626" stroke-width="0.65"/>
<circle cx="104.30" cy="652.40" r="2.5" fill="#c6c6c6" stroke="#262626" stroke-width="0.65"/>
<circle cx="99.55" cy="664.91" r="2.5" fill="#c6c6c6" stroke="#262626" stroke-width="0.65"/>
<circle cx="101.20" cy="641.60" r="2.5" fill="#c6c6c6" stroke="#262626" stroke-width="0.65"/>
<circle cx="127.14" cy="674.55" r="2.5" fill="#c6c6c6" stroke="#262626" stroke-width="0.65"/>
<circle cx="131.25" cy="668.72" r="2.5" fill="#c6c6c6" stroke="#262626" stroke-width="0.65"/>
<circle cx="139.84" cy="659.08" r="2.5" fill="#c6c6c6" stroke="#262626" stroke-width="0.65"/>
<circle cx="119.66" cy="673.51" r="2.5" fill="#c6c6c6" stroke="#262626" stroke-width="0.65"/>
<circle cx="111.60" cy="652.40" r="2.5" fill="#c6c6c6" stroke="#262626" stroke-width="0.65"/>
<circle cx="143.20" cy="657.50" r="2.5" fill="#c6c6c6" stroke="#262626" stroke-width="0.65"/>
<circle cx="98.90" cy="672.00" r="2.5" fill="#c6c6c6" stroke="#262626" stroke-width="0.65"/>
<circle cx="111.30" cy="652.40" r="2.5" fill="#c6c6c6" stroke="#262626" stroke-width="0.65"/>
<circle cx="136.48" cy="663.61" r="2.5" fill="#c6c6c6" stroke="#262626" stroke-width="0.65"/>
<circle cx="111.87" cy="669.63" r="2.5" fill="#c6c6c6" stroke="#262626" stroke-width="0.65"/>
<circle cx="108.00" cy="637.60" r="2.5" fill="#c6c6c6" stroke="#262626" stroke-width="0.65"/>
<circle cx="133.40" cy="664.96" r="2.5" fill="#c6c6c6" stroke="#262626" stroke-width="0.65"/>
<circle cx="140.30" cy="673.70" r="2.5" fill="#c6c6c6" stroke="#262626" stroke-width="0.65"/>
<circle cx="117.63" cy="672.42" r="2.5" fill="#c6c6c6" stroke="#262626" stroke-width="0.65"/>
<circle cx="126.80" cy="674.30" r="2.5" fill="#c6c6c6" stroke="#262626" stroke-width="0.65"/>
<circle cx="125.94" cy="673.08" r="2.5" fill="#c6c6c6" stroke="#262626" stroke-width="0.65"/>
<circle cx="136.64" cy="663.04" r="2.5" fill="#c6c6c6" stroke="#262626" stroke-width="0.65"/>
<circle cx="131.56" cy="668.97" r="2.5" fill="#c6c6c6" stroke="#262626" stroke-width="0.65"/>
<circle cx="157.00" cy="644.50" r="2.5" fill="#c6c6c6" stroke="#262626" stroke-width="0.65"/>
<circle cx="147.30" cy="651.00" r="2.5" fill="#c6c6c6" stroke="#262626" stroke-width="0.65"/>
<circle cx="104.57" cy="672.91" r="2.5" fill="#c6c6c6" stroke="#262626" stroke-width="0.65"/>
<circle cx="103.23" cy="666.51" r="2.5" fill="#c6c6c6" stroke="#262626" stroke-width="0.65"/>
<circle cx="130.33" cy="671.70" r="2.5" fill="#c6c6c6" stroke="#262626" stroke-width="0.65"/>
<circle cx="100.30" cy="644.20" r="2.5" fill="#c6c6c6" stroke="#262626" stroke-width="0.65"/>
<circle cx="92.50" cy="633.20" r="2.5" fill="#c6c6c6" stroke="#262626" stroke-width="0.65"/>
<circle cx="107.00" cy="656.50" r="2.5" fill="#c6c6c6" stroke="#262626" stroke-width="0.65"/>
<circle cx="58.60" cy="598.50" r="2.5" fill="#c6c6c6" stroke="#262626" stroke-width="0.65"/>
<circle cx="140.97" cy="655.07" r="2.5" fill="#c6c6c6" stroke="#262626" stroke-width="0.65"/>
<circle cx="130.05" cy="669.97" r="2.5" fill="#c6c6c6" stroke="#262626" stroke-width="0.65"/>
<circle cx="147.80" cy="644.20" r="2.5" fill="#c6c6c6" stroke="#262626" stroke-width="0.65"/>
<circle cx="121.01" cy="672.73" r="2.5" fill="#c6c6c6" stroke="#262626" stroke-width="0.65"/>
<circle cx="124.30" cy="674.30" r="2.5" fill="#c6c6c6" stroke="#262626" stroke-width="0.65"/>
<circle cx="135.19" cy="664.15" r="2.5" fill="#c6c6c6" stroke="#262626" stroke-width="0.65"/>
<circle cx="109.80" cy="669.74" r="2.5" fill="#c6c6c6" stroke="#262626" stroke-width="0.65"/>
<circle cx="107.00" cy="644.70" r="2.5" fill="#c6c6c6" stroke="#262626" stroke-width="0.65"/>
<circle cx="114.21" cy="670.96" r="2.5" fill="#c6c6c6" stroke="#262626" stroke-width="0.65"/>
<circle cx="117.92" cy="672.91" r="2.5" fill="#c6c6c6" stroke="#262626" stroke-width="0.65"/>
<circle cx="90.90" cy="662.80" r="2.5" fill="#c6c6c6" stroke="#262626" stroke-width="0.65"/>
<circle cx="101.04" cy="664.58" r="2.5" fill="#c6c6c6" stroke="#262626" stroke-width="0.65"/>
<circle cx="122.45" cy="673.30" r="2.5" fill="#c6c6c6" stroke="#262626" stroke-width="0.65"/>
<circle cx="134.47" cy="663.63" r="2.5" fill="#c6c6c6" stroke="#262626" stroke-width="0.65"/>
<circle cx="117.70" cy="673.30" r="2.5" fill="#c6c6c6" stroke="#262626" stroke-width="0.65"/>
<circle cx="141.24" cy="657.58" r="2.5" fill="#c6c6c6" stroke="#262626" stroke-width="0.65"/>
<circle cx="108.90" cy="669.57" r="2.5" fill="#c6c6c6" stroke="#262626" stroke-width="0.65"/>
<circle cx="112.43" cy="671.64" r="2.5" fill="#c6c6c6" stroke="#262626" stroke-width="0.65"/>
<circle cx="147.90" cy="644.50" r="2.5" fill="#c6c6c6" stroke="#262626" stroke-width="0.65"/>
<circle cx="121.92" cy="673.37" r="2.5" fill="#c6c6c6" stroke="#262626" stroke-width="0.65"/>
<circle cx="129.68" cy="674.64" r="2.5" fill="#c6c6c6" stroke="#262626" stroke-width="0.65"/>
<circle cx="113.31" cy="671.16" r="2.5" fill="#c6c6c6" stroke="#262626" stroke-width="0.65"/>
<circle cx="143.81" cy="651.63" r="2.5" fill="#c6c6c6" stroke="#262626" stroke-width="0.65"/>
<circle cx="132.09" cy="667.91" r="2.5" fill="#c6c6c6" stroke="#262626" stroke-width="0.65"/>
<circle cx="118.43" cy="674.39" r="2.5" fill="#c6c6c6" stroke="#262626" stroke-width="0.65"/>
<circle cx="112.83" cy="670.66" r="2.5" fill="#c6c6c6" stroke="#262626" stroke-width="0.65"/>
<circle cx="116.13" cy="670.70" r="2.5" fill="#c6c6c6" stroke="#262626" stroke-width="0.65"/>
<circle cx="127.40" cy="673.80" r="2.5" fill="#c6c6c6" stroke="#262626" stroke-width="0.65"/>
<circle cx="114.43" cy="671.67" r="2.5" fill="#c6c6c6" stroke="#262626" stroke-width="0.65"/>
<circle cx="107.12" cy="668.42" r="2.5" fill="#c6c6c6" stroke="#262626" stroke-width="0.65"/>
<circle cx="90.60" cy="662.60" r="2.5" fill="#c6c6c6" stroke="#262626" stroke-width="0.65"/>
<circle cx="136.32" cy="662.02" r="2.5" fill="#c6c6c6" stroke="#262626" stroke-width="0.65"/>
<circle cx="130.41" cy="669.66" r="2.5" fill="#c6c6c6" stroke="#262626" stroke-width="0.65"/>
<circle cx="123.98" cy="672.72" r="2.5" fill="#c6c6c6" stroke="#262626" stroke-width="0.65"/>
<circle cx="100.00" cy="650.90" r="2.5" fill="#c6c6c6" stroke="#262626" stroke-width="0.65"/>
<circle cx="140.20" cy="660.50" r="2.5" fill="#c6c6c6" stroke="#262626" stroke-width="0.65"/>
<circle cx="112.80" cy="654.00" r="2.5" fill="#c6c6c6" stroke="#262626" stroke-width="0.65"/>
<circle cx="119.98" cy="673.08" r="2.5" fill="#c6c6c6" stroke="#262626" stroke-width="0.65"/>
<circle cx="157.00" cy="649.40" r="2.5" fill="#c6c6c6" stroke="#262626" stroke-width="0.65"/>
<circle cx="110.33" cy="669.59" r="2.5" fill="#c6c6c6" stroke="#262626" stroke-width="0.65"/>
<circle cx="114.79" cy="673.28" r="2.5" fill="#c6c6c6" stroke="#262626" stroke-width="0.65"/>
<circle cx="127.58" cy="671.57" r="2.5" fill="#c6c6c6" stroke="#262626" stroke-width="0.65"/>
<circle cx="138.61" cy="660.72" r="2.5" fill="#c6c6c6" stroke="#262626" stroke-width="0.65"/>
<circle cx="125.91" cy="675.20" r="2.5" fill="#c6c6c6" stroke="#262626" stroke-width="0.65"/>
<circle cx="122.82" cy="674.61" r="2.5" fill="#c6c6c6" stroke="#262626" stroke-width="0.65"/>
<circle cx="121.22" cy="673.53" r="2.5" fill="#c6c6c6" stroke="#262626" stroke-width="0.65"/>
<circle cx="133.00" cy="667.27" r="2.5" fill="#c6c6c6" stroke="#262626" stroke-width="0.65"/>
<circle cx="139.28" cy="658.30" r="2.5" fill="#c6c6c6" stroke="#262626" stroke-width="0.65"/>
<circle cx="100.80" cy="638.60" r="2.5" fill="#c6c6c6" stroke="#262626" stroke-width="0.65"/>
<circle cx="130.00" cy="671.30" r="2.5" fill="#c6c6c6" stroke="#262626" stroke-width="0.65"/>
<circle cx="107.90" cy="637.50" r="2.5" fill="#c6c6c6" stroke="#262626" stroke-width="0.65"/>
<circle cx="108.38" cy="669.26" r="2.5" fill="#c6c6c6" stroke="#262626" stroke-width="0.65"/>
<circle cx="133.90" cy="674.22" r="2.5" fill="#c6c6c6" stroke="#262626" stroke-width="0.65"/>
<circle cx="148.40" cy="640.60" r="2.5" fill="#c6c6c6" stroke="#262626" stroke-width="0.65"/>
<circle cx="132.00" cy="668.70" r="2.5" fill="#c6c6c6" stroke="#262626" stroke-width="0.65"/>
<circle cx="101.70" cy="644.00" r="2.5" fill="#c6c6c6" stroke="#262626" stroke-width="0.65"/>
<circle cx="104.90" cy="670.30" r="2.5" fill="#c6c6c6" stroke="#262626" stroke-width="0.65"/>
<circle cx="106.71" cy="668.10" r="2.5" fill="#c6c6c6" stroke="#262626" stroke-width="0.65"/>
<circle cx="100.80" cy="639.10" r="2.5" fill="#c6c6c6" stroke="#262626" stroke-width="0.65"/>
<circle cx="121.44" cy="673.79" r="2.5" fill="#c6c6c6" stroke="#262626" stroke-width="0.65"/>
<circle cx="95.90" cy="633.20" r="2.5" fill="#c6c6c6" stroke="#262626" stroke-width="0.65"/>
<circle cx="102.32" cy="666.14" r="2.5" fill="#c6c6c6" stroke="#262626" stroke-width="0.65"/>
<circle cx="142.70" cy="638.10" r="2.5" fill="#c6c6c6" stroke="#262626" stroke-width="0.65"/>
<circle cx="140.70" cy="653.40" r="2.5" fill="#c6c6c6" stroke="#262626" stroke-width="0.65"/>
<circle cx="141.00" cy="659.51" r="2.5" fill="#c6c6c6" stroke="#262626" stroke-width="0.65"/>
<circle cx="142.51" cy="652.35" r="2.5" fill="#c6c6c6" stroke="#262626" stroke-width="0.65"/>
<circle cx="132.00" cy="670.80" r="2.5" fill="#c6c6c6" stroke="#262626" stroke-width="0.65"/>
<circle cx="90.90" cy="669.80" r="2.5" fill="#c6c6c6" stroke="#262626" stroke-width="0.65"/>
<circle cx="100.56" cy="664.35" r="2.5" fill="#c6c6c6" stroke="#262626" stroke-width="0.65"/>
<circle cx="113.60" cy="671.80" r="2.5" fill="#c6c6c6" stroke="#262626" stroke-width="0.65"/>
<circle cx="120.20" cy="673.92" r="2.5" fill="#c6c6c6" stroke="#262626" stroke-width="0.65"/>
<circle cx="105.14" cy="667.94" r="2.5" fill="#c6c6c6" stroke="#262626" stroke-width="0.65"/>
<circle cx="131.36" cy="668.71" r="2.5" fill="#c6c6c6" stroke="#262626" stroke-width="0.65"/>
<circle cx="103.90" cy="652.40" r="2.5" fill="#c6c6c6" stroke="#262626" stroke-width="0.65"/>
<circle cx="108.52" cy="673.74" r="2.5" fill="#c6c6c6" stroke="#262626" stroke-width="0.65"/>
<circle cx="106.32" cy="674.51" r="2.5" fill="#c6c6c6" stroke="#262626" stroke-width="0.65"/>
<circle cx="87.70" cy="603.60" r="2.5" fill="#c6c6c6" stroke="#262626" stroke-width="0.65"/>
<circle cx="136.10" cy="663.60" r="2.5" fill="#c6c6c6" stroke="#262626" stroke-width="0.65"/>
<circle cx="136.80" cy="673.70" r="2.5" fill="#c6c6c6" stroke="#262626" stroke-width="0.65"/>
<circle cx="115.10" cy="655.80" r="2.5" fill="#c6c6c6" stroke="#262626" stroke-width="0.65"/>
<circle cx="142.60" cy="659.70" r="2.5" fill="#c6c6c6" stroke="#262626" stroke-width="0.65"/>
<circle cx="131.13" cy="673.78" r="2.5" fill="#c6c6c6" stroke="#262626" stroke-width="0.65"/>
<circle cx="142.99" cy="650.62" r="2.5" fill="#c6c6c6" stroke="#262626" stroke-width="0.65"/>
<circle cx="124.07" cy="674.03" r="2.5" fill="#c6c6c6" stroke="#262626" stroke-width="0.65"/>
<circle cx="163.10" cy="668.50" r="2.5" fill="#c6c6c6" stroke="#262626" stroke-width="0.65"/>
<circle cx="141.46" cy="652.57" r="2.5" fill="#c6c6c6" stroke="#262626" stroke-width="0.65"/>
<circle cx="141.78" cy="657.60" r="2.5" fill="#c6c6c6" stroke="#262626" stroke-width="0.65"/>
<circle cx="114.57" cy="672.60" r="2.5" fill="#c6c6c6" stroke="#262626" stroke-width="0.65"/>
<circle cx="89.40" cy="588.80" r="2.5" fill="#c6c6c6" stroke="#262626" stroke-width="0.65"/>
<circle cx="107.20" cy="667.49" r="2.5" fill="#c6c6c6" stroke="#262626" stroke-width="0.65"/>
<circle cx="141.38" cy="656.24" r="2.5" fill="#c6c6c6" stroke="#262626" stroke-width="0.65"/>
<circle cx="122.89" cy="675.30" r="2.5" fill="#c6c6c6" stroke="#262626" stroke-width="0.65"/>
<circle cx="128.75" cy="672.69" r="2.5" fill="#c6c6c6" stroke="#262626" stroke-width="0.65"/>
<circle cx="86.30" cy="610.00" r="2.5" fill="#c6c6c6" stroke="#262626" stroke-width="0.65"/>
<circle cx="109.50" cy="671.30" r="2.5" fill="#c6c6c6" stroke="#262626" stroke-width="0.65"/>
<circle cx="137.05" cy="673.16" r="2.5" fill="#c6c6c6" stroke="#262626" stroke-width="0.65"/>
<circle cx="137.38" cy="662.09" r="2.5" fill="#c6c6c6" stroke="#262626" stroke-width="0.65"/>
<circle cx="116.49" cy="674.49" r="2.5" fill="#c6c6c6" stroke="#262626" stroke-width="0.65"/>
<circle cx="140.30" cy="653.30" r="2.5" fill="#c6c6c6" stroke="#262626" stroke-width="0.65"/>
<circle cx="134.00" cy="665.70" r="2.5" fill="#c6c6c6" stroke="#262626" stroke-width="0.65"/>
<circle cx="132.35" cy="667.00" r="2.5" fill="#c6c6c6" stroke="#262626" stroke-width="0.65"/>
<circle cx="100.43" cy="664.12" r="2.5" fill="#c6c6c6" stroke="#262626" stroke-width="0.65"/>
<circle cx="123.98" cy="674.39" r="2.5" fill="#c6c6c6" stroke="#262626" stroke-width="0.65"/>
<circle cx="144.10" cy="670.00" r="2.5" fill="#c6c6c6" stroke="#262626" stroke-width="0.65"/>
<circle cx="106.60" cy="656.60" r="2.5" fill="#c6c6c6" stroke="#262626" stroke-width="0.65"/>
<circle cx="96.60" cy="622.40" r="2.5" fill="#c6c6c6" stroke="#262626" stroke-width="0.65"/>
<circle cx="143.85" cy="651.30" r="2.5" fill="#c6c6c6" stroke="#262626" stroke-width="0.65"/>
<circle cx="136.98" cy="664.01" r="2.5" fill="#c6c6c6" stroke="#262626" stroke-width="0.65"/>
<circle cx="136.55" cy="663.25" r="2.5" fill="#c6c6c6" stroke="#262626" stroke-width="0.65"/>
<circle cx="80.80" cy="610.00" r="2.5" fill="#c6c6c6" stroke="#262626" stroke-width="0.65"/>
<circle cx="147.90" cy="653.30" r="2.5" fill="#c6c6c6" stroke="#262626" stroke-width="0.65"/>
<circle cx="148.50" cy="640.40" r="2.5" fill="#c6c6c6" stroke="#262626" stroke-width="0.65"/>
<circle cx="121.30" cy="674.30" r="2.5" fill="#c6c6c6" stroke="#262626" stroke-width="0.65"/>
<circle cx="124.86" cy="674.11" r="2.5" fill="#c6c6c6" stroke="#262626" stroke-width="0.65"/>
<circle cx="119.07" cy="673.13" r="2.5" fill="#c6c6c6" stroke="#262626" stroke-width="0.65"/>
<circle cx="171.00" cy="632.60" r="2.5" fill="#c6c6c6" stroke="#262626" stroke-width="0.65"/>
<circle cx="140.59" cy="657.87" r="2.5" fill="#c6c6c6" stroke="#262626" stroke-width="0.65"/>
<circle cx="109.58" cy="667.90" r="2.5" fill="#c6c6c6" stroke="#262626" stroke-width="0.65"/>
<circle cx="133.32" cy="667.08" r="2.5" fill="#c6c6c6" stroke="#262626" stroke-width="0.65"/>
<circle cx="117.05" cy="670.58" r="2.5" fill="#c6c6c6" stroke="#262626" stroke-width="0.65"/>
<circle cx="201.90" cy="657.10" r="2.5" fill="#c6c6c6" stroke="#262626" stroke-width="0.65"/>
<circle cx="106.48" cy="668.31" r="2.5" fill="#c6c6c6" stroke="#262626" stroke-width="0.65"/>
<circle cx="130.93" cy="667.49" r="2.5" fill="#c6c6c6" stroke="#262626" stroke-width="0.65"/>
<circle cx="101.93" cy="664.95" r="2.5" fill="#c6c6c6" stroke="#262626" stroke-width="0.65"/>
<circle cx="125.97" cy="674.45" r="2.5" fill="#c6c6c6" stroke="#262626" stroke-width="0.65"/>
<circle cx="125.03" cy="674.98" r="2.5" fill="#c6c6c6" stroke="#262626" stroke-width="0.65"/>
<circle cx="112.18" cy="670.99" r="2.5" fill="#c6c6c6" stroke="#262626" stroke-width="0.65"/>
<circle cx="117.70" cy="664.10" r="2.5" fill="#c6c6c6" stroke="#262626" stroke-width="0.65"/>
<circle cx="139.87" cy="660.52" r="2.5" fill="#c6c6c6" stroke="#262626" stroke-width="0.65"/>
<circle cx="136.10" cy="673.30" r="2.5" fill="#c6c6c6" stroke="#262626" stroke-width="0.65"/>
<circle cx="140.20" cy="673.30" r="2.5" fill="#c6c6c6" stroke="#262626" stroke-width="0.65"/>
<circle cx="112.10" cy="665.70" r="2.5" fill="#c6c6c6" stroke="#262626" stroke-width="0.65"/>
<circle cx="97.40" cy="664.50" r="2.5" fill="#c6c6c6" stroke="#262626" stroke-width="0.65"/>
<circle cx="98.30" cy="664.60" r="2.5" fill="#c6c6c6" stroke="#262626" stroke-width="0.65"/>
<circle cx="109.14" cy="668.59" r="2.5" fill="#c6c6c6" stroke="#262626" stroke-width="0.65"/>
<circle cx="127.84" cy="674.15" r="2.5" fill="#c6c6c6" stroke="#262626" stroke-width="0.65"/>
<circle cx="103.77" cy="666.47" r="2.5" fill="#c6c6c6" stroke="#262626" stroke-width="0.65"/>
<circle cx="105.71" cy="666.72" r="2.5" fill="#c6c6c6" stroke="#262626" stroke-width="0.65"/>
<circle cx="99.80" cy="650.80" r="2.5" fill="#c6c6c6" stroke="#262626" stroke-width="0.65"/>
<circle cx="127.67" cy="671.42" r="2.5" fill="#c6c6c6" stroke="#262626" stroke-width="0.65"/>
<circle cx="94.60" cy="617.40" r="2.5" fill="#c6c6c6" stroke="#262626" stroke-width="0.65"/>
<circle cx="127.28" cy="674.01" r="2.5" fill="#c6c6c6" stroke="#262626" stroke-width="0.65"/>
<circle cx="143.00" cy="638.10" r="2.5" fill="#c6c6c6" stroke="#262626" stroke-width="0.65"/>
<circle cx="116.62" cy="673.33" r="2.5" fill="#c6c6c6" stroke="#262626" stroke-width="0.65"/>
<circle cx="129.18" cy="671.79" r="2.5" fill="#c6c6c6" stroke="#262626" stroke-width="0.65"/>
<circle cx="128.88" cy="671.82" r="2.5" fill="#c6c6c6" stroke="#262626" stroke-width="0.65"/>
<circle cx="138.33" cy="661.17" r="2.5" fill="#c6c6c6" stroke="#262626" stroke-width="0.65"/>
<circle cx="105.46" cy="668.80" r="2.5" fill="#c6c6c6" stroke="#262626" stroke-width="0.65"/>
<circle cx="142.06" cy="655.32" r="2.5" fill="#c6c6c6" stroke="#262626" stroke-width="0.65"/>
<circle cx="160.70" cy="666.70" r="2.5" fill="#c6c6c6" stroke="#262626" stroke-width="0.65"/>
<circle cx="134.90" cy="663.91" r="2.5" fill="#c6c6c6" stroke="#262626" stroke-width="0.65"/>
<circle cx="141.06" cy="653.06" r="2.5" fill="#c6c6c6" stroke="#262626" stroke-width="0.65"/>
<circle cx="110.33" cy="670.62" r="2.5" fill="#c6c6c6" stroke="#262626" stroke-width="0.65"/>
<circle cx="133.53" cy="667.12" r="2.5" fill="#c6c6c6" stroke="#262626" stroke-width="0.65"/>
<circle cx="137.59" cy="661.74" r="2.5" fill="#c6c6c6" stroke="#262626" stroke-width="0.65"/>
<circle cx="146.10" cy="648.00" r="2.5" fill="#c6c6c6" stroke="#262626" stroke-width="0.65"/>
<circle cx="135.87" cy="662.13" r="2.5" fill="#c6c6c6" stroke="#262626" stroke-width="0.65"/>
<circle cx="100.60" cy="665.35" r="2.5" fill="#c6c6c6" stroke="#262626" stroke-width="0.65"/>
<circle cx="104.57" cy="667.34" r="2.5" fill="#c6c6c6" stroke="#262626" stroke-width="0.65"/>
<circle cx="107.00" cy="666.70" r="2.5" fill="#c6c6c6" stroke="#262626" stroke-width="0.65"/>
<circle cx="114.79" cy="672.07" r="2.5" fill="#c6c6c6" stroke="#262626" stroke-width="0.65"/>
<circle cx="130.26" cy="669.63" r="2.5" fill="#c6c6c6" stroke="#262626" stroke-width="0.65"/>
<circle cx="118.42" cy="671.32" r="2.5" fill="#c6c6c6" stroke="#262626" stroke-width="0.65"/>
<circle cx="138.10" cy="667.70" r="2.5" fill="#c6c6c6" stroke="#262626" stroke-width="0.65"/>
<circle cx="131.79" cy="667.30" r="2.5" fill="#c6c6c6" stroke="#262626" stroke-width="0.65"/>
<circle cx="125.23" cy="674.23" r="2.5" fill="#c6c6c6" stroke="#262626" stroke-width="0.65"/>
<circle cx="138.10" cy="662.10" r="2.5" fill="#c6c6c6" stroke="#262626" stroke-width="0.65"/>
<circle cx="142.29" cy="652.94" r="2.5" fill="#c6c6c6" stroke="#262626" stroke-width="0.65"/>
<circle cx="103.69" cy="665.94" r="2.5" fill="#c6c6c6" stroke="#262626" stroke-width="0.65"/>
<circle cx="113.72" cy="669.76" r="2.5" fill="#c6c6c6" stroke="#262626" stroke-width="0.65"/>
<circle cx="117.88" cy="671.66" r="2.5" fill="#c6c6c6" stroke="#262626" stroke-width="0.65"/>
<circle cx="102.01" cy="666.51" r="2.5" fill="#c6c6c6" stroke="#262626" stroke-width="0.65"/>
<circle cx="99.70" cy="644.00" r="2.5" fill="#c6c6c6" stroke="#262626" stroke-width="0.65"/>
<circle cx="128.52" cy="673.43" r="2.5" fill="#c6c6c6" stroke="#262626" stroke-width="0.65"/>
<circle cx="103.19" cy="667.07" r="2.5" fill="#c6c6c6" stroke="#262626" stroke-width="0.65"/>
<circle cx="109.26" cy="670.06" r="2.5" fill="#c6c6c6" stroke="#262626" stroke-width="0.65"/>
<circle cx="116.70" cy="667.70" r="2.5" fill="#c6c6c6" stroke="#262626" stroke-width="0.65"/>
<circle cx="135.10" cy="667.70" r="2.5" fill="#c6c6c6" stroke="#262626" stroke-width="0.65"/>
<circle cx="119.46" cy="674.59" r="2.5" fill="#c6c6c6" stroke="#262626" stroke-width="0.65"/>
<circle cx="140.29" cy="658.75" r="2.5" fill="#c6c6c6" stroke="#262626" stroke-width="0.65"/>
<circle cx="115.05" cy="671.22" r="2.5" fill="#c6c6c6" stroke="#262626" stroke-width="0.65"/>
<circle cx="146.30" cy="653.40" r="2.5" fill="#c6c6c6" stroke="#262626" stroke-width="0.65"/>
<circle cx="116.64" cy="673.84" r="2.5" fill="#c6c6c6" stroke="#262626" stroke-width="0.65"/>
<circle cx="102.80" cy="632.00" r="2.5" fill="#c6c6c6" stroke="#262626" stroke-width="0.65"/>
<circle cx="128.63" cy="673.37" r="2.5" fill="#c6c6c6" stroke="#262626" stroke-width="0.65"/>
<circle cx="161.70" cy="625.50" r="2.5" fill="#c6c6c6" stroke="#262626" stroke-width="0.65"/>
<circle cx="141.50" cy="657.40" r="2.5" fill="#c6c6c6" stroke="#262626" stroke-width="0.65"/>
<circle cx="138.76" cy="660.69" r="2.5" fill="#c6c6c6" stroke="#262626" stroke-width="0.65"/>
<circle cx="126.90" cy="674.30" r="2.5" fill="#c6c6c6" stroke="#262626" stroke-width="0.65"/>
<circle cx="111.37" cy="674.48" r="2.5" fill="#c6c6c6" stroke="#262626" stroke-width="0.65"/>
<circle cx="98.90" cy="667.50" r="2.5" fill="#c6c6c6" stroke="#262626" stroke-width="0.65"/>
<circle cx="112.60" cy="662.10" r="2.5" fill="#c6c6c6" stroke="#262626" stroke-width="0.65"/>
<circle cx="210.00" cy="519.20" r="2.5" fill="#e01010" stroke="#222" stroke-width="0.8"/>
<text x="205.30" y="522.00" font-size="7.7" text-anchor="end" fill="#333" >Venetoclax</text>
<text x="247.2" y="464.7" font-size="12.8" font-weight="bold" fill="#000" stroke="#000" stroke-width="0.4">h</text>
<line x1="286.20" y1="487.00" x2="286.20" y2="685.00" stroke="#7a7a7a" stroke-width="0.9" />
<line x1="286.20" y1="685.00" x2="352.70" y2="685.00" stroke="#7a7a7a" stroke-width="0.9" />
<line x1="283.00" y1="685.00" x2="286.20" y2="685.00" stroke="#7a7a7a" stroke-width="0.9" />
<text x="280.40" y="687.99" font-size="8.3" text-anchor="end" fill="#333" >0</text>
<line x1="283.00" y1="645.40" x2="286.20" y2="645.40" stroke="#7a7a7a" stroke-width="0.9" />
<text x="280.40" y="648.39" font-size="8.3" text-anchor="end" fill="#333" >0.01</text>
<line x1="283.00" y1="605.80" x2="286.20" y2="605.80" stroke="#7a7a7a" stroke-width="0.9" />
<text x="280.40" y="608.79" font-size="8.3" text-anchor="end" fill="#333" >0.02</text>
<line x1="283.00" y1="566.20" x2="286.20" y2="566.20" stroke="#7a7a7a" stroke-width="0.9" />
<text x="280.40" y="569.19" font-size="8.3" text-anchor="end" fill="#333" >0.03</text>
<line x1="283.00" y1="526.60" x2="286.20" y2="526.60" stroke="#7a7a7a" stroke-width="0.9" />
<text x="280.40" y="529.59" font-size="8.3" text-anchor="end" fill="#333" >0.04</text>
<line x1="283.00" y1="487.00" x2="286.20" y2="487.00" stroke="#7a7a7a" stroke-width="0.9" />
<text x="280.40" y="489.99" font-size="8.3" text-anchor="end" fill="#333" >0.05</text>
<line x1="305.10" y1="685.00" x2="305.10" y2="688.20" stroke="#7a7a7a" stroke-width="0.9" />
<line x1="333.40" y1="685.00" x2="333.40" y2="688.20" stroke="#7a7a7a" stroke-width="0.9" />
<rect x="297.3" y="532" width="17.3" height="153" fill="#fff" stroke="#7a7a7a" stroke-width="0.9"/>
<line x1="306.20" y1="520.40" x2="306.20" y2="541.70" stroke="#666" stroke-width="0.9" />
<line x1="302.40" y1="520.40" x2="310.10" y2="520.40" stroke="#666" stroke-width="0.9" />
<line x1="302.40" y1="541.70" x2="310.10" y2="541.70" stroke="#666" stroke-width="0.9" />
<circle cx="298.6" cy="519.6" r="2.4" fill="#333"/>
<circle cx="312.4" cy="521.3" r="2.4" fill="#333"/>
<circle cx="305.5" cy="552" r="2.4" fill="#333"/>
<path d="M306.6,509.8 V501.6 H335.2 V601" fill="none" stroke="#666" stroke-width="0.9"/>
<text transform="translate(335.20,647.00) rotate(-90)" x="0" y="2.70" font-size="7.5" text-anchor="middle" fill="#333"><tspan font-style="italic">P</tspan> = 0.0001</text>
<line x1="325.00" y1="682.50" x2="343.00" y2="682.50" stroke="#16289a" stroke-width="0.8" />
<rect x="324.6" y="679.0" width="5.8" height="5.2" rx="0.8" fill="#16289a"/>
<rect x="331.1" y="679.0" width="5.8" height="5.2" rx="0.8" fill="#16289a"/>
<rect x="337.6" y="679.0" width="5.8" height="5.2" rx="0.8" fill="#16289a"/>
<text transform="translate(310.8,695.4) rotate(-45)" x="0" y="0" font-size="8.6" text-anchor="end" fill="#333">DMSO</text>
<text transform="translate(339.1,695.4) rotate(-45)" x="0" y="0" font-size="8.6" text-anchor="end" fill="#333">TTFA</text>
<text transform="translate(252.5,587.2) rotate(-90)" x="0" y="3.2" font-size="9" text-anchor="middle" fill="#333">Venetoclax GI<tspan font-size="6" dy="2">50</tspan><tspan dy="-2"> (mM)</tspan></text>
<text x="378.9" y="464.7" font-size="12.8" font-weight="bold" fill="#000" stroke="#000" stroke-width="0.4">i</text>
<line x1="412.00" y1="487.30" x2="412.00" y2="685.00" stroke="#7a7a7a" stroke-width="0.9" />
<line x1="412.00" y1="685.00" x2="478.10" y2="685.00" stroke="#7a7a7a" stroke-width="0.9" />
<line x1="408.80" y1="685.00" x2="412.00" y2="685.00" stroke="#7a7a7a" stroke-width="0.9" />
<text x="406.00" y="687.99" font-size="8.3" text-anchor="end" fill="#333" >0</text>
<line x1="408.80" y1="635.60" x2="412.00" y2="635.60" stroke="#7a7a7a" stroke-width="0.9" />
<text x="406.00" y="638.59" font-size="8.3" text-anchor="end" fill="#333" >0.5</text>
<line x1="408.80" y1="586.20" x2="412.00" y2="586.20" stroke="#7a7a7a" stroke-width="0.9" />
<text x="406.00" y="589.19" font-size="8.3" text-anchor="end" fill="#333" >1.0</text>
<line x1="408.80" y1="536.80" x2="412.00" y2="536.80" stroke="#7a7a7a" stroke-width="0.9" />
<text x="406.00" y="539.79" font-size="8.3" text-anchor="end" fill="#333" >1.5</text>
<line x1="408.80" y1="487.40" x2="412.00" y2="487.40" stroke="#7a7a7a" stroke-width="0.9" />
<text x="406.00" y="490.39" font-size="8.3" text-anchor="end" fill="#333" >2.0</text>
<line x1="431.60" y1="685.00" x2="431.60" y2="688.20" stroke="#7a7a7a" stroke-width="0.9" />
<line x1="459.60" y1="685.00" x2="459.60" y2="688.20" stroke="#7a7a7a" stroke-width="0.9" />
<rect x="422.5" y="553.5" width="17.9" height="131.5" fill="#fff" stroke="#7a7a7a" stroke-width="0.9"/>
<line x1="431.40" y1="538.60" x2="431.40" y2="567.10" stroke="#666" stroke-width="0.9" />
<line x1="426.80" y1="538.60" x2="436.00" y2="538.60" stroke="#666" stroke-width="0.9" />
<line x1="426.80" y1="567.10" x2="436.00" y2="567.10" stroke="#666" stroke-width="0.9" />
<circle cx="431.4" cy="526.6" r="2.4" fill="#333"/>
<circle cx="431.4" cy="555.9" r="2.4" fill="#333"/>
<circle cx="431.6" cy="576.2" r="2.4" fill="#333"/>
<path d="M431.2,512.4 V504.2 H459.6 V601" fill="none" stroke="#666" stroke-width="0.9"/>
<text transform="translate(460.90,644.00) rotate(-90)" x="0" y="2.70" font-size="7.5" text-anchor="middle" fill="#333"><tspan font-style="italic">P</tspan> = 0.001</text>
<line x1="453.50" y1="679.40" x2="453.50" y2="684.50" stroke="#16289a" stroke-width="0.7" />
<rect x="450.6" y="676.8" width="5.8" height="5.2" rx="0.8" fill="#16289a"/>
<line x1="459.60" y1="679.40" x2="459.60" y2="684.50" stroke="#16289a" stroke-width="0.7" />
<rect x="456.70000000000005" y="676.8" width="5.8" height="5.2" rx="0.8" fill="#16289a"/>
<line x1="465.90" y1="679.40" x2="465.90" y2="684.50" stroke="#16289a" stroke-width="0.7" />
<rect x="463.0" y="676.8" width="5.8" height="5.2" rx="0.8" fill="#16289a"/>
<text transform="translate(437.1,695.4) rotate(-45)" x="0" y="0" font-size="8.6" text-anchor="end" fill="#333">DMSO</text>
<text transform="translate(465.1,695.4) rotate(-45)" x="0" y="0" font-size="8.6" text-anchor="end" fill="#333">TTFA</text>
<text transform="translate(383.7,587) rotate(-90)" x="0" y="3.2" font-size="9" text-anchor="middle" fill="#333">Navitoclax GI<tspan font-size="6" dy="2">50</tspan><tspan dy="-2"> (mM)</tspan></text>
<text x="510.5" y="463.8" font-size="12.8" font-weight="bold" fill="#000" stroke="#000" stroke-width="0.4">j</text>
<line x1="547.00" y1="446.90" x2="547.00" y2="688.80" stroke="#7a7a7a" stroke-width="0.9" />
<line x1="547.00" y1="688.80" x2="658.70" y2="688.80" stroke="#7a7a7a" stroke-width="0.9" />
<line x1="553.40" y1="688.80" x2="553.40" y2="692.20" stroke="#7a7a7a" stroke-width="0.9" />
<text x="553.40" y="701.80" font-size="7.5" text-anchor="middle" fill="#333" >0.1</text>
<line x1="589.30" y1="688.80" x2="589.30" y2="692.20" stroke="#7a7a7a" stroke-width="0.9" />
<text x="589.30" y="701.80" font-size="7.5" text-anchor="middle" fill="#333" >1.0</text>
<line x1="625.20" y1="688.80" x2="625.20" y2="692.20" stroke="#7a7a7a" stroke-width="0.9" />
<text x="625.20" y="701.80" font-size="7.5" text-anchor="middle" fill="#333" >10.0</text>
<line x1="564.21" y1="688.80" x2="564.21" y2="690.80" stroke="#7a7a7a" stroke-width="0.9" />
<line x1="570.53" y1="688.80" x2="570.53" y2="690.80" stroke="#7a7a7a" stroke-width="0.9" />
<line x1="575.01" y1="688.80" x2="575.01" y2="690.80" stroke="#7a7a7a" stroke-width="0.9" />
<line x1="578.49" y1="688.80" x2="578.49" y2="690.80" stroke="#7a7a7a" stroke-width="0.9" />
<line x1="581.34" y1="688.80" x2="581.34" y2="690.80" stroke="#7a7a7a" stroke-width="0.9" />
<line x1="583.74" y1="688.80" x2="583.74" y2="690.80" stroke="#7a7a7a" stroke-width="0.9" />
<line x1="585.82" y1="688.80" x2="585.82" y2="690.80" stroke="#7a7a7a" stroke-width="0.9" />
<line x1="587.66" y1="688.80" x2="587.66" y2="690.80" stroke="#7a7a7a" stroke-width="0.9" />
<line x1="600.11" y1="688.80" x2="600.11" y2="690.80" stroke="#7a7a7a" stroke-width="0.9" />
<line x1="606.43" y1="688.80" x2="606.43" y2="690.80" stroke="#7a7a7a" stroke-width="0.9" />
<line x1="610.91" y1="688.80" x2="610.91" y2="690.80" stroke="#7a7a7a" stroke-width="0.9" />
<line x1="614.39" y1="688.80" x2="614.39" y2="690.80" stroke="#7a7a7a" stroke-width="0.9" />
<line x1="617.24" y1="688.80" x2="617.24" y2="690.80" stroke="#7a7a7a" stroke-width="0.9" />
<line x1="619.64" y1="688.80" x2="619.64" y2="690.80" stroke="#7a7a7a" stroke-width="0.9" />
<line x1="621.72" y1="688.80" x2="621.72" y2="690.80" stroke="#7a7a7a" stroke-width="0.9" />
<line x1="623.56" y1="688.80" x2="623.56" y2="690.80" stroke="#7a7a7a" stroke-width="0.9" />
<line x1="636.01" y1="688.80" x2="636.01" y2="690.80" stroke="#7a7a7a" stroke-width="0.9" />
<line x1="642.33" y1="688.80" x2="642.33" y2="690.80" stroke="#7a7a7a" stroke-width="0.9" />
<line x1="646.81" y1="688.80" x2="646.81" y2="690.80" stroke="#7a7a7a" stroke-width="0.9" />
<line x1="650.29" y1="688.80" x2="650.29" y2="690.80" stroke="#7a7a7a" stroke-width="0.9" />
<line x1="653.14" y1="688.80" x2="653.14" y2="690.80" stroke="#7a7a7a" stroke-width="0.9" />
<line x1="655.54" y1="688.80" x2="655.54" y2="690.80" stroke="#7a7a7a" stroke-width="0.9" />
<line x1="657.62" y1="688.80" x2="657.62" y2="690.80" stroke="#7a7a7a" stroke-width="0.9" />
<line x1="589.30" y1="446.90" x2="589.30" y2="688.80" stroke="#333" stroke-width="0.9" stroke-dasharray="3,2"/>
<text x="602.40" y="713.50" font-size="8" text-anchor="middle" fill="#333" >HR</text>
<line x1="543.80" y1="451.40" x2="547.00" y2="451.40" stroke="#7a7a7a" stroke-width="0.9" />
<text x="540.60" y="453.90" font-size="7" text-anchor="end" fill="#333" >KICH</text>
<line x1="589.10" y1="451.40" x2="653.90" y2="451.40" stroke="#666" stroke-width="1.0" />
<path d="M620.70,448.80 L623.10,451.40 L620.70,454.00 L618.30,451.40 Z" fill="#000"/>
<line x1="543.80" y1="458.89" x2="547.00" y2="458.89" stroke="#7a7a7a" stroke-width="0.9" />
<text x="540.60" y="461.39" font-size="7" text-anchor="end" fill="#333" >LAML</text>
<line x1="593.20" y1="458.89" x2="608.60" y2="458.89" stroke="#ea3a3a" stroke-width="1.0" />
<path d="M601.30,456.29 L603.70,458.89 L601.30,461.49 L598.90,458.89 Z" fill="#e81010"/>
<line x1="543.80" y1="466.38" x2="547.00" y2="466.38" stroke="#7a7a7a" stroke-width="0.9" />
<text x="540.60" y="468.88" font-size="7" text-anchor="end" fill="#333" >THYM</text>
<line x1="581.00" y1="466.38" x2="617.50" y2="466.38" stroke="#666" stroke-width="1.0" />
<path d="M599.10,463.78 L601.50,466.38 L599.10,468.98 L596.70,466.38 Z" fill="#000"/>
<line x1="543.80" y1="473.87" x2="547.00" y2="473.87" stroke="#7a7a7a" stroke-width="0.9" />
<text x="540.60" y="476.37" font-size="7" text-anchor="end" fill="#333" >PRAD</text>
<line x1="589.90" y1="473.87" x2="605.30" y2="473.87" stroke="#ea3a3a" stroke-width="1.0" />
<path d="M597.80,471.27 L600.20,473.87 L597.80,476.47 L595.40,473.87 Z" fill="#e81010"/>
<line x1="543.80" y1="481.36" x2="547.00" y2="481.36" stroke="#7a7a7a" stroke-width="0.9" />
<text x="540.60" y="483.86" font-size="7" text-anchor="end" fill="#333" >BRCA</text>
<line x1="589.90" y1="481.36" x2="601.80" y2="481.36" stroke="#333" stroke-width="1.0" />
<path d="M595.10,478.76 L597.50,481.36 L595.10,483.96 L592.70,481.36 Z" fill="#000"/>
<line x1="543.80" y1="488.85" x2="547.00" y2="488.85" stroke="#7a7a7a" stroke-width="0.9" />
<text x="540.60" y="491.35" font-size="7" text-anchor="end" fill="#333" >UCEC</text>
<line x1="587.20" y1="488.85" x2="603.20" y2="488.85" stroke="#333" stroke-width="1.0" />
<path d="M594.50,486.25 L596.90,488.85 L594.50,491.45 L592.10,488.85 Z" fill="#000"/>
<line x1="543.80" y1="496.34" x2="547.00" y2="496.34" stroke="#7a7a7a" stroke-width="0.9" />
<text x="540.60" y="498.84" font-size="7" text-anchor="end" fill="#333" >PAAD</text>
<line x1="585.90" y1="496.34" x2="602.60" y2="496.34" stroke="#555" stroke-width="1.0" />
<path d="M594.00,493.74 L596.40,496.34 L594.00,498.94 L591.60,496.34 Z" fill="#000"/>
<line x1="543.80" y1="503.83" x2="547.00" y2="503.83" stroke="#7a7a7a" stroke-width="0.9" />
<text x="540.60" y="506.33" font-size="7" text-anchor="end" fill="#333" >LGG</text>
<line x1="587.00" y1="503.83" x2="599.90" y2="503.83" stroke="#333" stroke-width="1.0" />
<path d="M593.20,501.23 L595.60,503.83 L593.20,506.43 L590.80,503.83 Z" fill="#000"/>
<line x1="543.80" y1="511.32" x2="547.00" y2="511.32" stroke="#7a7a7a" stroke-width="0.9" />
<text x="540.60" y="513.82" font-size="7" text-anchor="end" fill="#333" >HNSC</text>
<line x1="587.80" y1="511.32" x2="598.60" y2="511.32" stroke="#555" stroke-width="1.0" />
<path d="M592.90,508.72 L595.30,511.32 L592.90,513.92 L590.50,511.32 Z" fill="#000"/>
<line x1="543.80" y1="518.81" x2="547.00" y2="518.81" stroke="#7a7a7a" stroke-width="0.9" />
<text x="540.60" y="521.31" font-size="7" text-anchor="end" fill="#333" >LUSC</text>
<line x1="586.40" y1="518.81" x2="597.20" y2="518.81" stroke="#333" stroke-width="1.0" />
<path d="M592.10,516.21 L594.50,518.81 L592.10,521.41 L589.70,518.81 Z" fill="#000"/>
<line x1="543.80" y1="526.30" x2="547.00" y2="526.30" stroke="#7a7a7a" stroke-width="0.9" />
<text x="540.60" y="528.80" font-size="7" text-anchor="end" fill="#333" >CHOL</text>
<line x1="575.10" y1="526.30" x2="608.60" y2="526.30" stroke="#666" stroke-width="1.0" />
<path d="M591.80,523.70 L594.20,526.30 L591.80,528.90 L589.40,526.30 Z" fill="#000"/>
<line x1="543.80" y1="533.79" x2="547.00" y2="533.79" stroke="#7a7a7a" stroke-width="0.9" />
<text x="540.60" y="536.29" font-size="7" text-anchor="end" fill="#333" >UCS</text>
<line x1="579.10" y1="533.79" x2="604.00" y2="533.79" stroke="#111" stroke-width="1.0" />
<path d="M591.80,531.19 L594.20,533.79 L591.80,536.39 L589.40,533.79 Z" fill="#000"/>
<line x1="543.80" y1="541.28" x2="547.00" y2="541.28" stroke="#7a7a7a" stroke-width="0.9" />
<text x="540.60" y="543.78" font-size="7" text-anchor="end" fill="#333" >GBM</text>
<line x1="583.70" y1="541.28" x2="599.40" y2="541.28" stroke="#555" stroke-width="1.0" />
<path d="M591.00,538.68 L593.40,541.28 L591.00,543.88 L588.60,541.28 Z" fill="#000"/>
<line x1="543.80" y1="548.77" x2="547.00" y2="548.77" stroke="#7a7a7a" stroke-width="0.9" />
<text x="540.60" y="551.27" font-size="7" text-anchor="end" fill="#333" >BLCA</text>
<line x1="584.50" y1="548.77" x2="596.40" y2="548.77" stroke="#333" stroke-width="1.0" />
<path d="M590.50,546.17 L592.90,548.77 L590.50,551.37 L588.10,548.77 Z" fill="#000"/>
<line x1="543.80" y1="556.26" x2="547.00" y2="556.26" stroke="#7a7a7a" stroke-width="0.9" />
<text x="540.60" y="558.76" font-size="7" text-anchor="end" fill="#333" >THCA</text>
<line x1="580.50" y1="556.26" x2="599.90" y2="556.26" stroke="#555" stroke-width="1.0" />
<path d="M590.50,553.66 L592.90,556.26 L590.50,558.86 L588.10,556.26 Z" fill="#000"/>
<line x1="543.80" y1="563.75" x2="547.00" y2="563.75" stroke="#7a7a7a" stroke-width="0.9" />
<text x="540.60" y="566.25" font-size="7" text-anchor="end" fill="#333" >SARC</text>
<line x1="581.80" y1="563.75" x2="597.20" y2="563.75" stroke="#333" stroke-width="1.0" />
<path d="M589.10,561.15 L591.50,563.75 L589.10,566.35 L586.70,563.75 Z" fill="#000"/>
<line x1="543.80" y1="571.24" x2="547.00" y2="571.24" stroke="#7a7a7a" stroke-width="0.9" />
<text x="540.60" y="573.74" font-size="7" text-anchor="end" fill="#333" >LUAD</text>
<line x1="583.20" y1="571.24" x2="595.10" y2="571.24" stroke="#555" stroke-width="1.0" />
<path d="M589.10,568.64 L591.50,571.24 L589.10,573.84 L586.70,571.24 Z" fill="#000"/>
<line x1="543.80" y1="578.73" x2="547.00" y2="578.73" stroke="#7a7a7a" stroke-width="0.9" />
<text x="540.60" y="581.23" font-size="7" text-anchor="end" fill="#333" >ESCA</text>
<line x1="579.10" y1="578.73" x2="598.60" y2="578.73" stroke="#333" stroke-width="1.0" />
<path d="M588.60,576.13 L591.00,578.73 L588.60,581.33 L586.20,578.73 Z" fill="#000"/>
<line x1="543.80" y1="586.22" x2="547.00" y2="586.22" stroke="#7a7a7a" stroke-width="0.9" />
<text x="540.60" y="588.72" font-size="7" text-anchor="end" fill="#333" >MESO</text>
<line x1="578.90" y1="586.22" x2="597.80" y2="586.22" stroke="#555" stroke-width="1.0" />
<path d="M588.00,583.62 L590.40,586.22 L588.00,588.82 L585.60,586.22 Z" fill="#000"/>
<line x1="543.80" y1="593.71" x2="547.00" y2="593.71" stroke="#7a7a7a" stroke-width="0.9" />
<text x="540.60" y="596.21" font-size="7" text-anchor="end" fill="#333" >SKCM</text>
<line x1="580.50" y1="593.71" x2="591.30" y2="593.71" stroke="#333" stroke-width="1.0" />
<path d="M585.90,591.11 L588.30,593.71 L585.90,596.31 L583.50,593.71 Z" fill="#000"/>
<line x1="543.80" y1="601.20" x2="547.00" y2="601.20" stroke="#7a7a7a" stroke-width="0.9" />
<text x="540.60" y="603.70" font-size="7" text-anchor="end" fill="#333" >CESC</text>
<line x1="575.60" y1="601.20" x2="595.10" y2="601.20" stroke="#666" stroke-width="1.0" />
<path d="M585.90,598.60 L588.30,601.20 L585.90,603.80 L583.50,601.20 Z" fill="#000"/>
<line x1="543.80" y1="608.69" x2="547.00" y2="608.69" stroke="#7a7a7a" stroke-width="0.9" />
<text x="540.60" y="611.19" font-size="7" text-anchor="end" fill="#333" >PCPG</text>
<line x1="563.50" y1="608.69" x2="607.20" y2="608.69" stroke="#111" stroke-width="1.0" />
<path d="M585.30,606.09 L587.70,608.69 L585.30,611.29 L582.90,608.69 Z" fill="#000"/>
<line x1="543.80" y1="616.18" x2="547.00" y2="616.18" stroke="#7a7a7a" stroke-width="0.9" />
<text x="540.60" y="618.68" font-size="7" text-anchor="end" fill="#333" >STAD</text>
<line x1="579.10" y1="616.18" x2="591.30" y2="616.18" stroke="#555" stroke-width="1.0" />
<path d="M585.30,613.58 L587.70,616.18 L585.30,618.78 L582.90,616.18 Z" fill="#000"/>
<line x1="543.80" y1="623.67" x2="547.00" y2="623.67" stroke="#7a7a7a" stroke-width="0.9" />
<text x="540.60" y="626.17" font-size="7" text-anchor="end" fill="#333" >COAD</text>
<line x1="577.00" y1="623.67" x2="592.60" y2="623.67" stroke="#333" stroke-width="1.0" />
<path d="M584.80,621.07 L587.20,623.67 L584.80,626.27 L582.40,623.67 Z" fill="#000"/>
<line x1="543.80" y1="631.16" x2="547.00" y2="631.16" stroke="#7a7a7a" stroke-width="0.9" />
<text x="540.60" y="633.66" font-size="7" text-anchor="end" fill="#333" >DLBC</text>
<line x1="560.80" y1="631.16" x2="608.60" y2="631.16" stroke="#666" stroke-width="1.0" />
<path d="M584.30,628.56 L586.70,631.16 L584.30,633.76 L581.90,631.16 Z" fill="#000"/>
<line x1="543.80" y1="638.65" x2="547.00" y2="638.65" stroke="#7a7a7a" stroke-width="0.9" />
<text x="540.60" y="641.15" font-size="7" text-anchor="end" fill="#333" >OV</text>
<line x1="578.30" y1="638.65" x2="589.10" y2="638.65" stroke="#333" stroke-width="1.0" />
<path d="M583.70,636.05 L586.10,638.65 L583.70,641.25 L581.30,638.65 Z" fill="#000"/>
<line x1="543.80" y1="646.14" x2="547.00" y2="646.14" stroke="#7a7a7a" stroke-width="0.9" />
<text x="540.60" y="648.64" font-size="7" text-anchor="end" fill="#333" >KIRC</text>
<line x1="577.50" y1="646.14" x2="589.10" y2="646.14" stroke="#ea3a3a" stroke-width="1.0" />
<path d="M583.20,643.54 L585.60,646.14 L583.20,648.74 L580.80,646.14 Z" fill="#e81010"/>
<line x1="543.80" y1="653.63" x2="547.00" y2="653.63" stroke="#7a7a7a" stroke-width="0.9" />
<text x="540.60" y="656.13" font-size="7" text-anchor="end" fill="#333" >LIHC</text>
<line x1="577.00" y1="653.63" x2="588.60" y2="653.63" stroke="#333" stroke-width="1.0" />
<path d="M582.60,651.03 L585.00,653.63 L582.60,656.23 L580.20,653.63 Z" fill="#000"/>
<line x1="543.80" y1="661.12" x2="547.00" y2="661.12" stroke="#7a7a7a" stroke-width="0.9" />
<text x="540.60" y="663.62" font-size="7" text-anchor="end" fill="#333" >READ</text>
<line x1="567.50" y1="661.12" x2="595.90" y2="661.12" stroke="#666" stroke-width="1.0" />
<path d="M581.60,658.52 L584.00,661.12 L581.60,663.72 L579.20,661.12 Z" fill="#000"/>
<line x1="543.80" y1="668.61" x2="547.00" y2="668.61" stroke="#7a7a7a" stroke-width="0.9" />
<text x="540.60" y="671.11" font-size="7" text-anchor="end" fill="#333" >TGCT</text>
<line x1="560.80" y1="668.61" x2="592.40" y2="668.61" stroke="#111" stroke-width="1.0" />
<path d="M576.40,666.01 L578.80,668.61 L576.40,671.21 L574.00,668.61 Z" fill="#000"/>
<line x1="543.80" y1="676.10" x2="547.00" y2="676.10" stroke="#7a7a7a" stroke-width="0.9" />
<text x="540.60" y="678.60" font-size="7" text-anchor="end" fill="#333" >ACC</text>
<line x1="552.10" y1="676.10" x2="586.40" y2="676.10" stroke="#ea3a3a" stroke-width="1.0" />
<path d="M568.90,673.50 L571.30,676.10 L568.90,678.70 L566.50,676.10 Z" fill="#e81010"/>
<line x1="543.80" y1="683.59" x2="547.00" y2="683.59" stroke="#7a7a7a" stroke-width="0.9" />
<text x="540.60" y="686.09" font-size="7" text-anchor="end" fill="#333" >KIRP</text>
<line x1="552.70" y1="683.59" x2="581.00" y2="683.59" stroke="#ea3a3a" stroke-width="1.0" />
<path d="M566.20,680.99 L568.60,683.59 L566.20,686.19 L563.80,683.59 Z" fill="#e81010"/>
<text x="629.10" y="461.59" font-size="7.5" text-anchor="start" fill="#333" >0.002</text>
<text x="625.60" y="476.57" font-size="7.5" text-anchor="start" fill="#333" >0.026</text>
<text x="611.30" y="648.84" font-size="7.5" text-anchor="start" fill="#333" >0.049</text>
<text x="596.70" y="678.80" font-size="7.5" text-anchor="start" fill="#333" >0.021</text>
<text x="594.50" y="686.29" font-size="7.5" text-anchor="start" fill="#333" >0.002</text>
</svg></body></html>
